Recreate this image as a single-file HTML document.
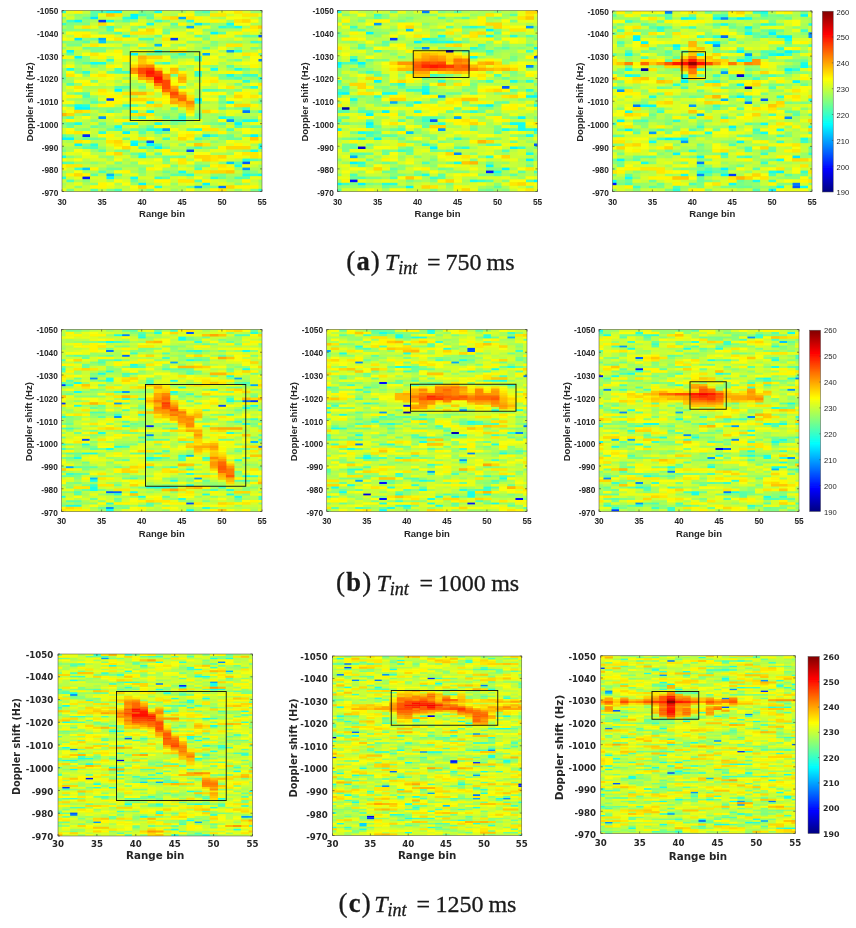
<!DOCTYPE html>
<html lang="en"><head><meta charset="utf-8"><title>Range-Doppler maps</title>
<style>html,body{margin:0;padding:0;background:#fff}body{width:856px;height:928px;overflow:hidden;position:relative}svg{position:absolute;left:0;top:0;display:block}</style></head><body>
<svg width="856" height="928" viewBox="0 0 856 928">
<defs>
<linearGradient id="jet" x1="0" y1="0" x2="0" y2="1"><stop offset="0.0000" stop-color="#800000"/><stop offset="0.0312" stop-color="#9f0000"/><stop offset="0.0625" stop-color="#bf0000"/><stop offset="0.0938" stop-color="#df0000"/><stop offset="0.1250" stop-color="#ff0000"/><stop offset="0.1562" stop-color="#ff2000"/><stop offset="0.1875" stop-color="#ff4000"/><stop offset="0.2188" stop-color="#ff6000"/><stop offset="0.2500" stop-color="#ff8000"/><stop offset="0.2812" stop-color="#ff9f00"/><stop offset="0.3125" stop-color="#ffbf00"/><stop offset="0.3438" stop-color="#ffdf00"/><stop offset="0.3750" stop-color="#ffff00"/><stop offset="0.4062" stop-color="#dfff20"/><stop offset="0.4375" stop-color="#bfff40"/><stop offset="0.4688" stop-color="#9fff60"/><stop offset="0.5000" stop-color="#80ff80"/><stop offset="0.5312" stop-color="#60ff9f"/><stop offset="0.5625" stop-color="#40ffbf"/><stop offset="0.5938" stop-color="#20ffdf"/><stop offset="0.6250" stop-color="#00ffff"/><stop offset="0.6562" stop-color="#00dfff"/><stop offset="0.6875" stop-color="#00bfff"/><stop offset="0.7188" stop-color="#009fff"/><stop offset="0.7500" stop-color="#0080ff"/><stop offset="0.7812" stop-color="#0060ff"/><stop offset="0.8125" stop-color="#0040ff"/><stop offset="0.8438" stop-color="#0020ff"/><stop offset="0.8750" stop-color="#0000ff"/><stop offset="0.9062" stop-color="#0000df"/><stop offset="0.9375" stop-color="#0000bf"/><stop offset="0.9688" stop-color="#00009f"/><stop offset="1.0000" stop-color="#000080"/></linearGradient>
<filter id="bl" x="-5%" y="-5%" width="110%" height="110%"><feGaussianBlur stdDeviation="0.65"/></filter>
<filter id="tb" x="-5%" y="-5%" width="110%" height="110%"><feGaussianBlur stdDeviation="0.4"/></filter>
</defs>
<rect width="856" height="928" fill="#fff"/>
<!-- panel 0 -->
<clipPath id="cp0"><rect x="62.00" y="10.50" width="200.00" height="181.00"/></clipPath>
<g clip-path="url(#cp0)">
<rect x="61.00" y="9.50" width="202.00" height="183.00" fill="#c4f03b"/>
<g filter="url(#bl)">
<g transform="translate(58.000 12.008) scale(8.0000 3.0167)" stroke-width="1.12" fill="none">
<path stroke="#0018ff" d="M3 55h1.06"/>
<path stroke="#0028ff" d="M3 41h1.06"/>
<path stroke="#0038ff" d="M5 3h1.06M14 9h1.06M6 29h1.06"/>
<path stroke="#0048ff" d="M16 46h1.06"/>
<path stroke="#0058ff" d="M25 8h1.06M11 43h1.06M23 50h1.06"/>
<path stroke="#0078ff" d="M23 33h1.06M20 58h1.06"/>
<path stroke="#0087ff" d="M25 16h1.06"/>
<path stroke="#0097ff" d="M21 13h1.06M5 35h1.06M21 36h1.06M13 39h1.06M23 52h1.06"/>
<path stroke="#00a7ff" d="M15 2h1.06M16 5h1.06M5 9h1.06M18 14h1.06M17 58h1.06"/>
<path stroke="#00b7ff" d="M12 11h1.06M6 54h1.06"/>
<path stroke="#00c7ff" d="M5 10h1.06M21 50h1.06M3 52h1.06"/>
<path stroke="#00e7ff" d="M4 2h1.06M17 4h1.06M2 9h1.06M18 41h1.06"/>
<path stroke="#00f7ff" d="M7 0h1.06M9 1h1.06M9 2h1.06M2 3h1.06M19 7h1.06M1 13h1.06M9 14h1.06M2 15h1.06M7 26h1.06M17 29h1.06M21 30h1.06M2 32h2.06M11 33h1.06M22 37h1.06M8 40h1.06M24 41h1.06M0 42h2.06M2 44h1.06M9 44h1.06M11 44h1.06M12 45h1.06M6 55h1.06M10 57h1.06M18 57h1.06"/>
<path stroke="#08fff7" d="M6 0h1.06M12 0h1.06M11 4h1.06M21 4h1.06M4 17h1.06M19 19h1.06M2 31h1.06M7 38h1.06M9 43h1.06M25 45h1.06M10 48h1.06M15 53h1.06M25 54h1.06M9 55h1.06"/>
<path stroke="#18ffe7" d="M6 3h1.06M22 5h1.06M8 8h1.06M12 13h1.06M5 17h1.06M1 19h1.06M22 19h1.06M21 21h1.06M25 22h1.06M9 33h1.06M25 33h1.06M15 35h1.06M20 35h1.06M23 36h2.06M2 37h1.06M12 37h1.06M12 39h1.06M24 46h1.06M0 48h1.06M22 51h1.06M23 54h1.06"/>
<path stroke="#28ffd7" d="M8 2h1.06M16 3h1.06M20 5h1.06M22 13h1.06M15 14h1.06M3 20h1.06M23 23h1.06M24 25h1.06M11 30h1.06M3 31h1.06M8 31h1.06M11 39h1.06M17 39h1.06M5 40h1.06M4 44h1.06M25 44h1.06M23 49h1.06M16 54h1.06M0 55h1.06M19 55h1.06M12 58h1.06M25 59h1.06"/>
<path stroke="#38ffc7" d="M0 0h1.06M1 3h1.06M12 3h1.06M0 4h1.06M6 5h1.06M24 10h1.06M6 16h1.06M13 17h1.06M8 20h1.06M17 20h1.06M17 21h1.06M23 21h2.06M17 30h1.06M23 32h1.06M10 35h1.06M8 37h2.06M19 41h1.06M13 42h1.06M10 45h1.06M10 47h1.06M2 52h1.06M24 54h1.06M12 55h1.06"/>
<path stroke="#48ffb7" d="M5 0h1.06M18 0h1.06M10 1h1.06M21 5h1.06M6 6h1.06M7 7h1.06M10 9h2.06M25 10h1.06M17 15h1.06M17 16h1.06M7 19h1.06M7 20h1.06M22 22h1.06M1 24h1.06M18 26h1.06M3 28h1.06M4 30h1.06M9 31h1.06M21 35h1.06M15 36h1.06M22 38h1.06M7 39h1.06M21 39h1.06M12 40h1.06M17 42h1.06M12 44h1.06M4 45h1.06M17 45h1.06M0 50h1.06M17 52h1.06M5 53h1.06M22 55h1.06M1 56h1.06M7 59h1.06"/>
<path stroke="#58ffa7" d="M4 0h1.06M4 1h1.06M11 2h1.06M8 3h1.06M14 4h1.06M18 4h1.06M20 7h1.06M17 8h1.06M23 8h1.06M3 10h1.06M18 12h1.06M1 14h1.06M11 14h1.06M3 17h1.06M21 18h1.06M7 25h2.06M19 26h1.06M2 27h2.06M25 27h1.06M20 28h1.06M14 32h1.06M20 32h1.06M6 33h1.06M15 34h1.06M1 35h1.06M13 35h1.06M14 36h1.06M1 37h1.06M20 37h1.06M16 39h1.06M10 40h1.06M0 41h1.06M3 45h1.06M5 46h1.06M12 47h1.06M24 49h1.06M1 50h1.06M22 50h1.06M4 54h1.06M14 54h2.06M13 55h1.06M23 55h1.06M17 56h1.06M4 59h1.06"/>
<path stroke="#68ff97" d="M17 0h1.06M11 1h1.06M3 2h1.06M10 5h1.06M13 7h1.06M12 8h1.06M24 8h1.06M4 9h1.06M8 11h1.06M3 12h1.06M12 14h1.06M25 14h1.06M14 15h1.06M22 16h1.06M12 17h1.06M23 19h1.06M6 20h1.06M14 21h1.06M0 22h1.06M21 22h1.06M10 25h1.06M20 30h1.06M25 30h1.06M1 31h1.06M3 34h1.06M17 34h1.06M17 35h1.06M22 36h1.06M5 37h1.06M1 38h1.06M4 38h1.06M11 38h1.06M24 38h2.06M6 39h1.06M9 39h2.06M21 41h1.06M23 41h1.06M3 42h2.06M8 42h1.06M21 42h2.06M10 43h1.06M11 45h1.06M13 45h1.06M9 47h1.06M13 48h1.06M15 48h1.06M17 51h2.06M6 52h2.06M13 53h1.06M23 53h1.06M7 54h1.06M20 55h1.06M9 56h1.06M16 58h1.06"/>
<path stroke="#78ff87" d="M10 0h1.06M13 3h1.06M1 4h1.06M3 4h1.06M0 6h1.06M3 6h1.06M13 6h1.06M18 9h1.06M0 10h1.06M19 10h1.06M1 11h2.06M4 12h2.06M10 12h1.06M24 12h1.06M4 13h2.06M14 14h1.06M0 16h1.06M2 16h1.06M2 20h1.06M20 21h1.06M22 21h1.06M20 22h1.06M4 23h1.06M25 23h1.06M22 24h1.06M15 25h1.06M23 25h1.06M20 26h1.06M22 26h1.06M4 29h1.06M25 29h1.06M5 30h1.06M4 32h1.06M6 32h3.06M22 32h1.06M0 37h1.06M14 37h1.06M19 37h1.06M13 40h1.06M1 41h1.06M20 41h1.06M5 42h1.06M3 44h1.06M16 45h1.06M0 46h1.06M7 46h2.06M14 48h1.06M13 49h1.06M25 49h1.06M7 50h1.06M14 51h1.06M10 52h1.06M20 54h1.06M18 58h2.06M1 59h1.06M6 59h1.06M11 59h1.06M24 59h1.06"/>
<path stroke="#87ff78" d="M11 0h1.06M2 1h1.06M17 1h1.06M0 2h1.06M25 2h1.06M3 3h1.06M7 3h1.06M9 3h1.06M2 4h1.06M1 5h1.06M5 5h1.06M14 5h1.06M1 6h2.06M9 6h1.06M18 6h2.06M5 7h2.06M18 8h1.06M22 8h1.06M3 9h1.06M1 10h2.06M6 10h1.06M16 10h2.06M22 10h1.06M15 11h1.06M19 11h1.06M11 12h1.06M22 12h1.06M25 12h1.06M13 14h1.06M3 15h1.06M15 15h2.06M3 16h1.06M2 17h1.06M4 18h1.06M19 18h1.06M2 19h1.06M15 19h1.06M25 19h1.06M0 21h1.06M3 21h1.06M24 22h1.06M0 23h1.06M1 27h1.06M3 29h1.06M20 29h1.06M0 31h1.06M5 32h1.06M7 33h1.06M24 33h1.06M13 34h1.06M0 35h1.06M8 35h2.06M22 35h1.06M4 36h1.06M18 37h1.06M5 38h1.06M23 38h1.06M3 39h1.06M25 41h1.06M18 42h1.06M20 42h1.06M19 43h1.06M15 44h1.06M18 45h2.06M14 46h1.06M23 46h1.06M1 48h1.06M6 48h1.06M11 48h1.06M4 50h1.06M9 50h1.06M13 50h1.06M20 50h1.06M10 53h1.06M24 53h1.06M19 54h1.06M3 56h1.06M4 57h1.06M22 57h1.06M2 58h1.06"/>
<path stroke="#97ff68" d="M24 0h2.06M3 1h1.06M18 1h1.06M2 2h1.06M21 3h1.06M19 4h2.06M7 5h1.06M9 5h1.06M15 5h1.06M19 5h1.06M4 6h1.06M9 8h1.06M7 10h1.06M11 10h1.06M21 10h1.06M9 11h1.06M0 12h1.06M6 12h1.06M13 13h1.06M16 14h1.06M23 15h1.06M1 16h1.06M21 16h1.06M0 17h1.06M8 17h1.06M16 18h1.06M18 18h1.06M0 19h1.06M21 19h1.06M0 20h1.06M25 20h1.06M8 22h1.06M23 22h1.06M1 23h1.06M2 24h1.06M9 24h2.06M8 26h1.06M21 26h1.06M21 27h1.06M4 28h1.06M2 29h1.06M3 30h1.06M18 30h1.06M24 30h1.06M10 31h1.06M20 31h1.06M21 32h1.06M5 33h1.06M14 33h1.06M17 33h1.06M2 34h1.06M12 34h1.06M19 34h1.06M14 35h1.06M16 35h1.06M24 35h1.06M19 36h1.06M13 37h1.06M15 37h1.06M0 38h1.06M6 38h1.06M10 38h1.06M20 38h1.06M2 39h1.06M8 39h1.06M10 41h1.06M2 42h1.06M16 43h2.06M0 45h1.06M2 45h1.06M5 45h1.06M4 46h1.06M11 46h1.06M15 46h1.06M25 46h1.06M21 47h1.06M5 48h1.06M9 48h1.06M12 48h1.06M2 50h1.06M17 50h1.06M6 51h1.06M8 51h3.06M25 51h1.06M5 52h1.06M22 52h1.06M0 53h1.06M6 53h1.06M14 53h1.06M10 54h1.06M13 54h1.06M21 55h1.06M21 56h1.06M25 56h1.06M9 57h1.06M14 57h1.06M14 59h1.06M22 59h1.06"/>
<path stroke="#a7ff58" d="M15 0h1.06M8 1h1.06M14 1h1.06M10 2h1.06M20 2h1.06M4 3h1.06M11 3h1.06M15 3h1.06M25 3h1.06M24 4h2.06M0 5h1.06M13 5h1.06M23 5h1.06M5 6h1.06M20 6h3.06M0 7h1.06M8 7h1.06M16 7h1.06M20 10h1.06M23 10h1.06M14 11h1.06M18 11h1.06M25 11h1.06M7 12h2.06M17 12h1.06M8 13h1.06M16 13h2.06M20 13h1.06M23 13h1.06M0 14h1.06M8 14h1.06M10 14h1.06M20 15h1.06M14 16h1.06M6 17h1.06M14 17h1.06M20 17h1.06M2 18h1.06M5 18h1.06M5 19h1.06M24 19h1.06M18 20h1.06M23 20h1.06M19 21h1.06M1 22h1.06M7 23h1.06M17 23h1.06M24 23h1.06M8 24h1.06M16 24h1.06M3 25h3.06M9 25h1.06M10 26h1.06M17 26h1.06M17 27h1.06M9 28h1.06M1 29h1.06M12 32h1.06M12 33h2.06M4 34h1.06M14 34h1.06M18 34h1.06M20 34h1.06M18 35h2.06M23 35h1.06M13 36h1.06M18 36h1.06M25 36h1.06M3 37h1.06M19 38h1.06M5 39h1.06M21 40h2.06M2 41h1.06M12 41h1.06M14 41h1.06M1 43h1.06M20 43h1.06M13 44h1.06M24 44h1.06M1 45h1.06M1 46h1.06M22 46h1.06M8 47h1.06M16 47h1.06M19 47h2.06M2 48h1.06M6 49h1.06M8 49h1.06M16 49h1.06M3 50h1.06M5 50h1.06M18 50h1.06M7 51h1.06M11 51h1.06M16 51h1.06M13 52h2.06M24 52h2.06M3 53h2.06M9 53h1.06M12 53h1.06M21 54h2.06M7 55h1.06M2 56h1.06M6 56h1.06M10 56h1.06M22 56h1.06M0 57h1.06M3 57h1.06M7 57h1.06M11 57h1.06M23 57h1.06M25 57h1.06M15 58h1.06M10 59h1.06"/>
<path stroke="#b7ff48" d="M8 0h1.06M14 0h1.06M19 0h1.06M1 1h1.06M13 1h1.06M19 2h1.06M0 3h1.06M7 4h2.06M16 4h1.06M14 6h2.06M18 7h1.06M1 8h1.06M11 8h1.06M12 9h1.06M21 9h1.06M23 9h2.06M4 10h1.06M10 10h1.06M12 10h1.06M17 11h1.06M20 11h1.06M13 12h2.06M19 12h1.06M21 12h1.06M2 13h2.06M24 13h1.06M2 14h1.06M21 14h1.06M6 15h1.06M4 16h1.06M8 18h1.06M15 18h1.06M20 18h1.06M22 18h1.06M3 19h1.06M8 19h1.06M16 19h1.06M4 20h1.06M9 23h1.06M0 24h1.06M21 24h1.06M0 25h1.06M6 25h1.06M19 25h1.06M0 26h1.06M3 26h1.06M11 26h1.06M25 26h1.06M12 27h1.06M8 28h1.06M12 28h1.06M17 28h1.06M2 30h1.06M12 30h1.06M19 30h1.06M22 30h1.06M7 31h1.06M17 32h2.06M10 33h1.06M15 33h1.06M23 34h2.06M4 35h1.06M7 35h1.06M12 35h1.06M3 36h1.06M5 36h1.06M16 36h1.06M6 37h1.06M11 37h1.06M17 37h1.06M21 37h1.06M23 37h1.06M2 38h2.06M14 38h1.06M11 40h1.06M18 40h1.06M4 41h1.06M17 41h1.06M22 41h1.06M0 43h1.06M4 43h2.06M12 43h3.06M18 43h1.06M5 44h1.06M10 44h1.06M19 44h2.06M14 45h2.06M6 46h1.06M18 46h1.06M21 46h1.06M4 47h2.06M3 49h1.06M22 49h1.06M8 50h1.06M4 51h1.06M8 52h2.06M1 53h1.06M16 53h1.06M25 53h1.06M0 54h1.06M5 54h1.06M12 54h1.06M17 54h1.06M8 55h1.06M16 55h1.06M18 55h1.06M0 58h1.06M8 58h1.06M13 58h2.06M25 58h1.06M5 59h1.06M15 59h1.06M17 59h2.06"/>
<path stroke="#c7ff38" d="M3 0h1.06M9 0h1.06M13 0h1.06M21 1h1.06M5 2h1.06M7 2h1.06M12 2h1.06M24 2h1.06M14 3h1.06M4 4h1.06M12 4h1.06M11 5h1.06M17 5h1.06M25 6h1.06M4 7h1.06M23 7h1.06M25 7h1.06M7 8h1.06M10 8h1.06M15 9h1.06M20 9h1.06M8 10h2.06M18 10h1.06M0 11h1.06M11 11h1.06M23 11h1.06M1 12h1.06M12 12h1.06M16 12h1.06M23 12h1.06M17 14h1.06M19 14h1.06M21 15h1.06M5 16h1.06M15 16h1.06M23 16h1.06M1 17h1.06M21 17h1.06M0 18h1.06M3 18h1.06M17 18h1.06M23 18h1.06M4 19h1.06M6 19h1.06M20 19h1.06M19 20h1.06M18 21h1.06M25 21h1.06M2 22h2.06M17 22h1.06M16 23h1.06M5 24h1.06M7 24h1.06M19 24h1.06M23 24h1.06M16 25h1.06M18 25h1.06M22 25h1.06M1 26h1.06M4 26h1.06M5 28h1.06M11 28h1.06M19 28h1.06M21 28h1.06M24 29h1.06M4 31h1.06M13 31h1.06M17 31h3.06M25 31h1.06M11 32h1.06M13 32h1.06M19 32h1.06M0 33h1.06M4 33h1.06M8 33h1.06M20 33h1.06M8 34h1.06M22 34h1.06M2 35h1.06M0 36h1.06M6 36h1.06M11 36h1.06M7 37h1.06M10 37h1.06M16 37h1.06M8 38h1.06M15 38h1.06M4 39h1.06M15 39h1.06M20 39h1.06M4 40h1.06M14 40h1.06M19 40h1.06M25 40h1.06M7 41h1.06M11 41h1.06M12 42h1.06M19 42h1.06M15 43h1.06M0 44h2.06M6 45h1.06M24 45h1.06M17 46h1.06M0 47h1.06M14 50h1.06M3 51h1.06M5 51h1.06M15 51h1.06M24 51h1.06M1 52h1.06M19 52h1.06M11 53h1.06M22 53h1.06M8 54h1.06M11 54h1.06M18 54h1.06M1 55h1.06M0 56h1.06M4 56h1.06M11 56h1.06M14 56h1.06M20 56h1.06M24 56h1.06M1 57h1.06M12 57h1.06M17 57h1.06M19 57h1.06M21 57h1.06M3 58h1.06M7 58h1.06M3 59h1.06M8 59h1.06M21 59h1.06M23 59h1.06"/>
<path stroke="#d7ff28" d="M16 0h1.06M23 0h1.06M1 2h1.06M6 2h1.06M10 3h1.06M13 4h1.06M2 5h1.06M8 5h1.06M12 5h1.06M0 8h1.06M16 8h1.06M19 8h1.06M19 9h1.06M3 11h1.06M7 11h1.06M16 11h1.06M24 11h1.06M2 12h1.06M9 12h1.06M6 13h1.06M11 13h1.06M22 15h1.06M9 16h1.06M12 16h1.06M16 16h1.06M20 16h1.06M7 17h1.06M25 17h1.06M25 18h1.06M16 20h1.06M24 20h1.06M8 21h1.06M16 21h1.06M4 22h1.06M7 22h1.06M9 22h1.06M6 23h1.06M20 23h3.06M11 25h1.06M17 25h1.06M6 26h1.06M9 26h1.06M7 27h1.06M16 27h1.06M24 27h1.06M18 28h1.06M23 29h1.06M8 30h1.06M23 30h1.06M1 32h1.06M15 32h1.06M24 32h2.06M5 34h1.06M7 34h1.06M25 34h1.06M6 35h1.06M2 36h1.06M10 36h1.06M4 37h1.06M16 38h1.06M21 38h1.06M0 39h1.06M22 39h1.06M24 39h2.06M0 40h1.06M6 40h2.06M9 40h1.06M13 41h1.06M14 42h1.06M8 43h1.06M22 43h2.06M14 44h1.06M21 44h1.06M3 46h1.06M9 46h1.06M12 46h1.06M2 47h1.06M11 47h1.06M15 47h1.06M7 48h2.06M16 48h1.06M1 49h1.06M4 49h2.06M9 49h3.06M21 49h1.06M6 50h1.06M12 50h1.06M19 50h1.06M25 50h1.06M16 52h1.06M18 52h1.06M4 55h2.06M10 55h2.06M14 55h1.06M5 56h1.06M8 56h1.06M19 56h1.06M15 57h1.06M24 57h1.06M1 58h1.06M2 59h1.06M13 59h1.06"/>
<path stroke="#e7ff18" d="M1 0h1.06M20 0h1.06M0 1h1.06M5 1h1.06M12 1h1.06M22 1h1.06M25 1h1.06M18 2h1.06M23 2h1.06M17 3h2.06M20 3h1.06M10 4h1.06M4 5h1.06M18 5h1.06M8 6h1.06M17 6h1.06M14 7h2.06M21 7h1.06M24 7h1.06M13 8h1.06M15 8h1.06M21 8h1.06M1 9h1.06M9 9h1.06M16 9h2.06M22 9h1.06M25 9h1.06M13 10h3.06M6 11h1.06M0 13h1.06M9 13h1.06M18 13h2.06M20 14h1.06M22 14h1.06M1 15h1.06M4 15h1.06M9 15h1.06M18 15h1.06M7 16h1.06M13 16h1.06M18 16h2.06M15 17h1.06M17 17h1.06M19 17h1.06M22 17h1.06M13 19h1.06M18 19h1.06M5 20h1.06M20 20h1.06M7 21h1.06M5 22h1.06M14 22h1.06M16 22h1.06M18 22h1.06M5 23h1.06M8 23h1.06M10 23h1.06M6 24h1.06M11 24h1.06M17 24h1.06M20 24h1.06M1 25h1.06M25 25h1.06M23 26h2.06M4 27h1.06M0 28h1.06M2 28h1.06M10 28h1.06M0 29h1.06M5 29h1.06M14 31h1.06M21 33h2.06M21 34h1.06M11 35h1.06M17 36h1.06M24 37h2.06M9 38h1.06M12 38h1.06M24 40h1.06M8 41h2.06M6 42h2.06M9 42h1.06M23 42h1.06M25 43h1.06M6 44h1.06M16 44h1.06M23 44h1.06M9 45h1.06M10 46h1.06M19 46h2.06M1 47h1.06M13 47h1.06M3 48h2.06M21 48h1.06M23 48h1.06M11 50h1.06M24 50h1.06M12 51h1.06M21 51h1.06M23 51h1.06M15 52h1.06M9 54h1.06M2 55h1.06M15 55h1.06M24 55h2.06M2 57h1.06M13 57h1.06M16 57h1.06M20 57h1.06M6 58h1.06M0 59h1.06M9 59h1.06M12 59h1.06"/>
<path stroke="#f7ff08" d="M21 0h1.06M15 1h1.06M21 2h2.06M24 3h1.06M6 4h1.06M9 4h1.06M22 4h2.06M7 6h1.06M10 6h1.06M12 6h1.06M16 6h1.06M1 7h1.06M12 7h1.06M17 7h1.06M4 8h2.06M14 8h1.06M0 9h1.06M6 9h1.06M5 11h1.06M13 11h1.06M15 12h1.06M20 12h1.06M10 13h1.06M25 13h1.06M3 14h1.06M5 14h3.06M7 15h1.06M13 15h1.06M19 15h1.06M24 15h2.06M24 16h1.06M9 17h1.06M16 17h1.06M23 17h2.06M1 18h1.06M7 18h1.06M12 18h3.06M1 20h1.06M13 20h1.06M22 20h1.06M2 21h1.06M9 21h1.06M6 22h1.06M2 23h2.06M14 23h1.06M4 24h1.06M15 24h1.06M18 24h1.06M24 24h1.06M20 25h1.06M2 26h1.06M12 26h1.06M15 26h2.06M0 27h1.06M6 27h1.06M18 27h1.06M20 27h1.06M25 28h1.06M7 29h2.06M13 29h1.06M18 29h2.06M21 29h2.06M0 30h2.06M9 30h2.06M21 31h1.06M0 32h1.06M9 32h2.06M1 33h1.06M6 34h1.06M16 34h1.06M3 35h1.06M25 35h1.06M9 36h1.06M20 36h1.06M13 38h1.06M17 38h1.06M1 39h1.06M14 39h1.06M23 39h1.06M3 40h1.06M15 40h1.06M17 40h1.06M23 40h1.06M5 41h1.06M11 42h1.06M25 42h1.06M21 43h1.06M8 44h1.06M7 45h1.06M2 46h1.06M3 47h1.06M17 47h2.06M22 47h1.06M25 47h1.06M0 49h1.06M2 49h1.06M7 49h1.06M12 49h1.06M14 49h1.06M17 49h1.06M10 50h1.06M16 50h1.06M0 52h1.06M12 52h1.06M2 53h1.06M7 53h1.06M17 55h1.06M7 56h1.06M6 57h1.06M8 57h1.06M9 58h1.06M16 59h1.06"/>
<path stroke="#fff700" d="M2 0h1.06M16 1h1.06M17 2h1.06M19 3h1.06M15 4h1.06M23 6h2.06M2 7h2.06M22 7h1.06M2 8h1.06M6 8h1.06M20 8h1.06M8 9h1.06M10 11h1.06M7 13h1.06M24 14h1.06M0 15h1.06M5 15h1.06M8 15h1.06M8 16h1.06M11 16h1.06M18 17h1.06M6 18h1.06M24 18h1.06M17 19h1.06M15 20h1.06M21 20h1.06M4 21h1.06M6 21h1.06M19 22h1.06M18 23h1.06M3 24h1.06M14 24h1.06M5 27h1.06M19 27h1.06M22 27h2.06M1 28h1.06M6 28h2.06M13 28h1.06M23 28h1.06M12 29h1.06M6 30h2.06M13 30h1.06M5 31h2.06M24 31h1.06M19 33h1.06M1 36h1.06M7 36h2.06M18 38h1.06M1 40h1.06M16 40h1.06M20 40h1.06M6 41h1.06M15 41h1.06M16 42h1.06M3 43h1.06M24 43h1.06M22 44h1.06M20 45h1.06M13 46h1.06M6 47h1.06M14 47h1.06M22 48h1.06M25 48h1.06M20 49h1.06M0 51h1.06M13 51h1.06M19 51h1.06M4 52h1.06M11 52h1.06M20 52h2.06M8 53h1.06M1 54h1.06M3 54h1.06M12 56h2.06M18 56h1.06M23 56h1.06M5 57h1.06M4 58h2.06M11 58h1.06M22 58h3.06M19 59h1.06"/>
<path stroke="#ffe700" d="M22 0h1.06M7 1h1.06M19 1h2.06M23 1h2.06M13 2h1.06M16 2h1.06M22 3h1.06M3 5h1.06M24 5h1.06M9 7h3.06M3 8h1.06M7 9h1.06M13 9h1.06M4 11h1.06M21 11h2.06M14 13h2.06M4 14h1.06M23 14h1.06M11 17h1.06M1 21h1.06M5 21h1.06M19 23h1.06M25 24h1.06M2 25h1.06M21 25h1.06M5 26h1.06M8 27h1.06M11 27h1.06M16 28h1.06M24 28h1.06M11 29h1.06M11 31h1.06M3 33h1.06M16 33h1.06M9 34h1.06M11 34h1.06M12 36h1.06M18 39h2.06M2 40h1.06M16 41h1.06M10 42h1.06M2 43h1.06M6 43h1.06M7 44h1.06M18 44h1.06M23 47h2.06M19 48h1.06M24 48h1.06M15 49h1.06M19 49h1.06M15 50h1.06M1 51h2.06M20 51h1.06M17 53h2.06M15 56h2.06M20 59h1.06"/>
<path stroke="#ffd700" d="M14 2h1.06M23 3h1.06M5 4h1.06M11 6h1.06M11 15h2.06M9 18h1.06M22 28h1.06M9 29h2.06M16 29h1.06M12 31h1.06M22 31h2.06M2 33h1.06M18 33h1.06M1 34h1.06M10 34h1.06M15 42h1.06M7 43h1.06M8 45h1.06M21 45h3.06M7 47h1.06M17 48h2.06M20 48h1.06M18 49h1.06M19 53h2.06M2 54h1.06M10 58h1.06M21 58h1.06"/>
<path stroke="#ffc700" d="M6 1h1.06M25 5h1.06M10 16h1.06M10 17h1.06M12 19h1.06M14 20h1.06M15 21h1.06M11 23h1.06M12 25h1.06M13 27h1.06M15 31h1.06M16 32h1.06M24 42h1.06M17 44h1.06M21 53h1.06"/>
<path stroke="#ffb700" d="M10 15h1.06M14 19h1.06M15 23h1.06M9 27h2.06M15 27h1.06M14 29h1.06M15 30h1.06M0 34h1.06"/>
<path stroke="#ffa700" d="M10 22h1.06M15 22h1.06M14 25h1.06M14 30h1.06M16 31h1.06"/>
<path stroke="#ff9700" d="M10 18h1.06M9 20h1.06M13 21h1.06M13 22h1.06"/>
<path stroke="#ff8700" d="M11 18h1.06M9 19h1.06M11 22h1.06M14 26h1.06M16 30h1.06"/>
<path stroke="#ff7800" d="M10 21h1.06M12 24h1.06M15 28h1.06"/>
<path stroke="#ff6800" d="M13 26h1.06M14 28h1.06M15 29h1.06"/>
<path stroke="#ff4800" d="M10 19h1.06M10 20h1.06M12 20h1.06M13 23h1.06M13 24h1.06M13 25h1.06M14 27h1.06"/>
<path stroke="#ff3800" d="M11 19h1.06M12 21h1.06"/>
<path stroke="#ff2800" d="M11 21h1.06M12 23h1.06"/>
<path stroke="#ff1800" d="M11 20h1.06"/>
<path stroke="#ff0800" d="M12 22h1.06"/>
</g></g></g>
<!-- panel 1 -->
<clipPath id="cp1"><rect x="337.50" y="10.50" width="200.00" height="181.00"/></clipPath>
<g clip-path="url(#cp1)">
<rect x="336.50" y="9.50" width="202.00" height="183.00" fill="#c4f03b"/>
<g filter="url(#bl)">
<g transform="translate(333.500 12.008) scale(8.0000 3.0167)" stroke-width="1.12" fill="none">
<path stroke="#0000a7" d="M14 13h1.06M1 32h1.06"/>
<path stroke="#0000d7" d="M3 45h1.06"/>
<path stroke="#0008ff" d="M2 56h1.06"/>
<path stroke="#0018ff" d="M19 53h1.06"/>
<path stroke="#0038ff" d="M7 9h1.06"/>
<path stroke="#0058ff" d="M25 15h1.06M21 25h1.06M12 36h1.06M25 44h1.06"/>
<path stroke="#0078ff" d="M11 0h1.06"/>
<path stroke="#0087ff" d="M11 12h1.06M24 18h1.06M15 47h1.06"/>
<path stroke="#0097ff" d="M5 4h1.06M24 5h1.06M13 28h1.06M13 39h1.06"/>
<path stroke="#00a7ff" d="M7 30h1.06M15 35h1.06M2 48h1.06"/>
<path stroke="#00c7ff" d="M9 6h1.06M9 40h1.06"/>
<path stroke="#00e7ff" d="M2 16h1.06"/>
<path stroke="#00f7ff" d="M19 6h1.06M4 7h1.06M10 10h1.06M25 12h1.06M0 17h1.06M3 17h1.06M5 23h1.06M1 27h1.06M11 27h1.06M24 28h2.06M10 30h1.06M19 31h1.06M6 33h1.06M4 34h1.06M23 35h1.06M4 37h1.06M0 39h1.06M25 39h1.06M5 42h1.06M12 45h1.06M22 45h1.06M24 49h1.06M2 50h1.06M19 51h1.06M21 52h1.06M25 56h1.06M0 57h1.06M3 57h1.06M9 58h1.06"/>
<path stroke="#08fff7" d="M13 8h1.06M19 8h1.06M11 9h1.06M14 10h1.06M17 15h1.06M0 18h1.06M0 27h1.06M6 27h2.06M2 29h1.06M25 31h1.06M22 37h2.06M23 39h1.06M3 40h1.06M24 41h1.06"/>
<path stroke="#18ffe7" d="M0 0h1.06M12 10h1.06M22 23h1.06M11 26h1.06M4 38h1.06M23 38h1.06M21 39h1.06M24 47h1.06M15 50h1.06M20 53h1.06M11 54h1.06M17 56h1.06"/>
<path stroke="#28ffd7" d="M17 5h1.06M22 8h1.06M13 10h1.06M17 12h1.06M13 23h1.06M24 23h1.06M8 24h1.06M11 25h1.06M24 26h1.06M5 28h1.06M18 31h1.06M10 33h1.06M17 33h1.06M13 37h1.06M24 39h1.06M3 42h1.06M11 44h1.06M16 45h1.06M19 48h1.06M3 50h1.06M6 57h2.06"/>
<path stroke="#38ffc7" d="M5 1h1.06M2 5h1.06M12 9h1.06M15 10h1.06M5 13h1.06M19 13h1.06M24 13h1.06M4 20h1.06M12 21h1.06M0 23h1.06M19 23h1.06M9 26h2.06M0 36h1.06M11 36h1.06M4 40h1.06M15 42h1.06M23 45h1.06M8 46h1.06M12 55h1.06M18 56h1.06M1 57h1.06"/>
<path stroke="#48ffb7" d="M16 5h1.06M18 5h1.06M18 11h1.06M3 12h1.06M16 13h1.06M2 15h1.06M1 17h2.06M20 21h1.06M1 25h1.06M0 26h1.06M9 31h1.06M0 33h1.06M3 33h2.06M11 35h2.06M8 39h1.06M25 40h1.06M4 41h1.06M15 45h1.06M21 46h1.06M11 50h1.06M3 51h1.06M25 53h1.06M2 54h1.06M3 55h1.06M7 55h1.06M24 56h1.06"/>
<path stroke="#58ffa7" d="M15 0h1.06M22 1h1.06M5 2h1.06M13 2h1.06M16 2h1.06M14 5h1.06M3 6h1.06M20 7h1.06M24 8h1.06M6 10h1.06M3 11h1.06M21 12h1.06M4 16h1.06M3 18h1.06M5 21h1.06M13 21h1.06M7 24h1.06M8 25h1.06M1 26h1.06M22 26h1.06M25 27h1.06M21 30h1.06M1 33h1.06M9 35h1.06M4 36h1.06M8 36h1.06M11 38h1.06M5 40h1.06M20 40h1.06M6 41h2.06M19 44h2.06M9 46h1.06M14 46h1.06M2 47h2.06M7 52h1.06M23 53h1.06M13 54h1.06M20 54h1.06M22 54h1.06M13 55h1.06M19 56h1.06M20 58h1.06M0 59h1.06"/>
<path stroke="#68ff97" d="M7 0h1.06M0 7h1.06M13 9h1.06M11 10h1.06M6 11h1.06M24 11h1.06M10 12h1.06M18 12h1.06M19 14h1.06M8 15h1.06M2 19h1.06M5 20h1.06M9 20h1.06M11 22h1.06M21 22h1.06M12 27h1.06M14 27h2.06M17 27h1.06M0 28h1.06M12 29h1.06M8 30h2.06M20 30h1.06M6 31h1.06M17 31h1.06M15 32h1.06M14 33h1.06M16 33h1.06M18 33h1.06M1 35h1.06M13 35h1.06M1 37h1.06M11 37h1.06M5 38h1.06M7 39h1.06M17 39h1.06M22 39h1.06M2 42h1.06M8 42h1.06M22 43h1.06M2 44h1.06M2 45h1.06M9 45h1.06M6 46h1.06M12 46h1.06M4 47h1.06M6 47h1.06M9 47h1.06M4 49h1.06M6 50h1.06M19 50h1.06M24 51h1.06M13 52h1.06M6 53h1.06M10 54h1.06M2 55h1.06M6 58h1.06M19 59h1.06"/>
<path stroke="#78ff87" d="M13 0h1.06M9 2h1.06M20 2h1.06M3 3h1.06M8 3h1.06M22 3h1.06M4 5h1.06M25 5h1.06M2 6h1.06M13 6h1.06M20 6h1.06M0 8h1.06M25 9h1.06M16 10h1.06M13 12h1.06M20 12h1.06M17 13h2.06M22 15h1.06M6 16h1.06M22 16h1.06M25 16h1.06M3 20h1.06M22 20h1.06M14 21h1.06M18 23h1.06M0 24h1.06M11 24h1.06M17 24h1.06M25 24h1.06M6 25h1.06M16 26h1.06M3 28h1.06M5 29h1.06M23 29h1.06M2 30h1.06M16 30h1.06M3 32h1.06M18 32h2.06M8 34h1.06M20 34h1.06M0 35h1.06M22 35h1.06M25 35h1.06M10 36h1.06M12 37h1.06M8 38h1.06M17 38h1.06M20 38h1.06M20 39h1.06M2 40h1.06M5 41h1.06M23 41h1.06M1 42h1.06M19 42h1.06M9 43h2.06M13 43h1.06M1 44h1.06M4 44h1.06M12 44h1.06M1 45h1.06M25 45h1.06M1 46h1.06M7 46h1.06M13 46h1.06M12 49h1.06M17 49h1.06M7 50h1.06M14 50h1.06M14 52h1.06M7 53h1.06M10 53h1.06M8 54h1.06M18 54h1.06M4 55h2.06M9 56h1.06M12 56h1.06M2 57h1.06M4 57h1.06M14 57h1.06M12 59h1.06M18 59h1.06"/>
<path stroke="#87ff78" d="M20 0h1.06M1 1h1.06M6 1h1.06M12 1h1.06M6 2h1.06M15 2h1.06M14 3h1.06M11 4h1.06M7 6h1.06M12 6h1.06M5 7h2.06M16 7h1.06M1 8h1.06M5 8h1.06M25 8h1.06M14 9h1.06M20 9h1.06M2 10h1.06M19 10h1.06M5 11h1.06M21 11h1.06M4 12h1.06M14 12h1.06M23 12h1.06M7 14h1.06M5 16h1.06M25 18h1.06M0 19h1.06M4 19h1.06M24 19h1.06M0 20h1.06M0 21h1.06M6 21h1.06M22 21h1.06M23 23h1.06M5 25h1.06M9 25h2.06M17 25h1.06M6 26h2.06M20 27h2.06M2 28h1.06M13 29h1.06M0 30h1.06M4 30h2.06M12 30h1.06M20 31h1.06M0 32h1.06M19 34h1.06M10 35h1.06M0 37h1.06M10 37h1.06M21 37h1.06M5 39h1.06M10 39h1.06M10 40h1.06M11 41h2.06M22 41h1.06M12 42h1.06M16 42h1.06M20 42h1.06M8 45h1.06M17 47h1.06M3 48h1.06M10 48h1.06M18 48h1.06M25 48h1.06M0 49h1.06M25 49h1.06M8 51h1.06M12 51h1.06M8 52h1.06M19 52h2.06M15 53h2.06M0 54h1.06M7 54h1.06M19 54h1.06M21 56h1.06M5 57h1.06M20 57h1.06M0 58h1.06M3 58h1.06M7 58h2.06M24 58h1.06M21 59h1.06"/>
<path stroke="#97ff68" d="M14 0h1.06M11 1h1.06M17 1h1.06M21 1h1.06M3 2h2.06M8 2h1.06M19 2h1.06M0 3h1.06M7 3h1.06M9 3h1.06M1 4h1.06M4 6h2.06M16 6h1.06M25 6h1.06M18 8h1.06M20 8h1.06M23 8h1.06M8 9h1.06M16 9h1.06M1 10h1.06M7 10h1.06M9 11h1.06M19 11h1.06M2 12h1.06M15 12h1.06M22 12h1.06M6 13h1.06M20 13h1.06M4 14h1.06M22 14h1.06M18 15h1.06M21 16h1.06M4 17h1.06M21 17h1.06M3 19h1.06M25 19h1.06M19 20h1.06M8 21h1.06M23 21h1.06M1 22h1.06M20 22h1.06M12 23h1.06M14 23h1.06M17 23h1.06M12 25h1.06M16 25h1.06M8 26h1.06M17 26h1.06M23 26h1.06M13 27h1.06M22 27h1.06M4 28h1.06M4 29h1.06M24 29h2.06M11 30h1.06M25 30h1.06M2 31h1.06M5 31h1.06M16 31h1.06M24 31h1.06M2 33h1.06M5 33h1.06M8 33h1.06M20 33h1.06M17 35h2.06M21 35h1.06M2 37h2.06M6 39h1.06M8 41h1.06M0 42h1.06M4 42h1.06M14 42h1.06M8 43h1.06M14 43h1.06M24 43h1.06M18 44h1.06M4 45h1.06M24 46h1.06M21 47h1.06M5 48h1.06M8 48h1.06M12 48h1.06M1 50h1.06M5 50h1.06M12 50h1.06M21 50h1.06M24 50h1.06M2 51h1.06M4 51h1.06M3 53h1.06M14 53h1.06M9 54h1.06M21 54h1.06M25 54h1.06M6 55h1.06M23 55h1.06M10 56h1.06M1 58h2.06M14 58h1.06M19 58h1.06M20 59h1.06"/>
<path stroke="#a7ff58" d="M4 0h1.06M9 0h1.06M16 0h1.06M18 0h2.06M22 0h1.06M2 1h1.06M8 1h3.06M18 1h1.06M10 2h1.06M14 2h1.06M21 2h1.06M2 3h1.06M19 3h1.06M2 4h1.06M12 4h1.06M24 4h1.06M0 5h1.06M7 5h1.06M11 5h1.06M6 6h1.06M17 6h1.06M12 7h1.06M23 7h1.06M4 8h1.06M8 8h1.06M12 8h1.06M15 8h1.06M21 8h1.06M0 9h1.06M4 9h1.06M10 9h1.06M24 9h1.06M0 10h1.06M9 10h1.06M21 10h1.06M24 10h1.06M10 11h1.06M12 11h1.06M22 11h2.06M25 11h1.06M19 12h1.06M24 12h1.06M0 13h1.06M4 13h1.06M7 13h1.06M15 13h1.06M21 13h2.06M9 14h1.06M20 14h1.06M23 14h1.06M0 15h1.06M9 15h1.06M20 15h1.06M23 15h1.06M0 16h1.06M3 16h1.06M24 16h1.06M1 18h1.06M4 18h1.06M1 19h1.06M21 20h1.06M1 21h1.06M15 21h1.06M2 22h1.06M6 22h1.06M12 22h2.06M22 22h1.06M24 22h1.06M2 23h1.06M6 23h1.06M11 23h1.06M15 23h1.06M25 23h1.06M1 24h1.06M5 24h1.06M14 24h1.06M20 24h1.06M22 24h1.06M7 25h1.06M23 25h1.06M2 26h1.06M4 26h1.06M12 26h2.06M25 26h1.06M10 27h1.06M24 27h1.06M14 28h1.06M3 29h1.06M22 29h1.06M6 30h1.06M7 31h1.06M20 32h1.06M15 33h1.06M25 33h1.06M13 34h1.06M21 34h1.06M24 34h1.06M5 35h2.06M14 35h1.06M24 35h1.06M5 36h1.06M18 36h1.06M25 36h1.06M5 37h1.06M19 37h1.06M14 38h2.06M19 38h1.06M11 40h1.06M9 41h1.06M7 42h1.06M23 42h1.06M11 43h1.06M25 43h1.06M10 44h1.06M15 44h1.06M17 45h1.06M24 45h1.06M20 46h1.06M20 47h1.06M25 47h1.06M8 49h1.06M23 49h1.06M13 50h1.06M18 50h1.06M20 50h1.06M7 51h1.06M9 51h1.06M11 51h1.06M20 51h1.06M12 52h1.06M22 52h1.06M21 53h1.06M23 54h1.06M11 55h1.06M0 56h1.06M11 56h1.06M16 56h1.06M9 57h1.06M13 57h1.06M4 58h1.06M18 58h1.06M21 58h1.06M6 59h1.06M14 59h1.06"/>
<path stroke="#b7ff48" d="M1 0h1.06M3 0h1.06M17 0h1.06M21 0h1.06M4 1h1.06M0 2h1.06M2 2h1.06M7 2h1.06M11 2h1.06M17 2h1.06M10 3h4.06M20 3h1.06M6 4h1.06M15 4h1.06M3 5h1.06M5 5h1.06M15 5h1.06M19 5h1.06M0 6h2.06M21 6h1.06M22 7h1.06M14 8h1.06M5 9h2.06M3 10h1.06M5 10h1.06M8 10h1.06M17 10h1.06M2 11h1.06M4 11h1.06M13 11h1.06M20 11h1.06M9 12h1.06M6 14h1.06M21 14h1.06M24 14h1.06M3 15h1.06M6 15h2.06M19 15h1.06M21 15h1.06M8 16h2.06M17 16h1.06M23 16h1.06M2 18h1.06M5 18h1.06M5 19h1.06M8 20h1.06M23 20h1.06M8 22h1.06M19 22h1.06M23 22h1.06M4 24h1.06M6 24h1.06M9 24h2.06M19 24h1.06M21 24h1.06M23 24h1.06M0 25h1.06M25 25h1.06M5 26h1.06M14 26h2.06M16 27h1.06M19 27h1.06M6 28h1.06M21 29h1.06M3 30h1.06M23 30h1.06M3 31h1.06M8 31h1.06M23 32h1.06M14 34h1.06M25 34h1.06M19 36h1.06M22 36h2.06M9 37h1.06M14 37h1.06M3 38h1.06M7 38h1.06M18 38h1.06M1 39h1.06M18 39h2.06M7 40h1.06M13 40h1.06M18 40h2.06M2 41h2.06M10 41h1.06M15 41h1.06M25 41h1.06M6 42h1.06M18 42h1.06M24 42h1.06M0 43h1.06M15 43h2.06M5 44h1.06M16 44h1.06M0 45h1.06M5 46h1.06M15 46h1.06M22 46h1.06M8 47h1.06M11 47h1.06M16 47h1.06M11 48h1.06M24 48h1.06M5 49h1.06M11 49h1.06M0 50h1.06M4 50h1.06M10 50h1.06M23 50h1.06M18 51h1.06M23 51h1.06M0 52h1.06M11 53h1.06M18 53h1.06M24 53h1.06M3 54h1.06M6 54h1.06M24 54h1.06M14 55h1.06M16 55h2.06M22 55h1.06M8 56h1.06M12 57h1.06M16 57h1.06M5 58h1.06M11 59h1.06M13 59h1.06"/>
<path stroke="#c7ff38" d="M6 0h1.06M12 2h1.06M22 2h1.06M25 2h1.06M3 4h1.06M7 4h1.06M13 4h1.06M16 4h1.06M22 4h2.06M25 4h1.06M10 5h1.06M12 5h1.06M8 6h1.06M11 6h1.06M18 6h1.06M1 7h1.06M7 7h1.06M10 7h1.06M15 7h1.06M25 7h1.06M6 8h1.06M9 9h1.06M25 10h1.06M11 11h1.06M17 11h1.06M16 12h1.06M8 13h1.06M2 14h2.06M8 14h1.06M16 14h1.06M5 15h1.06M1 16h1.06M7 16h1.06M5 17h1.06M2 20h1.06M4 21h1.06M17 22h1.06M25 22h1.06M1 23h1.06M20 23h2.06M18 24h1.06M24 24h1.06M2 25h1.06M13 25h1.06M15 25h1.06M24 25h1.06M9 27h1.06M18 27h1.06M1 28h1.06M9 28h2.06M15 28h1.06M19 28h2.06M11 29h1.06M18 29h3.06M22 30h1.06M13 31h1.06M2 32h1.06M4 32h1.06M22 33h1.06M3 34h1.06M23 34h1.06M8 35h1.06M1 36h1.06M3 36h1.06M7 36h1.06M9 36h1.06M2 38h1.06M6 38h1.06M22 38h1.06M11 39h1.06M15 39h2.06M14 40h1.06M21 40h1.06M24 40h1.06M13 41h1.06M17 41h1.06M21 41h1.06M9 42h1.06M11 42h1.06M17 42h1.06M21 42h1.06M5 43h1.06M21 43h1.06M23 43h1.06M3 44h1.06M6 44h1.06M17 44h1.06M23 44h2.06M10 45h2.06M14 45h1.06M21 45h1.06M16 46h3.06M25 46h1.06M1 47h1.06M12 47h1.06M22 47h1.06M0 48h1.06M4 48h1.06M9 48h1.06M22 48h2.06M1 49h1.06M10 49h1.06M19 49h2.06M22 50h1.06M10 51h1.06M17 51h1.06M22 51h1.06M25 51h1.06M15 52h1.06M18 52h1.06M0 53h1.06M2 53h1.06M8 53h2.06M13 53h1.06M17 53h1.06M4 54h2.06M12 54h1.06M4 56h1.06M20 56h1.06M8 57h1.06M10 57h1.06M15 57h1.06M19 57h1.06M23 58h1.06M2 59h1.06M9 59h2.06M22 59h1.06"/>
<path stroke="#d7ff28" d="M5 0h1.06M10 0h1.06M7 1h1.06M13 1h1.06M16 1h1.06M1 2h1.06M4 3h1.06M15 3h2.06M25 3h1.06M21 4h1.06M6 5h1.06M14 6h1.06M11 7h1.06M13 7h1.06M19 7h1.06M24 7h1.06M2 8h2.06M18 10h1.06M0 11h2.06M7 12h1.06M12 12h1.06M1 13h2.06M23 13h1.06M25 13h1.06M0 14h1.06M5 14h1.06M18 14h1.06M1 15h1.06M22 17h1.06M25 17h1.06M6 19h1.06M1 20h1.06M6 20h1.06M2 21h1.06M21 21h1.06M25 21h1.06M3 22h1.06M14 22h1.06M16 22h1.06M4 23h1.06M10 23h1.06M2 27h1.06M8 27h1.06M9 29h1.06M1 31h1.06M4 31h1.06M14 31h1.06M5 32h1.06M7 33h1.06M9 33h1.06M11 33h1.06M19 33h1.06M21 33h1.06M23 33h2.06M0 34h1.06M5 34h1.06M9 34h1.06M17 34h2.06M2 35h1.06M16 35h1.06M2 36h1.06M13 36h1.06M24 36h1.06M20 37h1.06M0 38h2.06M16 38h1.06M24 38h1.06M4 39h1.06M9 39h1.06M14 39h1.06M1 40h1.06M12 40h1.06M1 41h1.06M16 41h1.06M20 41h1.06M1 43h1.06M3 43h1.06M7 43h1.06M12 43h1.06M20 43h1.06M0 44h1.06M7 44h1.06M13 45h1.06M18 45h1.06M4 46h1.06M10 46h1.06M19 46h1.06M23 46h1.06M0 47h1.06M5 47h1.06M10 47h1.06M18 47h1.06M23 47h1.06M6 48h1.06M3 49h1.06M13 49h1.06M8 50h1.06M25 50h1.06M0 51h1.06M6 51h1.06M21 51h1.06M1 52h1.06M4 52h1.06M9 52h1.06M16 52h1.06M5 53h1.06M22 53h1.06M1 54h1.06M14 54h1.06M18 55h3.06M5 56h1.06M7 56h1.06M11 57h1.06M17 57h1.06M10 58h1.06M13 58h1.06M17 58h1.06M1 59h1.06M5 59h1.06M25 59h1.06"/>
<path stroke="#e7ff18" d="M2 0h1.06M8 0h1.06M12 0h1.06M23 0h1.06M0 1h1.06M14 1h2.06M23 1h1.06M25 1h1.06M17 3h1.06M23 3h2.06M10 4h1.06M14 4h1.06M17 4h1.06M1 5h1.06M13 5h1.06M24 6h1.06M3 7h1.06M9 8h1.06M15 9h1.06M17 9h2.06M23 9h1.06M23 10h1.06M16 11h1.06M1 12h1.06M6 12h1.06M3 13h1.06M18 16h1.06M20 16h1.06M24 17h1.06M6 18h1.06M19 18h1.06M23 18h1.06M23 19h1.06M7 20h1.06M12 20h1.06M18 20h1.06M7 21h1.06M16 21h1.06M19 21h1.06M0 22h1.06M7 22h1.06M3 23h1.06M16 23h1.06M14 25h1.06M18 25h1.06M22 25h1.06M3 26h1.06M10 29h1.06M1 30h1.06M13 30h1.06M17 30h1.06M19 30h1.06M24 30h1.06M6 32h1.06M8 32h3.06M16 32h1.06M25 32h1.06M13 33h1.06M1 34h2.06M16 34h1.06M22 34h1.06M7 35h1.06M19 35h1.06M6 36h1.06M10 38h1.06M21 38h1.06M25 38h1.06M2 39h1.06M6 40h1.06M17 40h1.06M23 40h1.06M0 41h1.06M14 41h1.06M13 42h1.06M25 42h1.06M4 43h1.06M6 43h1.06M9 44h1.06M13 44h2.06M21 44h1.06M7 45h1.06M19 45h1.06M0 46h1.06M2 46h2.06M11 46h1.06M13 47h1.06M19 47h1.06M1 48h1.06M7 48h1.06M14 48h2.06M17 48h1.06M9 49h1.06M16 49h1.06M18 49h1.06M21 49h2.06M1 51h1.06M13 51h1.06M15 51h2.06M6 52h1.06M25 52h1.06M0 55h2.06M15 55h1.06M21 55h1.06M25 55h1.06M3 56h1.06M6 56h1.06M18 57h1.06M21 57h1.06M16 58h1.06M22 58h1.06M25 58h1.06M3 59h1.06M15 59h1.06M17 59h1.06"/>
<path stroke="#f7ff08" d="M3 1h1.06M20 1h1.06M21 3h1.06M0 4h1.06M4 4h1.06M22 5h2.06M10 6h1.06M8 7h2.06M21 7h1.06M7 8h1.06M3 9h1.06M21 9h2.06M4 10h1.06M20 10h1.06M22 10h1.06M7 11h1.06M5 12h1.06M8 12h1.06M11 13h1.06M1 14h1.06M25 14h1.06M4 15h1.06M6 17h1.06M17 17h1.06M23 17h1.06M17 20h1.06M20 20h1.06M24 20h2.06M3 21h1.06M9 22h2.06M15 22h1.06M12 24h1.06M19 25h2.06M5 27h1.06M23 27h1.06M11 28h1.06M16 28h3.06M0 29h2.06M6 29h1.06M10 31h1.06M12 31h1.06M15 31h1.06M21 31h1.06M23 31h1.06M7 32h1.06M11 32h1.06M24 32h1.06M12 33h1.06M11 34h2.06M15 34h1.06M4 35h1.06M20 36h1.06M6 37h1.06M8 37h1.06M24 37h1.06M9 38h1.06M12 39h1.06M15 40h1.06M22 40h1.06M18 41h2.06M10 42h1.06M22 42h1.06M5 45h2.06M20 45h1.06M7 47h1.06M13 48h1.06M20 48h1.06M7 49h1.06M14 49h2.06M9 50h1.06M5 51h1.06M14 51h1.06M2 52h2.06M10 52h1.06M17 52h1.06M23 52h1.06M1 53h1.06M4 53h1.06M12 53h1.06M15 54h1.06M17 54h1.06M8 55h1.06M24 55h1.06M15 56h1.06M22 56h2.06M25 57h1.06M4 59h1.06M7 59h2.06M23 59h1.06"/>
<path stroke="#fff700" d="M18 2h1.06M1 3h1.06M5 3h2.06M18 3h1.06M8 4h2.06M18 4h1.06M8 5h1.06M21 5h1.06M15 6h1.06M2 7h1.06M11 8h1.06M16 8h1.06M1 9h2.06M19 9h1.06M8 11h1.06M9 13h2.06M12 13h1.06M15 14h1.06M17 14h1.06M24 15h1.06M19 16h1.06M7 18h1.06M22 18h1.06M9 21h1.06M17 21h1.06M24 21h1.06M18 22h1.06M7 23h1.06M9 23h1.06M16 24h1.06M4 25h1.06M18 26h1.06M21 26h1.06M7 28h2.06M12 28h1.06M23 28h1.06M14 29h1.06M15 30h1.06M18 30h1.06M11 31h1.06M22 31h1.06M12 32h3.06M17 32h1.06M21 32h2.06M6 34h2.06M10 34h1.06M3 35h1.06M20 35h1.06M14 36h2.06M17 36h1.06M21 36h1.06M15 37h2.06M18 37h1.06M3 39h1.06M0 40h1.06M8 40h1.06M16 40h1.06M2 43h1.06M17 43h1.06M22 44h1.06M2 49h1.06M6 49h1.06M11 52h1.06M16 54h1.06M10 55h1.06M1 56h1.06M13 56h1.06M24 57h1.06M15 58h1.06"/>
<path stroke="#ffe700" d="M19 1h1.06M24 1h1.06M23 2h1.06M22 6h2.06M14 7h1.06M17 7h1.06M10 8h1.06M17 8h1.06M14 11h1.06M0 12h1.06M13 13h1.06M16 15h1.06M8 18h1.06M20 18h2.06M7 19h1.06M18 21h1.06M5 22h1.06M15 24h1.06M19 26h1.06M3 27h2.06M21 28h1.06M15 29h1.06M14 30h1.06M0 31h1.06M16 36h1.06M7 37h1.06M25 37h1.06M8 44h1.06M16 48h1.06M24 52h1.06M22 57h1.06M12 58h1.06M24 59h1.06"/>
<path stroke="#ffd700" d="M24 0h2.06M19 4h2.06M9 5h1.06M20 5h1.06M18 7h1.06M15 11h1.06M10 14h1.06M13 14h2.06M10 15h1.06M14 15h1.06M7 17h1.06M14 17h1.06M20 17h1.06M18 18h1.06M22 19h1.06M13 20h1.06M4 22h1.06M8 23h1.06M2 24h2.06M3 25h1.06M20 26h1.06M22 28h1.06M7 29h2.06M17 37h1.06M12 38h2.06M19 43h1.06M14 47h1.06M21 48h1.06M5 52h1.06M14 56h1.06M23 57h1.06M11 58h1.06M16 59h1.06"/>
<path stroke="#ffc700" d="M24 2h1.06M12 14h1.06M15 15h1.06M14 16h1.06M9 18h1.06M20 19h1.06M14 20h1.06M16 20h1.06M10 21h2.06M13 24h1.06M16 29h2.06M16 50h1.06M9 55h1.06"/>
<path stroke="#ffb700" d="M11 14h1.06M18 17h1.06M17 18h1.06M8 19h2.06M19 19h1.06M21 19h1.06M15 20h1.06M18 43h1.06M17 50h1.06"/>
<path stroke="#ffa700" d="M11 15h1.06M13 15h1.06M10 16h1.06M19 17h1.06M18 19h1.06M10 20h2.06"/>
<path stroke="#ff9700" d="M12 15h1.06M11 16h1.06M13 16h1.06M8 17h2.06M16 17h1.06"/>
<path stroke="#ff8700" d="M12 16h1.06M16 16h1.06M15 17h1.06M17 19h1.06"/>
<path stroke="#ff7800" d="M15 16h1.06M14 19h1.06"/>
<path stroke="#ff6800" d="M10 17h1.06M15 18h1.06M10 19h2.06M13 19h1.06M15 19h2.06"/>
<path stroke="#ff5800" d="M12 17h1.06M10 18h1.06M16 18h1.06M12 19h1.06"/>
<path stroke="#ff4800" d="M11 17h1.06M13 17h1.06"/>
<path stroke="#ff3800" d="M14 18h1.06"/>
<path stroke="#ff2800" d="M11 18h1.06M13 18h1.06"/>
<path stroke="#ff1800" d="M12 18h1.06"/>
</g></g></g>
<!-- panel 2 -->
<clipPath id="cp2"><rect x="612.50" y="11.00" width="199.50" height="180.50"/></clipPath>
<g clip-path="url(#cp2)">
<rect x="611.50" y="10.00" width="201.50" height="182.50" fill="#c4f03b"/>
<g filter="url(#bl)">
<g transform="translate(608.510 12.504) scale(7.9800 3.0083)" stroke-width="1.12" fill="none">
<path stroke="#0000a7" d="M4 19h1.06"/>
<path stroke="#0000b7" d="M17 25h1.06"/>
<path stroke="#0000d7" d="M16 21h1.06"/>
<path stroke="#0018ff" d="M0 57h1.06"/>
<path stroke="#0038ff" d="M15 54h1.06"/>
<path stroke="#0058ff" d="M19 29h1.06M23 58h1.06"/>
<path stroke="#0068ff" d="M14 8h1.06"/>
<path stroke="#0078ff" d="M7 0h1.06M17 30h1.06M3 31h1.06M11 50h1.06M23 57h1.06"/>
<path stroke="#0087ff" d="M14 2h1.06M25 7h1.06M22 35h1.06M11 54h1.06"/>
<path stroke="#0097ff" d="M25 8h1.06M13 11h1.06M17 14h1.06M14 20h1.06M1 26h1.06M10 31h1.06M5 40h1.06M9 43h1.06"/>
<path stroke="#00b7ff" d="M14 29h1.06M11 34h1.06"/>
<path stroke="#00e7ff" d="M23 48h1.06"/>
<path stroke="#00f7ff" d="M24 1h1.06M9 2h1.06M13 2h1.06M16 2h1.06M17 5h1.06M20 7h1.06M3 8h1.06M21 8h2.06M3 9h1.06M4 10h1.06M12 10h2.06M8 11h1.06M16 13h1.06M22 13h1.06M21 14h1.06M16 16h1.06M22 19h1.06M9 23h1.06M23 23h1.06M16 24h1.06M16 28h1.06M4 31h2.06M1 36h1.06M15 38h1.06M2 39h1.06M7 42h1.06M9 42h1.06M16 43h1.06M8 47h1.06M11 48h1.06M1 49h1.06M14 52h1.06M21 53h1.06M14 54h1.06M20 59h1.06"/>
<path stroke="#08fff7" d="M10 2h1.06M17 2h1.06M14 4h1.06M25 4h1.06M17 7h1.06M22 9h1.06M2 14h1.06M11 14h1.06M24 18h1.06M2 19h1.06M2 21h1.06M25 29h1.06M19 37h1.06M25 38h1.06M21 39h1.06M19 40h1.06M8 42h1.06M5 43h1.06M21 49h1.06M2 55h1.06M0 56h1.06M15 57h1.06M21 58h1.06M24 58h1.06"/>
<path stroke="#18ffe7" d="M19 0h1.06M20 14h1.06M24 17h1.06M9 21h1.06M5 28h1.06M2 33h1.06M12 40h1.06M24 42h1.06M4 50h1.06M20 53h1.06M9 54h1.06M18 56h1.06"/>
<path stroke="#28ffd7" d="M19 4h1.06M6 5h1.06M13 8h1.06M8 12h1.06M21 12h1.06M17 15h1.06M17 16h1.06M23 19h1.06M3 21h1.06M13 23h1.06M8 24h1.06M21 28h1.06M8 36h1.06M10 46h1.06M14 47h1.06M25 47h1.06M11 53h2.06M8 59h1.06"/>
<path stroke="#38ffc7" d="M18 0h1.06M2 3h1.06M20 4h1.06M10 5h1.06M6 6h1.06M20 6h1.06M24 6h1.06M11 8h1.06M23 13h1.06M22 14h1.06M11 19h1.06M13 21h1.06M9 22h1.06M18 22h1.06M12 23h1.06M0 25h1.06M17 28h1.06M13 31h1.06M6 33h1.06M14 35h1.06M0 37h1.06M11 38h1.06M18 39h1.06M21 41h1.06M6 42h1.06M21 43h1.06M24 43h1.06M19 47h1.06M17 48h1.06M19 50h1.06M24 53h1.06M20 56h1.06M3 58h1.06"/>
<path stroke="#48ffb7" d="M13 1h2.06M19 1h1.06M7 2h1.06M15 2h1.06M1 6h1.06M17 6h1.06M19 8h1.06M15 9h1.06M1 10h1.06M25 11h1.06M19 13h2.06M4 15h1.06M19 15h1.06M17 21h1.06M20 21h1.06M9 25h1.06M20 25h1.06M20 34h1.06M10 35h1.06M4 36h1.06M6 39h1.06M10 39h1.06M25 40h1.06M10 41h1.06M15 44h1.06M17 45h1.06M17 46h1.06M11 51h1.06M12 52h1.06M20 54h1.06M2 57h1.06M10 57h1.06M8 58h1.06M18 59h1.06"/>
<path stroke="#58ffa7" d="M0 1h1.06M7 1h1.06M4 4h1.06M13 4h1.06M5 5h1.06M7 5h1.06M18 7h1.06M22 10h1.06M5 12h1.06M16 12h1.06M2 13h1.06M7 13h1.06M0 14h1.06M8 15h1.06M7 16h1.06M22 20h1.06M1 25h1.06M15 28h1.06M17 29h1.06M13 32h1.06M16 32h1.06M22 33h1.06M23 34h1.06M25 34h1.06M3 36h1.06M17 37h1.06M15 39h1.06M3 40h1.06M18 40h1.06M0 41h1.06M17 41h1.06M25 45h1.06M20 46h1.06M5 48h1.06M14 48h1.06M16 48h1.06M3 49h1.06M18 52h1.06M13 53h2.06M2 54h1.06M12 54h1.06M22 54h1.06M5 58h1.06"/>
<path stroke="#68ff97" d="M12 0h1.06M4 1h1.06M10 1h1.06M21 1h1.06M22 2h1.06M6 3h1.06M0 5h1.06M15 5h1.06M19 6h1.06M21 6h1.06M0 7h1.06M6 8h1.06M18 8h1.06M9 13h1.06M13 13h1.06M15 13h1.06M7 14h1.06M19 14h1.06M14 15h1.06M18 15h1.06M24 16h1.06M14 19h1.06M17 19h1.06M0 20h1.06M11 21h1.06M15 21h1.06M19 21h1.06M15 22h1.06M21 24h1.06M24 24h1.06M6 25h1.06M14 25h1.06M11 26h1.06M10 28h1.06M6 32h1.06M23 33h1.06M5 34h1.06M1 39h1.06M13 39h1.06M1 41h1.06M16 41h1.06M11 44h1.06M20 45h1.06M7 46h1.06M3 48h2.06M0 49h1.06M20 49h1.06M1 51h1.06M16 51h1.06M13 52h1.06M24 54h1.06M11 55h1.06M2 56h1.06M5 56h1.06M11 56h1.06M16 56h1.06M6 57h1.06M16 58h2.06"/>
<path stroke="#78ff87" d="M24 0h1.06M6 1h1.06M20 1h1.06M19 2h1.06M3 3h1.06M20 3h1.06M1 4h1.06M5 4h1.06M15 4h1.06M21 4h1.06M9 5h1.06M3 6h1.06M12 8h1.06M20 8h1.06M1 11h1.06M7 11h1.06M22 11h1.06M13 12h1.06M4 13h1.06M17 13h1.06M21 13h1.06M22 16h2.06M2 18h1.06M23 18h1.06M25 18h1.06M8 19h1.06M1 20h1.06M21 21h1.06M6 22h1.06M1 23h1.06M11 24h1.06M20 24h1.06M2 25h1.06M7 25h1.06M6 27h1.06M16 27h1.06M19 27h1.06M11 28h1.06M22 30h1.06M24 30h1.06M12 36h1.06M7 37h1.06M11 37h1.06M18 37h1.06M3 39h1.06M8 39h1.06M7 40h1.06M11 41h1.06M22 41h1.06M25 43h1.06M0 44h1.06M11 46h1.06M19 46h1.06M25 46h1.06M1 47h1.06M10 48h1.06M12 49h1.06M1 50h1.06M9 50h1.06M9 52h1.06M11 52h1.06M0 54h1.06M25 55h1.06M12 56h1.06M1 57h1.06M11 57h1.06M16 57h1.06M6 58h1.06M11 58h1.06M14 58h2.06M20 58h1.06M7 59h1.06"/>
<path stroke="#87ff78" d="M14 0h1.06M5 1h1.06M22 1h1.06M18 2h1.06M20 2h2.06M18 4h1.06M13 5h1.06M16 5h1.06M18 5h1.06M23 5h1.06M4 6h2.06M8 6h1.06M16 6h1.06M4 7h1.06M12 7h1.06M19 7h1.06M24 7h1.06M7 8h1.06M14 10h1.06M16 10h1.06M6 11h1.06M14 13h1.06M24 13h1.06M3 14h1.06M6 14h1.06M16 15h1.06M22 18h1.06M1 19h1.06M3 19h1.06M12 19h1.06M18 19h1.06M23 20h2.06M13 22h1.06M16 22h2.06M15 24h1.06M15 25h1.06M8 28h1.06M4 30h1.06M23 30h1.06M25 30h1.06M14 31h2.06M1 32h1.06M5 32h1.06M12 32h1.06M24 32h1.06M9 34h1.06M16 34h1.06M5 35h1.06M7 36h1.06M11 36h1.06M3 37h2.06M4 38h1.06M8 38h1.06M5 39h1.06M7 39h1.06M11 39h1.06M22 40h1.06M18 41h2.06M19 42h1.06M25 42h1.06M14 43h2.06M1 44h1.06M8 44h1.06M11 45h1.06M5 46h1.06M12 46h1.06M6 47h1.06M13 47h1.06M2 49h1.06M11 49h1.06M19 49h1.06M0 50h1.06M5 50h1.06M12 51h1.06M8 52h1.06M10 52h1.06M15 52h1.06M3 53h1.06M23 54h1.06M3 55h1.06M22 55h2.06M1 56h1.06M17 56h1.06M17 57h1.06M21 57h2.06M25 57h1.06M18 58h1.06M3 59h1.06M12 59h1.06"/>
<path stroke="#97ff68" d="M17 1h1.06M0 2h4.06M25 2h1.06M12 4h1.06M7 6h1.06M7 7h1.06M21 7h1.06M18 9h1.06M9 11h1.06M23 11h2.06M6 12h1.06M5 13h2.06M18 13h1.06M1 14h1.06M8 14h1.06M2 15h1.06M24 15h1.06M2 16h1.06M20 16h1.06M23 17h1.06M6 18h1.06M17 18h2.06M21 18h1.06M7 19h1.06M6 20h2.06M25 20h1.06M1 21h1.06M18 21h1.06M22 21h1.06M19 22h1.06M0 23h1.06M10 23h2.06M14 23h1.06M24 23h1.06M19 24h1.06M22 24h1.06M16 25h1.06M4 26h1.06M20 26h2.06M9 27h1.06M11 27h2.06M9 28h1.06M18 28h1.06M4 29h1.06M21 29h1.06M3 30h1.06M12 31h1.06M18 31h1.06M11 32h1.06M5 33h1.06M12 33h1.06M7 34h1.06M14 34h1.06M4 35h1.06M7 35h1.06M15 35h1.06M5 36h2.06M10 38h1.06M13 38h2.06M18 38h1.06M22 38h1.06M9 41h1.06M12 41h1.06M5 42h1.06M18 42h1.06M20 42h1.06M16 45h1.06M0 46h1.06M8 46h2.06M11 47h2.06M24 47h1.06M7 48h1.06M9 48h1.06M18 48h1.06M24 48h2.06M14 50h1.06M15 51h1.06M19 51h2.06M0 52h1.06M17 53h1.06M7 54h1.06M21 55h1.06M13 56h1.06M3 57h2.06M18 57h1.06M4 58h1.06M9 58h2.06M19 58h1.06M0 59h1.06"/>
<path stroke="#a7ff58" d="M0 0h1.06M2 0h1.06M13 0h1.06M1 1h1.06M23 1h1.06M8 2h1.06M24 2h1.06M4 3h1.06M25 3h1.06M0 4h1.06M7 4h1.06M16 4h1.06M24 4h1.06M24 5h1.06M11 6h2.06M18 6h1.06M16 7h1.06M23 7h1.06M5 8h1.06M23 8h2.06M1 9h1.06M14 9h1.06M17 9h1.06M21 9h1.06M2 10h1.06M11 10h1.06M20 11h2.06M2 12h1.06M8 13h1.06M23 14h1.06M7 15h1.06M15 15h1.06M20 15h1.06M23 15h1.06M21 16h1.06M5 18h1.06M13 19h1.06M21 19h1.06M4 20h1.06M8 20h1.06M17 20h1.06M12 21h1.06M14 21h1.06M25 23h1.06M1 24h1.06M3 24h1.06M9 24h1.06M25 24h1.06M3 25h1.06M22 25h1.06M4 27h1.06M10 27h1.06M13 27h1.06M15 27h1.06M22 27h1.06M2 28h1.06M7 28h1.06M5 29h1.06M15 29h1.06M16 30h1.06M19 30h1.06M4 32h1.06M7 32h1.06M14 32h1.06M21 32h2.06M10 34h1.06M19 34h1.06M24 34h1.06M0 35h1.06M23 35h1.06M9 36h1.06M20 36h1.06M22 36h2.06M6 37h1.06M9 37h1.06M0 38h1.06M9 38h1.06M12 38h1.06M16 38h1.06M23 39h1.06M20 41h1.06M10 42h1.06M12 42h1.06M15 42h1.06M23 42h1.06M13 43h1.06M17 43h1.06M23 43h1.06M12 44h1.06M18 44h2.06M9 45h1.06M12 45h1.06M1 46h1.06M6 46h1.06M15 46h1.06M18 46h1.06M7 47h1.06M2 48h1.06M6 48h1.06M5 49h1.06M18 49h1.06M8 50h1.06M16 50h2.06M22 50h1.06M7 51h1.06M25 51h1.06M22 52h1.06M4 53h1.06M3 54h1.06M8 54h1.06M13 54h1.06M16 54h1.06M1 55h1.06M5 57h1.06M13 58h1.06M9 59h1.06M25 59h1.06"/>
<path stroke="#b7ff48" d="M20 0h1.06M23 0h1.06M18 1h1.06M11 2h1.06M23 2h1.06M15 3h1.06M17 3h2.06M24 3h1.06M2 4h1.06M6 4h1.06M1 5h1.06M8 5h1.06M11 5h1.06M22 5h1.06M15 6h1.06M22 6h1.06M1 7h1.06M13 7h1.06M22 7h1.06M4 8h1.06M17 8h1.06M2 9h1.06M10 9h1.06M13 9h1.06M16 9h1.06M20 9h1.06M17 10h1.06M14 11h2.06M1 12h1.06M20 12h1.06M24 12h1.06M12 13h1.06M25 13h1.06M1 15h1.06M3 15h1.06M5 15h1.06M25 15h1.06M3 16h1.06M15 16h1.06M25 16h1.06M22 17h1.06M6 19h1.06M19 19h1.06M12 20h1.06M4 21h1.06M8 21h1.06M25 21h1.06M12 22h1.06M22 22h1.06M20 23h1.06M4 24h1.06M7 24h1.06M23 24h1.06M8 25h1.06M18 25h1.06M15 26h1.06M17 26h1.06M5 27h1.06M14 27h1.06M20 27h1.06M0 28h1.06M6 28h1.06M19 28h2.06M1 29h1.06M8 29h1.06M12 29h2.06M20 29h1.06M9 30h2.06M15 30h1.06M18 30h1.06M1 31h1.06M11 31h1.06M16 31h1.06M0 32h1.06M25 32h1.06M3 33h1.06M15 33h1.06M6 34h1.06M8 34h1.06M22 34h1.06M6 35h1.06M25 35h1.06M0 36h1.06M2 36h1.06M8 37h1.06M10 37h1.06M14 37h1.06M24 37h2.06M19 38h1.06M24 38h1.06M4 39h1.06M23 40h2.06M23 41h1.06M13 42h2.06M7 43h2.06M10 43h2.06M20 43h1.06M22 43h1.06M5 44h1.06M16 44h2.06M10 45h1.06M22 45h1.06M18 47h1.06M1 48h1.06M4 49h1.06M15 50h1.06M21 50h1.06M23 50h3.06M0 51h1.06M14 51h1.06M18 51h1.06M2 53h1.06M5 53h1.06M10 53h1.06M16 53h1.06M19 53h1.06M5 54h1.06M21 54h1.06M0 55h1.06M12 55h1.06M20 55h1.06M10 56h1.06M7 57h1.06M2 59h1.06M16 59h1.06M19 59h1.06"/>
<path stroke="#c7ff38" d="M8 0h1.06M11 0h1.06M25 0h1.06M9 1h1.06M5 3h1.06M13 3h2.06M16 3h1.06M21 3h1.06M3 4h1.06M11 4h1.06M17 4h1.06M4 5h1.06M12 5h1.06M25 5h1.06M0 6h1.06M10 6h1.06M25 6h1.06M9 7h1.06M15 8h1.06M0 9h1.06M6 9h2.06M9 9h1.06M0 10h1.06M18 10h2.06M11 11h1.06M17 11h2.06M7 12h1.06M1 13h1.06M3 13h1.06M18 14h1.06M0 18h1.06M12 18h1.06M15 18h2.06M0 19h1.06M3 20h1.06M5 20h1.06M13 20h1.06M5 21h1.06M23 21h1.06M7 22h1.06M14 22h1.06M8 23h1.06M2 24h1.06M10 24h1.06M5 25h1.06M10 25h1.06M13 25h1.06M19 25h1.06M3 26h1.06M9 26h1.06M12 26h1.06M25 26h1.06M21 27h1.06M23 27h1.06M25 27h1.06M6 29h1.06M0 30h1.06M2 30h1.06M22 31h2.06M4 33h1.06M16 33h1.06M24 33h1.06M13 34h1.06M1 35h1.06M11 35h1.06M13 35h1.06M19 35h1.06M24 35h1.06M13 36h1.06M18 36h1.06M21 36h1.06M5 37h1.06M12 37h1.06M16 37h1.06M20 37h1.06M23 37h1.06M1 38h1.06M3 38h1.06M7 38h1.06M0 39h1.06M16 39h1.06M22 39h1.06M0 40h1.06M17 40h1.06M2 41h2.06M6 41h1.06M15 41h1.06M22 42h1.06M2 43h1.06M6 43h1.06M12 43h1.06M6 44h1.06M9 44h2.06M14 44h1.06M24 44h2.06M8 45h1.06M21 45h1.06M24 45h1.06M16 46h1.06M21 46h1.06M24 46h1.06M3 47h1.06M20 47h4.06M8 48h1.06M15 48h1.06M20 48h1.06M7 49h1.06M14 49h2.06M18 50h1.06M3 51h1.06M6 51h1.06M17 51h1.06M21 51h2.06M7 52h1.06M24 52h1.06M15 53h1.06M22 53h1.06M1 54h1.06M4 54h1.06M10 54h1.06M25 54h1.06M14 55h1.06M4 56h1.06M6 56h1.06M9 56h1.06M19 56h1.06M19 57h1.06M7 58h1.06M4 59h1.06M6 59h1.06M13 59h1.06M17 59h1.06"/>
<path stroke="#d7ff28" d="M3 1h1.06M8 1h1.06M6 2h1.06M12 2h1.06M8 4h1.06M22 4h1.06M14 5h1.06M19 5h1.06M2 6h1.06M9 6h1.06M13 6h1.06M10 7h1.06M0 8h1.06M2 8h1.06M8 8h1.06M19 9h1.06M23 9h2.06M9 10h1.06M15 10h1.06M25 10h1.06M2 11h1.06M5 11h1.06M16 11h1.06M19 11h1.06M0 12h1.06M4 12h1.06M12 12h1.06M18 12h1.06M0 13h1.06M5 14h1.06M9 14h1.06M6 15h1.06M1 16h1.06M19 16h1.06M21 17h1.06M1 18h1.06M13 18h1.06M15 19h2.06M20 19h1.06M24 19h1.06M2 20h1.06M9 20h1.06M18 20h1.06M7 21h1.06M23 22h1.06M15 23h1.06M22 23h1.06M5 24h2.06M4 25h1.06M21 25h1.06M23 25h1.06M0 26h1.06M10 26h1.06M16 26h1.06M8 27h1.06M4 28h1.06M24 28h1.06M3 29h1.06M9 29h2.06M18 29h1.06M22 29h1.06M24 29h1.06M1 30h1.06M5 30h1.06M8 30h1.06M11 30h1.06M20 30h1.06M0 31h1.06M8 31h1.06M24 31h1.06M8 32h1.06M10 32h1.06M0 33h1.06M9 33h1.06M13 33h1.06M17 33h3.06M12 34h1.06M15 34h1.06M21 34h1.06M9 35h1.06M18 35h1.06M10 36h1.06M15 36h2.06M19 36h1.06M13 37h1.06M5 38h1.06M17 38h1.06M1 40h1.06M4 40h1.06M21 40h1.06M4 41h1.06M11 42h1.06M21 42h1.06M4 43h1.06M5 45h1.06M15 45h1.06M4 46h1.06M0 47h1.06M2 47h1.06M4 47h1.06M10 47h1.06M15 47h1.06M17 47h1.06M19 48h1.06M6 49h1.06M8 49h1.06M13 49h1.06M2 50h1.06M6 50h1.06M20 50h1.06M4 51h2.06M10 51h1.06M13 51h1.06M23 51h1.06M17 52h1.06M25 52h1.06M18 53h1.06M6 54h1.06M4 55h1.06M13 55h1.06M3 56h1.06M14 56h1.06M21 56h1.06M14 57h1.06M24 57h1.06M1 58h1.06M12 58h1.06M22 58h1.06M1 59h1.06M5 59h1.06M14 59h2.06"/>
<path stroke="#e7ff18" d="M5 0h1.06M17 0h1.06M11 1h2.06M15 1h1.06M25 1h1.06M9 3h1.06M12 3h1.06M19 3h1.06M22 3h1.06M10 4h1.06M20 5h2.06M14 6h1.06M23 6h1.06M10 8h1.06M16 8h1.06M4 9h2.06M8 9h1.06M11 9h1.06M25 9h1.06M7 10h2.06M0 11h1.06M12 11h1.06M3 12h1.06M14 12h1.06M17 12h1.06M19 12h1.06M12 14h1.06M15 14h2.06M24 14h1.06M0 15h1.06M13 15h1.06M21 15h2.06M20 17h1.06M25 17h1.06M4 18h1.06M20 18h1.06M21 20h1.06M6 21h1.06M2 22h1.06M5 22h1.06M8 22h1.06M21 22h1.06M25 22h1.06M16 23h1.06M11 25h2.06M6 26h3.06M14 26h1.06M19 26h1.06M22 26h1.06M0 27h1.06M24 27h1.06M1 28h1.06M3 28h1.06M0 29h1.06M2 29h1.06M7 29h1.06M16 29h1.06M2 31h1.06M6 31h2.06M9 31h1.06M17 31h1.06M19 31h1.06M25 31h1.06M9 32h1.06M23 32h1.06M7 33h2.06M14 33h1.06M3 35h1.06M17 36h1.06M24 36h1.06M15 37h1.06M21 38h1.06M9 39h1.06M20 39h1.06M24 39h1.06M6 40h1.06M11 40h1.06M15 40h2.06M5 41h1.06M8 41h1.06M13 41h2.06M24 41h1.06M0 42h1.06M2 42h1.06M17 42h1.06M3 43h1.06M20 44h1.06M3 45h1.06M14 45h1.06M9 47h1.06M0 48h1.06M12 48h1.06M10 49h1.06M16 49h1.06M3 50h1.06M7 50h1.06M10 50h1.06M12 50h2.06M8 51h1.06M19 52h1.06M17 54h1.06M7 56h2.06M23 56h1.06M9 57h1.06M0 58h1.06M25 58h1.06M22 59h2.06"/>
<path stroke="#f7ff08" d="M4 0h1.06M6 0h1.06M9 0h1.06M21 0h1.06M16 1h1.06M4 2h1.06M0 3h2.06M8 3h1.06M23 3h1.06M23 4h1.06M6 7h1.06M11 7h1.06M15 7h1.06M12 9h1.06M3 10h1.06M5 10h2.06M23 10h1.06M3 11h1.06M9 12h1.06M15 12h1.06M22 12h1.06M25 12h1.06M4 14h1.06M14 14h1.06M3 18h1.06M14 18h1.06M20 20h1.06M0 21h1.06M24 21h1.06M20 22h1.06M4 23h2.06M17 23h1.06M19 23h1.06M0 24h1.06M14 24h1.06M24 25h2.06M18 26h1.06M24 26h1.06M18 27h1.06M14 28h1.06M11 29h1.06M14 30h1.06M2 32h1.06M15 32h1.06M17 32h1.06M1 33h1.06M11 33h1.06M21 33h1.06M25 33h1.06M0 34h2.06M17 34h1.06M2 35h1.06M16 35h1.06M20 35h1.06M2 37h1.06M12 39h1.06M14 39h1.06M17 39h1.06M19 39h1.06M2 40h1.06M8 40h1.06M13 40h2.06M20 40h1.06M7 41h1.06M25 41h1.06M3 42h2.06M16 42h1.06M18 43h1.06M4 44h1.06M7 44h1.06M13 44h1.06M0 45h1.06M2 45h1.06M4 45h1.06M13 45h1.06M18 45h1.06M23 45h1.06M2 46h1.06M5 47h1.06M22 48h1.06M22 49h1.06M2 51h1.06M9 51h1.06M1 52h1.06M16 52h1.06M20 52h1.06M23 52h1.06M8 53h1.06M23 53h1.06M19 54h1.06M10 55h1.06M18 55h1.06M24 55h1.06M22 56h1.06M12 57h1.06M21 59h1.06M24 59h1.06"/>
<path stroke="#fff700" d="M1 0h1.06M3 0h1.06M15 0h1.06M22 0h1.06M2 1h1.06M7 3h1.06M10 3h2.06M9 4h1.06M2 5h1.06M3 7h1.06M14 7h1.06M9 8h1.06M20 10h2.06M24 10h1.06M23 12h1.06M11 13h1.06M25 14h1.06M6 16h1.06M3 17h1.06M19 17h1.06M19 18h1.06M25 19h1.06M11 20h1.06M15 20h2.06M1 22h1.06M24 22h1.06M2 23h1.06M21 23h1.06M17 24h1.06M5 26h1.06M13 26h1.06M1 27h3.06M17 27h1.06M22 28h1.06M23 29h1.06M19 32h1.06M20 33h1.06M4 34h1.06M8 35h1.06M17 35h1.06M21 35h1.06M1 37h1.06M22 37h1.06M6 38h1.06M20 38h1.06M23 38h1.06M10 40h1.06M1 42h1.06M19 43h1.06M21 44h2.06M6 45h1.06M3 46h1.06M13 46h1.06M22 46h1.06M16 47h1.06M13 48h1.06M21 48h1.06M9 49h1.06M17 49h1.06M25 49h1.06M2 52h2.06M1 53h1.06M7 53h1.06M9 53h1.06M5 55h3.06M15 56h1.06M24 56h1.06M8 57h1.06M20 57h1.06M2 58h1.06M10 59h2.06"/>
<path stroke="#ffe700" d="M10 0h1.06M5 2h1.06M3 5h1.06M2 7h1.06M5 7h1.06M8 7h1.06M1 8h1.06M10 12h1.06M11 15h1.06M0 16h1.06M4 16h2.06M0 17h1.06M14 17h1.06M5 19h1.06M11 22h1.06M3 23h1.06M18 23h1.06M12 24h1.06M2 26h1.06M23 26h1.06M7 27h1.06M12 28h1.06M23 28h1.06M25 28h1.06M6 30h1.06M13 30h1.06M21 31h1.06M3 32h1.06M18 32h1.06M20 32h1.06M3 34h1.06M12 35h1.06M14 36h1.06M21 37h1.06M2 38h1.06M9 40h1.06M0 43h2.06M2 44h1.06M23 44h1.06M14 46h1.06M23 46h1.06M24 51h1.06M4 52h3.06M21 52h1.06M0 53h1.06M6 53h1.06M25 53h1.06M15 55h1.06M19 55h1.06M25 56h1.06M13 57h1.06"/>
<path stroke="#ffd700" d="M16 0h1.06M4 11h1.06M10 13h1.06M13 14h1.06M9 15h1.06M12 16h1.06M14 16h1.06M16 17h1.06M7 18h2.06M19 20h1.06M3 22h1.06M10 22h1.06M7 23h1.06M13 24h1.06M18 24h1.06M7 30h1.06M12 30h1.06M21 30h1.06M2 34h1.06M18 34h1.06M25 36h1.06M25 39h1.06M3 44h1.06M1 45h1.06M7 45h1.06M19 45h1.06M23 49h2.06M18 54h1.06M17 55h1.06"/>
<path stroke="#ffc700" d="M11 12h1.06M10 14h1.06M12 15h1.06M8 16h1.06M13 16h1.06M1 17h1.06M5 17h1.06M10 21h1.06M0 22h1.06M4 22h1.06M6 23h1.06M20 31h1.06M10 33h1.06M8 55h2.06"/>
<path stroke="#ffb700" d="M10 10h1.06M10 11h1.06M11 18h1.06M9 19h1.06M13 28h1.06M16 55h1.06"/>
<path stroke="#ff9700" d="M18 16h1.06M6 17h1.06M13 17h1.06M18 17h1.06M9 18h1.06"/>
<path stroke="#ff8700" d="M11 16h1.06M2 17h1.06M17 17h1.06"/>
<path stroke="#ff7800" d="M10 15h1.06M9 16h1.06M15 17h1.06M10 19h1.06M10 20h1.06"/>
<path stroke="#ff6800" d="M4 17h1.06"/>
<path stroke="#ff5800" d="M7 17h1.06"/>
<path stroke="#ff4800" d="M12 17h1.06"/>
<path stroke="#ff2800" d="M10 18h1.06"/>
<path stroke="#ff1800" d="M10 16h1.06M8 17h1.06"/>
<path stroke="#ff0800" d="M9 17h1.06M11 17h1.06"/>
<path stroke="#970000" d="M10 17h1.06"/>
</g></g></g>
<!-- panel 3 -->
<clipPath id="cp3"><rect x="61.50" y="329.50" width="200.50" height="182.00"/></clipPath>
<g clip-path="url(#cp3)">
<rect x="60.50" y="328.50" width="202.50" height="184.00" fill="#c4f03b"/>
<g filter="url(#bl)">
<g transform="translate(57.490 330.637) scale(8.0200 2.2750)" stroke-width="1.12" fill="none">
<path stroke="#0028ff" d="M11 42h1.06"/>
<path stroke="#0038ff" d="M0 24h1.06M24 31h1.06M0 32h1.06"/>
<path stroke="#0048ff" d="M20 33h1.06M3 48h1.06M16 76h1.06"/>
<path stroke="#0058ff" d="M16 1h1.06M6 71h1.06"/>
<path stroke="#0068ff" d="M8 11h1.06M25 51h1.06M7 71h1.06"/>
<path stroke="#0078ff" d="M6 9h1.06M23 31h1.06"/>
<path stroke="#0087ff" d="M8 2h1.06M4 21h1.06M11 46h1.06"/>
<path stroke="#0097ff" d="M8 27h1.06M7 32h1.06M7 38h1.06M17 65h1.06M6 78h1.06"/>
<path stroke="#00a7ff" d="M14 14h1.06M22 21h1.06M24 24h1.06M1 60h1.06"/>
<path stroke="#00b7ff" d="M24 49h1.06M16 55h1.06M4 65h1.06"/>
<path stroke="#08fff7" d="M2 27h1.06M4 66h1.06M6 79h1.06M16 79h1.06"/>
<path stroke="#18ffe7" d="M12 1h1.06M7 2h1.06M10 3h1.06M15 3h1.06M15 4h1.06M6 5h1.06M23 9h1.06M16 13h1.06M9 15h1.06M23 17h1.06M6 18h1.06M5 19h1.06M21 20h1.06M6 21h1.06M6 22h1.06M14 22h1.06M2 23h1.06M15 25h1.06M19 26h1.06M14 27h1.06M21 31h1.06M2 33h1.06M24 33h1.06M0 38h1.06M8 42h1.06M5 45h1.06M25 48h1.06M3 50h1.06M7 51h1.06M6 52h1.06M3 54h2.06M2 56h1.06M11 56h1.06M22 57h1.06M16 61h1.06M23 64h1.06M14 66h1.06M16 68h1.06M4 69h1.06M11 69h3.06M4 70h1.06M9 71h1.06M18 72h1.06M21 72h1.06M0 73h1.06M10 73h1.06M22 73h1.06M1 77h2.06"/>
<path stroke="#28ffd7" d="M24 1h1.06M17 5h1.06M17 9h1.06M0 17h1.06M1 24h1.06M23 34h1.06M10 37h1.06M23 41h1.06M21 45h1.06M0 50h1.06M15 55h1.06M11 60h1.06M16 63h1.06M21 70h1.06M7 72h1.06M15 74h1.06M6 76h1.06M18 78h1.06"/>
<path stroke="#38ffc7" d="M14 0h1.06M10 2h1.06M7 5h1.06M16 9h1.06M9 10h1.06M13 12h1.06M7 13h1.06M9 16h1.06M7 27h1.06M16 28h1.06M8 30h1.06M10 30h1.06M21 30h1.06M25 35h1.06M7 37h1.06M21 37h1.06M24 39h1.06M22 40h1.06M1 43h1.06M14 43h1.06M8 51h1.06M0 52h1.06M12 54h1.06M12 56h1.06M18 56h1.06M15 57h1.06M14 60h1.06M1 63h1.06M24 64h1.06M4 68h1.06M14 69h1.06M20 69h1.06"/>
<path stroke="#48ffb7" d="M22 2h2.06M13 10h1.06M0 13h1.06M17 13h1.06M5 14h1.06M13 17h1.06M8 19h1.06M16 19h1.06M11 22h1.06M0 23h1.06M11 23h1.06M23 23h1.06M8 35h1.06M4 36h2.06M8 40h1.06M18 42h1.06M0 43h1.06M25 46h1.06M10 47h1.06M11 48h1.06M13 53h1.06M15 56h1.06M11 57h1.06M2 60h1.06M9 65h1.06M23 66h1.06M19 70h1.06M2 71h1.06M25 73h1.06M25 74h1.06"/>
<path stroke="#58ffa7" d="M9 0h1.06M10 1h1.06M2 11h1.06M6 11h1.06M20 11h1.06M5 13h1.06M10 16h1.06M15 17h1.06M0 18h1.06M16 18h1.06M9 19h1.06M8 20h1.06M1 22h1.06M5 22h1.06M22 23h1.06M5 24h1.06M14 28h1.06M17 29h1.06M16 31h1.06M22 31h1.06M8 32h1.06M18 35h1.06M5 38h1.06M0 47h1.06M12 48h2.06M4 52h1.06M1 54h1.06M10 54h1.06M23 56h1.06M8 57h1.06M4 60h1.06M2 63h1.06M0 64h1.06M22 66h1.06M2 72h1.06M13 73h1.06M1 75h2.06M11 76h1.06M11 77h1.06"/>
<path stroke="#68ff97" d="M1 0h1.06M8 0h1.06M12 0h1.06M24 0h1.06M18 3h1.06M16 4h1.06M5 5h1.06M8 5h1.06M21 5h1.06M18 6h1.06M22 6h1.06M17 10h1.06M3 12h1.06M6 13h1.06M18 13h1.06M3 15h1.06M0 16h1.06M3 16h1.06M14 17h1.06M16 17h1.06M21 17h1.06M17 18h1.06M2 21h1.06M22 25h1.06M1 28h1.06M24 29h1.06M17 32h1.06M5 33h1.06M4 34h1.06M10 34h1.06M22 35h1.06M23 39h1.06M25 40h1.06M1 41h1.06M9 41h1.06M13 43h1.06M4 44h1.06M2 45h1.06M20 48h2.06M10 49h1.06M15 49h1.06M22 53h1.06M2 54h1.06M9 54h1.06M1 56h1.06M13 56h1.06M18 57h1.06M3 58h1.06M3 60h1.06M7 60h1.06M22 62h1.06M3 63h1.06M1 64h1.06M8 65h1.06M18 66h1.06M7 68h1.06M10 69h1.06M3 70h1.06M4 74h1.06M7 74h1.06M22 74h1.06M0 77h1.06M10 77h1.06M5 78h1.06"/>
<path stroke="#78ff87" d="M2 0h1.06M16 3h1.06M20 4h1.06M25 6h1.06M8 7h1.06M13 7h2.06M6 8h1.06M10 8h2.06M10 9h1.06M15 9h1.06M18 9h1.06M20 9h1.06M1 11h1.06M3 11h1.06M5 11h1.06M24 11h1.06M17 12h1.06M4 14h1.06M5 15h1.06M10 15h1.06M14 18h1.06M21 18h1.06M4 19h1.06M24 19h1.06M19 20h1.06M11 21h1.06M21 21h1.06M23 24h1.06M21 25h1.06M4 26h1.06M10 27h1.06M4 29h1.06M15 29h1.06M19 29h1.06M21 29h1.06M10 33h1.06M1 38h1.06M19 39h1.06M21 40h1.06M0 41h1.06M13 41h1.06M24 41h1.06M25 42h1.06M2 43h1.06M8 45h2.06M4 46h1.06M13 46h1.06M24 47h1.06M16 49h1.06M1 50h1.06M9 50h1.06M12 50h1.06M3 51h2.06M5 52h1.06M23 52h1.06M11 54h1.06M2 55h1.06M0 56h1.06M12 57h1.06M13 60h1.06M25 60h1.06M3 61h1.06M0 62h1.06M2 64h1.06M14 65h1.06M16 66h1.06M2 67h1.06M3 68h1.06M13 68h1.06M1 69h1.06M5 70h1.06M6 72h1.06M23 72h1.06M7 75h1.06M18 75h1.06M7 77h1.06M8 78h1.06"/>
<path stroke="#87ff78" d="M9 1h1.06M21 1h1.06M25 1h1.06M17 4h1.06M3 5h2.06M19 6h1.06M7 7h1.06M15 7h1.06M12 8h1.06M14 8h1.06M9 9h1.06M24 9h1.06M15 11h1.06M18 12h1.06M8 13h1.06M12 13h1.06M15 13h1.06M2 14h1.06M13 15h1.06M15 15h1.06M6 16h1.06M8 16h1.06M13 16h1.06M22 16h1.06M6 17h2.06M5 18h1.06M10 18h1.06M15 18h1.06M17 19h1.06M4 20h1.06M4 22h1.06M1 23h1.06M14 24h1.06M5 26h1.06M18 26h1.06M3 27h1.06M6 27h1.06M9 27h1.06M21 27h1.06M0 28h1.06M15 28h1.06M24 28h1.06M2 29h2.06M5 29h1.06M2 31h1.06M23 33h1.06M5 34h1.06M24 34h1.06M7 36h1.06M4 37h1.06M6 37h1.06M19 37h2.06M1 39h1.06M18 39h1.06M1 40h1.06M10 40h1.06M17 40h2.06M10 41h1.06M9 42h2.06M24 42h1.06M25 43h1.06M1 44h1.06M13 45h1.06M22 45h1.06M11 47h1.06M4 49h1.06M8 50h1.06M22 50h1.06M1 52h1.06M22 52h1.06M0 54h1.06M16 54h1.06M1 57h1.06M7 57h1.06M6 58h1.06M23 59h1.06M0 60h1.06M8 63h1.06M18 63h1.06M22 63h1.06M9 64h2.06M2 65h1.06M13 65h1.06M16 65h1.06M24 66h1.06M1 67h1.06M18 67h1.06M14 68h1.06M19 68h1.06M23 69h2.06M18 70h1.06M23 70h1.06M0 71h2.06M14 71h1.06M25 71h1.06M9 73h1.06M19 73h1.06M5 75h1.06M16 75h1.06M22 75h1.06M2 76h1.06M4 76h1.06M12 76h1.06M25 76h1.06M8 77h1.06M7 78h1.06"/>
<path stroke="#97ff68" d="M3 0h1.06M6 0h1.06M11 1h1.06M6 2h1.06M11 3h1.06M17 3h1.06M22 3h1.06M21 4h2.06M2 5h1.06M10 5h1.06M25 7h1.06M0 8h1.06M11 9h1.06M14 9h1.06M22 9h1.06M4 10h1.06M16 10h1.06M4 11h1.06M14 11h1.06M19 11h1.06M15 12h1.06M4 15h1.06M18 15h1.06M21 15h1.06M23 16h1.06M2 18h1.06M7 18h1.06M25 18h1.06M2 19h1.06M10 19h1.06M15 19h1.06M25 19h1.06M5 20h1.06M12 21h1.06M23 22h1.06M3 23h1.06M16 23h1.06M7 24h1.06M0 25h1.06M24 26h1.06M0 27h2.06M4 27h1.06M11 27h1.06M15 27h1.06M20 29h1.06M9 30h1.06M6 31h1.06M21 32h1.06M3 33h2.06M0 34h1.06M9 34h1.06M1 35h1.06M10 35h2.06M6 36h1.06M22 36h1.06M0 37h1.06M5 37h1.06M2 38h1.06M4 38h1.06M2 39h1.06M22 39h1.06M24 40h1.06M6 41h1.06M12 41h1.06M14 41h1.06M22 41h1.06M4 42h1.06M12 42h1.06M9 43h1.06M7 44h2.06M0 45h1.06M10 45h1.06M5 46h1.06M4 47h1.06M25 49h1.06M2 50h1.06M7 50h1.06M16 53h1.06M5 54h1.06M13 54h1.06M21 54h1.06M5 55h1.06M11 55h1.06M6 56h1.06M2 57h1.06M13 57h2.06M25 57h1.06M22 58h1.06M3 59h1.06M17 59h1.06M24 59h1.06M8 60h1.06M16 60h1.06M22 60h1.06M5 61h1.06M15 61h1.06M25 61h1.06M15 63h1.06M17 63h1.06M4 64h3.06M11 64h1.06M22 64h1.06M10 65h1.06M4 67h1.06M7 67h1.06M19 67h1.06M0 68h2.06M11 68h2.06M18 68h1.06M20 68h1.06M9 69h1.06M2 70h1.06M12 70h1.06M11 71h1.06M5 72h1.06M17 73h1.06M14 74h1.06M15 75h1.06M0 76h1.06M3 76h1.06M6 77h1.06M13 77h1.06M22 77h1.06M19 78h1.06M5 79h1.06M13 79h1.06"/>
<path stroke="#a7ff58" d="M13 0h1.06M18 0h1.06M0 2h1.06M9 2h1.06M12 2h1.06M12 3h1.06M21 3h1.06M1 4h1.06M8 4h1.06M11 4h1.06M25 4h1.06M1 5h1.06M9 5h1.06M20 5h1.06M22 5h1.06M15 6h3.06M0 7h1.06M21 7h2.06M16 8h1.06M19 9h1.06M5 10h1.06M7 10h1.06M11 10h1.06M15 10h1.06M18 10h1.06M7 11h1.06M21 11h1.06M11 12h1.06M16 12h1.06M13 13h1.06M0 14h1.06M18 14h1.06M25 14h1.06M19 15h1.06M22 15h1.06M21 16h1.06M12 17h1.06M19 17h1.06M6 19h2.06M18 19h1.06M12 20h1.06M23 20h1.06M23 21h1.06M22 22h1.06M6 23h1.06M10 23h1.06M1 25h1.06M23 25h1.06M10 26h2.06M25 26h1.06M5 27h1.06M20 27h1.06M4 28h1.06M9 28h2.06M23 28h1.06M16 29h1.06M18 29h1.06M7 30h1.06M15 30h1.06M3 31h1.06M10 32h1.06M16 33h1.06M25 33h1.06M7 34h1.06M22 34h1.06M0 35h1.06M5 35h1.06M21 35h1.06M23 35h2.06M1 36h1.06M8 37h1.06M10 38h1.06M18 38h1.06M0 39h1.06M25 39h1.06M0 40h1.06M7 40h1.06M9 40h1.06M11 40h1.06M21 41h1.06M1 42h1.06M21 42h1.06M11 43h1.06M3 44h1.06M6 44h1.06M23 44h1.06M11 45h1.06M3 46h1.06M12 46h1.06M14 46h1.06M8 47h1.06M18 47h1.06M22 47h1.06M10 48h1.06M6 49h4.06M4 50h1.06M14 50h1.06M23 50h1.06M2 52h2.06M7 52h2.06M11 52h1.06M6 53h2.06M15 54h1.06M22 54h1.06M7 56h1.06M2 58h1.06M6 59h2.06M5 60h2.06M12 60h1.06M24 60h1.06M4 61h1.06M12 61h1.06M17 61h1.06M1 62h1.06M7 63h1.06M8 64h1.06M25 64h1.06M15 65h1.06M2 66h1.06M13 66h1.06M15 66h1.06M3 67h1.06M6 67h1.06M11 67h1.06M17 67h1.06M20 67h1.06M23 67h1.06M15 68h1.06M24 68h2.06M19 69h1.06M6 70h1.06M20 70h1.06M22 70h1.06M3 72h1.06M22 72h1.06M8 73h1.06M10 74h1.06M13 74h1.06M23 74h1.06M3 75h1.06M1 76h1.06M9 77h1.06M4 78h1.06M16 78h1.06M17 79h1.06M24 79h1.06"/>
<path stroke="#b7ff48" d="M0 0h1.06M4 0h1.06M7 0h1.06M0 1h1.06M2 1h1.06M8 1h1.06M23 1h1.06M14 2h1.06M5 3h2.06M13 3h1.06M0 4h1.06M2 4h2.06M10 4h1.06M14 4h1.06M19 4h1.06M0 5h1.06M18 5h1.06M6 6h1.06M8 6h1.06M14 6h1.06M1 7h1.06M9 7h1.06M19 7h2.06M23 7h2.06M2 8h1.06M5 8h1.06M15 8h1.06M7 9h1.06M21 9h1.06M6 10h1.06M10 10h1.06M12 10h1.06M14 10h1.06M20 10h1.06M0 11h1.06M13 11h1.06M9 12h2.06M23 12h1.06M19 13h2.06M24 13h1.06M1 14h1.06M11 14h1.06M15 14h1.06M25 15h1.06M1 16h1.06M7 16h1.06M12 16h1.06M20 17h1.06M22 17h1.06M24 17h2.06M4 18h1.06M11 18h1.06M13 18h1.06M11 19h1.06M7 20h1.06M9 20h1.06M25 21h1.06M2 22h1.06M10 22h1.06M16 22h1.06M17 23h1.06M21 23h1.06M6 24h1.06M9 24h1.06M5 25h1.06M14 25h1.06M16 25h1.06M20 25h1.06M3 26h1.06M9 26h1.06M16 27h1.06M2 28h2.06M7 28h2.06M10 29h1.06M17 30h1.06M20 30h1.06M1 31h1.06M9 31h1.06M9 32h1.06M25 32h1.06M25 34h1.06M20 35h1.06M2 36h2.06M11 37h1.06M22 37h1.06M24 37h1.06M3 38h1.06M6 38h1.06M11 38h1.06M4 39h1.06M11 39h1.06M3 40h2.06M19 40h2.06M23 40h1.06M8 41h1.06M11 41h1.06M2 42h2.06M7 42h1.06M13 42h2.06M19 42h2.06M5 44h1.06M7 45h1.06M14 45h1.06M23 45h1.06M16 47h1.06M25 47h1.06M7 48h2.06M22 48h1.06M24 48h1.06M14 49h1.06M24 50h1.06M0 51h1.06M2 51h1.06M14 51h1.06M12 52h2.06M24 52h1.06M2 53h1.06M21 53h1.06M25 53h1.06M25 54h1.06M1 55h1.06M14 55h1.06M8 56h1.06M10 56h1.06M21 57h1.06M1 58h1.06M23 58h2.06M2 59h1.06M4 59h1.06M22 59h1.06M25 59h1.06M23 60h1.06M11 61h1.06M2 62h2.06M6 62h1.06M11 62h1.06M19 63h1.06M7 64h1.06M14 64h2.06M18 65h1.06M19 66h1.06M22 67h1.06M2 68h1.06M17 68h1.06M7 69h1.06M25 69h1.06M11 70h1.06M24 70h1.06M3 71h1.06M8 71h1.06M10 71h1.06M12 71h1.06M17 71h1.06M21 71h1.06M0 72h1.06M3 73h1.06M7 73h1.06M14 73h1.06M20 73h1.06M23 73h2.06M2 74h1.06M18 74h1.06M21 74h1.06M24 74h1.06M0 75h1.06M19 75h1.06M21 75h1.06M10 76h1.06M5 77h1.06M12 78h1.06M17 78h1.06M20 78h5.06M4 79h1.06M7 79h1.06M11 79h2.06"/>
<path stroke="#c7ff38" d="M5 0h1.06M19 0h1.06M25 0h1.06M7 1h1.06M17 1h2.06M22 1h1.06M11 2h1.06M7 3h1.06M9 3h1.06M19 3h2.06M7 4h1.06M24 4h1.06M14 5h1.06M23 5h1.06M0 6h1.06M3 6h1.06M7 6h1.06M9 6h1.06M16 7h1.06M1 8h1.06M3 8h1.06M18 8h2.06M1 9h1.06M8 9h1.06M0 10h1.06M19 10h1.06M23 10h1.06M9 11h1.06M25 11h1.06M0 12h3.06M7 12h1.06M12 12h1.06M14 12h1.06M24 12h1.06M9 13h1.06M14 13h1.06M25 13h1.06M3 14h1.06M6 14h1.06M10 14h1.06M16 14h2.06M20 14h1.06M6 15h1.06M14 15h1.06M16 15h1.06M20 15h1.06M4 16h1.06M11 16h1.06M3 18h1.06M8 18h1.06M12 18h1.06M18 18h2.06M1 19h1.06M3 19h1.06M6 20h1.06M18 20h1.06M20 20h1.06M22 20h1.06M1 21h1.06M3 21h1.06M5 21h1.06M15 21h1.06M20 21h1.06M14 23h2.06M8 24h1.06M15 24h1.06M20 24h1.06M8 25h1.06M17 25h1.06M2 26h1.06M6 26h3.06M17 26h1.06M17 27h1.06M25 27h1.06M17 28h1.06M25 28h1.06M6 29h1.06M22 29h2.06M14 30h1.06M16 30h1.06M18 30h1.06M10 31h1.06M1 32h1.06M20 32h1.06M15 33h1.06M19 33h1.06M1 34h1.06M3 34h1.06M6 34h1.06M21 34h1.06M4 35h1.06M7 35h1.06M9 35h1.06M19 35h1.06M8 36h1.06M21 36h1.06M23 36h1.06M18 37h1.06M25 37h1.06M5 39h1.06M10 39h1.06M2 40h1.06M2 41h1.06M20 41h1.06M5 42h1.06M22 42h1.06M10 43h1.06M12 43h1.06M18 43h1.06M23 43h1.06M12 45h1.06M19 45h1.06M24 45h2.06M2 46h1.06M6 46h1.06M10 46h1.06M15 46h1.06M24 46h1.06M1 47h1.06M5 47h1.06M9 47h1.06M12 47h3.06M23 47h1.06M4 48h1.06M9 48h1.06M5 49h1.06M13 50h1.06M15 50h1.06M11 51h2.06M21 52h1.06M8 53h1.06M15 53h1.06M8 54h1.06M14 54h1.06M23 54h1.06M3 55h1.06M17 55h2.06M14 56h1.06M24 56h1.06M5 58h1.06M12 58h3.06M13 59h1.06M18 60h1.06M6 61h1.06M23 61h1.06M10 62h1.06M9 63h1.06M11 63h1.06M23 63h1.06M3 64h1.06M0 65h1.06M24 65h1.06M11 66h1.06M8 67h1.06M12 67h1.06M16 67h1.06M22 68h1.06M0 69h1.06M5 69h1.06M8 69h1.06M15 69h1.06M22 69h1.06M10 70h1.06M17 70h1.06M4 71h1.06M15 71h1.06M18 71h1.06M1 72h1.06M11 72h1.06M13 72h2.06M1 73h1.06M4 73h1.06M6 73h1.06M18 73h1.06M21 73h1.06M0 74h1.06M6 74h1.06M8 74h1.06M16 74h2.06M4 75h1.06M17 75h1.06M20 75h1.06M19 76h1.06M3 77h1.06M12 77h1.06M14 77h3.06M23 77h2.06M15 78h1.06M25 78h1.06M18 79h1.06"/>
<path stroke="#d7ff28" d="M10 0h1.06M17 0h1.06M5 1h2.06M15 1h1.06M19 1h2.06M3 2h1.06M13 2h1.06M21 2h1.06M2 3h1.06M4 3h1.06M14 3h1.06M23 3h1.06M25 3h1.06M9 4h1.06M15 5h2.06M20 6h1.06M6 7h1.06M12 7h1.06M7 8h1.06M9 8h1.06M17 8h1.06M25 8h1.06M0 9h1.06M2 9h1.06M13 9h1.06M24 10h1.06M4 12h1.06M8 12h1.06M4 13h1.06M19 14h1.06M21 14h2.06M8 15h1.06M24 15h1.06M2 16h1.06M5 16h1.06M1 17h1.06M5 17h1.06M10 17h1.06M0 19h1.06M14 19h1.06M23 19h1.06M3 20h1.06M13 20h1.06M17 20h1.06M24 20h1.06M24 21h1.06M3 22h1.06M12 22h1.06M24 22h1.06M7 23h1.06M9 23h1.06M12 23h2.06M24 23h1.06M4 24h1.06M19 24h1.06M2 25h1.06M18 25h2.06M24 25h1.06M0 26h1.06M20 26h1.06M23 26h1.06M24 27h1.06M11 28h1.06M22 28h1.06M1 30h2.06M5 30h1.06M20 31h1.06M16 32h1.06M18 32h1.06M22 32h1.06M6 33h1.06M9 33h1.06M2 34h1.06M2 35h1.06M0 36h1.06M20 36h1.06M24 36h1.06M9 37h1.06M9 38h1.06M19 38h1.06M24 38h1.06M7 39h1.06M12 39h1.06M13 40h1.06M7 41h1.06M23 42h1.06M3 43h1.06M24 43h1.06M0 44h1.06M2 44h1.06M18 44h1.06M21 44h2.06M24 44h1.06M1 45h1.06M6 45h1.06M18 45h1.06M20 45h1.06M1 46h1.06M9 46h1.06M21 47h1.06M0 48h1.06M14 48h1.06M0 49h1.06M11 49h1.06M22 49h1.06M10 50h2.06M25 50h1.06M9 51h1.06M9 52h1.06M16 52h1.06M0 53h1.06M3 53h3.06M12 53h1.06M14 53h1.06M23 53h1.06M6 54h1.06M18 54h1.06M24 54h1.06M8 55h1.06M22 55h1.06M5 56h1.06M9 56h1.06M22 56h1.06M0 57h1.06M3 57h1.06M6 57h1.06M10 57h1.06M16 57h2.06M23 57h2.06M4 58h1.06M11 58h1.06M15 58h1.06M25 58h1.06M0 59h1.06M5 59h1.06M8 59h2.06M14 59h1.06M18 59h1.06M15 60h1.06M10 61h1.06M18 61h1.06M22 61h1.06M4 62h2.06M12 62h1.06M18 62h1.06M0 63h1.06M6 63h1.06M14 63h1.06M16 64h1.06M7 65h1.06M19 65h1.06M23 65h1.06M1 66h1.06M3 66h1.06M5 66h3.06M12 66h1.06M20 66h1.06M5 67h1.06M13 67h2.06M8 68h1.06M21 68h1.06M23 68h1.06M6 69h1.06M21 69h1.06M9 70h1.06M16 70h1.06M5 71h1.06M13 71h1.06M20 71h1.06M24 71h1.06M10 72h1.06M12 72h1.06M17 72h1.06M5 73h1.06M3 74h1.06M11 74h1.06M19 74h1.06M8 75h1.06M18 76h1.06M24 76h1.06M21 77h1.06M25 77h1.06M3 78h1.06M11 78h1.06M15 79h1.06M22 79h1.06"/>
<path stroke="#e7ff18" d="M11 0h1.06M3 1h1.06M1 2h1.06M15 2h3.06M0 3h1.06M3 3h1.06M24 3h1.06M4 4h1.06M12 4h1.06M18 4h1.06M23 4h1.06M1 6h1.06M11 6h3.06M24 6h1.06M13 8h1.06M20 8h2.06M23 8h1.06M3 9h1.06M12 9h1.06M25 9h1.06M3 10h1.06M21 10h2.06M25 10h1.06M12 11h1.06M18 11h1.06M3 13h1.06M11 13h1.06M21 13h1.06M2 15h1.06M9 17h1.06M17 17h2.06M20 18h1.06M22 18h1.06M14 20h1.06M7 21h1.06M10 21h1.06M13 21h2.06M0 22h1.06M7 22h1.06M13 22h1.06M15 22h1.06M19 22h1.06M4 23h2.06M25 23h1.06M10 24h1.06M22 24h1.06M15 26h2.06M1 29h1.06M14 29h1.06M6 30h1.06M22 30h1.06M0 31h1.06M5 31h1.06M15 31h1.06M17 31h1.06M25 31h1.06M2 32h1.06M24 32h1.06M1 33h1.06M8 33h1.06M17 33h1.06M22 33h1.06M11 34h1.06M17 34h1.06M19 34h1.06M9 36h1.06M18 36h1.06M25 36h1.06M21 38h2.06M3 39h1.06M8 39h1.06M17 39h1.06M20 39h1.06M5 40h2.06M4 43h1.06M8 43h1.06M12 44h1.06M15 45h2.06M0 46h1.06M18 46h1.06M22 46h1.06M19 47h1.06M1 48h2.06M18 48h2.06M23 49h1.06M5 50h2.06M20 50h2.06M1 51h1.06M10 51h1.06M21 51h1.06M10 52h1.06M14 52h1.06M0 55h1.06M4 55h1.06M6 55h1.06M12 55h1.06M21 55h1.06M3 56h1.06M25 56h1.06M4 57h2.06M9 57h1.06M7 58h4.06M16 58h2.06M1 59h1.06M12 59h1.06M17 60h1.06M2 61h1.06M17 62h1.06M10 63h1.06M13 63h1.06M12 64h2.06M1 65h1.06M11 65h1.06M10 66h1.06M10 68h1.06M0 70h2.06M25 70h1.06M4 72h1.06M19 72h2.06M24 72h1.06M1 74h1.06M5 74h1.06M6 75h1.06M14 75h1.06M9 76h1.06M18 77h1.06M8 79h1.06M10 79h1.06M14 79h1.06M25 79h1.06"/>
<path stroke="#f7ff08" d="M20 0h1.06M23 0h1.06M4 1h1.06M13 1h1.06M24 2h1.06M1 3h1.06M8 3h1.06M5 4h1.06M13 4h1.06M13 5h1.06M19 5h1.06M5 6h1.06M10 6h1.06M2 7h1.06M24 8h1.06M5 9h1.06M1 10h2.06M8 10h1.06M22 11h1.06M22 12h1.06M25 12h1.06M1 13h1.06M22 13h1.06M8 14h1.06M13 14h1.06M23 14h1.06M12 15h1.06M17 15h1.06M23 15h1.06M14 16h1.06M19 16h2.06M24 16h1.06M8 17h1.06M11 17h1.06M9 18h1.06M12 19h2.06M2 20h1.06M10 20h2.06M16 20h1.06M25 20h1.06M16 21h1.06M19 21h1.06M17 22h1.06M21 24h1.06M4 25h1.06M11 25h1.06M1 26h1.06M18 27h1.06M5 28h1.06M11 29h1.06M25 29h1.06M0 30h1.06M3 30h2.06M19 30h1.06M4 31h1.06M18 31h1.06M21 33h1.06M8 34h1.06M15 34h2.06M20 34h1.06M6 35h1.06M19 36h1.06M23 37h1.06M23 38h1.06M25 38h1.06M9 39h1.06M13 39h1.06M12 40h1.06M3 41h1.06M5 41h1.06M17 41h1.06M19 41h1.06M0 42h1.06M6 42h1.06M15 43h1.06M10 44h2.06M3 45h1.06M16 46h1.06M20 46h1.06M2 47h2.06M6 47h2.06M15 47h1.06M6 48h1.06M23 48h1.06M1 49h1.06M3 49h1.06M18 49h1.06M20 49h1.06M5 51h2.06M15 51h1.06M20 51h1.06M22 51h1.06M15 52h1.06M9 53h1.06M20 53h1.06M7 55h1.06M9 55h2.06M23 55h1.06M4 56h1.06M16 56h1.06M21 56h1.06M0 58h1.06M16 62h1.06M19 62h1.06M23 62h3.06M4 63h1.06M12 63h1.06M24 63h2.06M12 65h1.06M8 66h1.06M17 66h1.06M0 67h1.06M9 67h1.06M15 67h1.06M8 72h1.06M25 72h1.06M2 73h1.06M11 73h2.06M15 73h2.06M9 74h1.06M20 74h1.06M9 75h1.06M23 75h1.06M25 75h1.06M5 76h1.06M13 76h1.06M4 77h1.06M17 77h1.06M19 77h1.06M9 78h1.06M14 78h1.06M9 79h1.06M21 79h1.06"/>
<path stroke="#fff700" d="M15 0h1.06M1 1h1.06M2 2h1.06M4 2h2.06M6 4h1.06M24 5h2.06M2 6h1.06M4 6h1.06M21 6h1.06M23 6h1.06M3 7h2.06M17 7h2.06M4 8h1.06M8 8h1.06M22 8h1.06M4 9h1.06M10 11h1.06M16 11h1.06M23 11h1.06M5 12h2.06M19 12h1.06M10 13h1.06M23 13h1.06M7 14h1.06M9 14h1.06M12 14h1.06M0 15h2.06M7 15h1.06M1 18h1.06M24 18h1.06M22 19h1.06M1 20h1.06M0 21h1.06M17 21h2.06M9 22h1.06M20 22h2.06M25 22h1.06M8 23h1.06M2 24h1.06M13 24h1.06M7 25h1.06M25 25h1.06M14 26h1.06M19 27h1.06M22 27h1.06M19 28h3.06M7 31h2.06M19 31h1.06M6 32h1.06M15 32h1.06M23 32h1.06M11 33h1.06M18 33h1.06M18 34h1.06M16 35h1.06M16 36h1.06M1 37h1.06M3 37h1.06M8 38h1.06M6 39h1.06M21 39h1.06M14 40h1.06M18 41h1.06M25 41h1.06M17 42h1.06M13 44h1.06M7 46h2.06M19 46h1.06M21 46h1.06M13 49h1.06M21 49h1.06M13 51h1.06M20 52h1.06M1 53h1.06M18 53h1.06M7 54h1.06M17 56h1.06M18 58h1.06M21 58h1.06M10 59h1.06M1 61h1.06M7 61h1.06M9 61h1.06M14 61h1.06M7 62h1.06M17 64h1.06M19 64h1.06M3 65h1.06M6 65h1.06M22 65h1.06M25 65h1.06M0 66h1.06M9 66h1.06M10 67h1.06M24 67h1.06M18 69h1.06M19 71h1.06M15 72h2.06M12 74h1.06M10 75h1.06M24 75h1.06M7 76h2.06M14 76h2.06M22 76h1.06M20 77h1.06M0 78h1.06M10 78h1.06M13 78h1.06M1 79h3.06M19 79h1.06M23 79h1.06"/>
<path stroke="#ffe700" d="M16 0h1.06M21 0h1.06M5 7h1.06M10 7h2.06M11 15h1.06M2 17h1.06M4 17h1.06M21 19h1.06M0 20h1.06M15 20h1.06M8 21h1.06M18 22h1.06M18 23h1.06M20 23h1.06M16 24h1.06M18 24h1.06M3 25h1.06M6 25h1.06M9 25h1.06M13 25h1.06M21 26h1.06M6 28h1.06M7 29h1.06M9 29h1.06M3 32h1.06M5 32h1.06M11 32h1.06M19 32h1.06M0 33h1.06M7 33h1.06M3 35h1.06M17 35h1.06M2 37h1.06M12 37h1.06M20 38h1.06M4 41h1.06M5 43h1.06M7 43h1.06M17 43h1.06M9 44h1.06M19 44h1.06M25 44h1.06M4 45h1.06M20 47h1.06M5 48h1.06M16 48h1.06M2 49h1.06M12 49h1.06M19 49h1.06M17 50h1.06M23 51h1.06M11 53h1.06M24 53h1.06M17 54h1.06M20 54h1.06M13 55h1.06M10 60h1.06M13 61h1.06M24 61h1.06M13 62h1.06M15 62h1.06M5 63h1.06M18 64h1.06M5 65h1.06M25 66h1.06M5 68h2.06M2 69h2.06M7 70h2.06M16 71h1.06M12 75h2.06M17 76h1.06M21 76h1.06M23 76h1.06M2 78h1.06M0 79h1.06"/>
<path stroke="#ffd700" d="M22 0h1.06M14 1h1.06M25 2h1.06M11 11h1.06M17 11h1.06M2 13h1.06M24 14h1.06M18 16h1.06M25 16h1.06M3 17h1.06M23 18h1.06M9 21h1.06M8 22h1.06M17 24h1.06M25 24h1.06M10 25h1.06M12 26h2.06M22 26h1.06M12 27h1.06M23 27h1.06M18 28h1.06M11 30h1.06M24 30h1.06M14 31h1.06M10 36h1.06M17 36h1.06M16 37h1.06M12 38h1.06M15 42h1.06M6 43h1.06M16 43h1.06M14 44h2.06M20 44h1.06M15 48h1.06M17 48h1.06M17 49h1.06M16 50h1.06M24 51h1.06M18 52h1.06M25 52h1.06M10 53h1.06M19 53h1.06M20 55h1.06M11 59h1.06M9 60h1.06M8 61h1.06M19 61h1.06M8 62h2.06M14 62h1.06M21 67h1.06M9 68h1.06M15 70h1.06M22 71h2.06M11 75h1.06M20 76h1.06M1 78h1.06"/>
<path stroke="#ffc700" d="M18 2h1.06M20 2h1.06M11 5h1.06M21 12h1.06M17 16h1.06M19 23h1.06M3 24h1.06M11 24h2.06M13 27h1.06M0 29h1.06M15 35h1.06M11 36h1.06M13 38h1.06M23 46h1.06M18 50h1.06M16 51h1.06M17 53h1.06M19 54h1.06M19 55h1.06M24 55h2.06M16 59h1.06M21 59h1.06M0 61h1.06M20 65h1.06M16 69h1.06M13 70h1.06M9 72h1.06M20 79h1.06"/>
<path stroke="#ffb700" d="M12 5h1.06M15 16h2.06M19 19h2.06M8 29h1.06M23 30h1.06M25 30h1.06M11 31h1.06M4 32h1.06M14 32h1.06M12 33h1.06M13 37h1.06M17 37h1.06M14 38h1.06M17 38h1.06M14 39h1.06M15 41h1.06M19 43h1.06M17 45h1.06M17 47h1.06M19 50h1.06M17 52h1.06M20 56h1.06M19 57h1.06M15 59h1.06M20 64h1.06M21 66h1.06M25 67h1.06M17 69h1.06"/>
<path stroke="#ffa700" d="M19 2h1.06M20 12h1.06M12 25h1.06M12 28h1.06M12 29h1.06M12 32h1.06M12 36h1.06M20 43h3.06M16 44h2.06M17 51h2.06M19 52h1.06M19 60h1.06M20 63h1.06M21 65h1.06M14 70h1.06"/>
<path stroke="#ff9700" d="M12 30h1.06M14 33h1.06M12 35h2.06M13 36h1.06M15 37h1.06M16 38h1.06M15 39h1.06M15 40h2.06M17 46h1.06M19 51h1.06M20 57h1.06M19 58h1.06M19 59h1.06M21 60h1.06"/>
<path stroke="#ff8700" d="M13 28h1.06M12 34h1.06M14 36h1.06M15 38h1.06M16 39h1.06M16 41h1.06M16 42h1.06M19 56h1.06"/>
<path stroke="#ff7800" d="M13 29h1.06M12 31h2.06M14 34h1.06M15 36h1.06M14 37h1.06M21 61h1.06M21 62h1.06M21 63h1.06"/>
<path stroke="#ff6800" d="M13 30h1.06M20 58h1.06M20 59h1.06M20 62h1.06"/>
<path stroke="#ff5800" d="M13 34h1.06M14 35h1.06M20 60h1.06M20 61h1.06M21 64h1.06"/>
<path stroke="#ff4800" d="M13 33h1.06"/>
<path stroke="#ff3800" d="M13 32h1.06"/>
</g></g></g>
<!-- panel 4 -->
<clipPath id="cp4"><rect x="326.75" y="329.50" width="200.25" height="182.00"/></clipPath>
<g clip-path="url(#cp4)">
<rect x="325.75" y="328.50" width="202.25" height="184.00" fill="#c4f03b"/>
<g filter="url(#bl)">
<g transform="translate(322.745 330.637) scale(8.0100 2.2750)" stroke-width="1.12" fill="none">
<path stroke="#0000a7" d="M10 36h1.06"/>
<path stroke="#0000b7" d="M16 45h1.06"/>
<path stroke="#0000e7" d="M5 72h1.06"/>
<path stroke="#0008ff" d="M7 23h1.06M10 33h1.06M7 67h1.06M24 74h1.06"/>
<path stroke="#0018ff" d="M7 74h1.06M18 76h1.06"/>
<path stroke="#0048ff" d="M18 8h1.06"/>
<path stroke="#0058ff" d="M18 9h1.06"/>
<path stroke="#0078ff" d="M25 20h1.06M25 42h1.06M4 50h1.06"/>
<path stroke="#0087ff" d="M4 14h1.06M24 45h1.06M18 54h1.06"/>
<path stroke="#0097ff" d="M17 35h1.06M7 36h1.06M17 57h1.06M13 62h1.06"/>
<path stroke="#00a7ff" d="M0 9h1.06M16 14h1.06M4 66h1.06"/>
<path stroke="#00b7ff" d="M23 3h1.06"/>
<path stroke="#08fff7" d="M1 43h1.06M5 56h1.06M3 68h1.06M1 69h1.06M2 71h1.06M7 79h1.06"/>
<path stroke="#18ffe7" d="M13 0h1.06M7 1h1.06M9 2h1.06M9 3h1.06M11 3h2.06M20 3h1.06M4 7h1.06M2 10h1.06M10 10h1.06M17 13h1.06M9 16h2.06M21 17h1.06M22 22h1.06M0 25h1.06M0 34h1.06M24 35h1.06M0 36h1.06M2 37h1.06M6 40h1.06M18 40h1.06M4 46h1.06M12 47h1.06M12 49h1.06M21 50h1.06M3 52h1.06M22 54h1.06M22 65h1.06M12 66h1.06M8 69h1.06M12 70h1.06M18 71h1.06M18 72h1.06M20 72h1.06M0 73h1.06M14 73h1.06M16 73h1.06M18 73h1.06M13 74h1.06M7 76h1.06M13 76h1.06M21 76h1.06M10 77h1.06M14 77h1.06M8 78h1.06"/>
<path stroke="#28ffd7" d="M13 1h1.06M20 2h1.06M15 8h1.06M23 16h1.06M21 22h1.06M23 24h1.06M5 32h1.06M21 35h1.06M12 37h1.06M12 39h1.06M8 41h1.06M2 43h1.06M23 45h1.06M17 46h1.06M8 50h1.06M5 55h1.06M3 61h2.06M11 68h1.06M20 69h1.06M17 70h1.06M9 72h1.06"/>
<path stroke="#38ffc7" d="M23 1h1.06M5 2h1.06M14 5h1.06M24 9h1.06M10 18h1.06M18 18h1.06M3 24h1.06M11 24h1.06M5 25h1.06M4 26h1.06M1 33h1.06M18 41h1.06M14 42h1.06M0 46h1.06M21 46h1.06M25 47h1.06M4 48h1.06M1 50h1.06M17 52h1.06M9 56h1.06M21 57h1.06M17 58h1.06M13 59h1.06M9 63h1.06M20 64h1.06M13 66h1.06M20 70h1.06M9 75h1.06M9 77h1.06"/>
<path stroke="#48ffb7" d="M8 1h1.06M7 7h1.06M5 8h1.06M14 13h1.06M22 20h1.06M20 22h1.06M5 27h1.06M7 38h1.06M19 40h1.06M4 41h1.06M19 41h1.06M21 41h1.06M11 46h1.06M13 47h1.06M0 48h1.06M7 50h1.06M24 53h1.06M11 55h1.06M7 56h1.06M5 60h1.06M0 61h1.06M16 63h1.06M9 64h1.06M22 64h1.06M11 65h1.06M21 66h1.06M15 72h1.06M19 75h1.06M4 78h1.06M10 78h1.06"/>
<path stroke="#58ffa7" d="M6 0h1.06M19 0h1.06M2 2h1.06M13 6h1.06M13 7h1.06M6 11h1.06M11 16h1.06M20 18h1.06M24 18h1.06M2 21h1.06M11 22h1.06M4 30h1.06M6 32h1.06M4 36h1.06M8 37h1.06M10 38h1.06M11 39h1.06M7 41h1.06M12 41h1.06M8 43h1.06M15 44h1.06M15 46h1.06M0 47h1.06M11 47h1.06M13 52h1.06M6 56h1.06M0 62h1.06M3 62h1.06M13 63h1.06M10 65h1.06M21 69h1.06M10 70h1.06M19 70h1.06M9 71h1.06M16 76h1.06M23 77h1.06M1 78h1.06M25 78h1.06"/>
<path stroke="#68ff97" d="M2 0h1.06M7 0h2.06M6 1h1.06M7 2h1.06M10 3h1.06M21 3h1.06M25 4h1.06M10 6h1.06M4 8h1.06M23 10h1.06M17 11h1.06M5 13h1.06M18 13h1.06M24 13h1.06M22 14h1.06M22 16h1.06M24 16h1.06M11 17h3.06M6 18h1.06M11 18h1.06M5 19h1.06M2 20h1.06M6 21h1.06M9 22h1.06M9 23h1.06M13 23h2.06M1 25h1.06M9 38h1.06M0 39h1.06M4 39h1.06M6 39h3.06M13 39h1.06M10 40h1.06M17 40h1.06M9 41h1.06M17 41h1.06M20 41h1.06M25 41h1.06M1 42h1.06M4 43h2.06M14 43h1.06M7 46h1.06M16 46h1.06M9 47h1.06M16 47h1.06M23 47h1.06M1 48h1.06M20 49h1.06M9 51h1.06M4 52h1.06M22 53h1.06M25 53h1.06M23 54h2.06M0 55h1.06M4 56h1.06M10 56h1.06M3 58h1.06M11 61h1.06M5 64h1.06M23 64h1.06M7 66h2.06M11 66h1.06M2 67h1.06M8 67h1.06M17 67h1.06M21 67h1.06M23 68h1.06M12 69h1.06M2 70h1.06M4 70h1.06M18 70h1.06M2 76h1.06M20 76h1.06M16 77h1.06M5 78h1.06M7 78h1.06"/>
<path stroke="#78ff87" d="M10 2h1.06M16 2h1.06M19 3h1.06M5 5h1.06M20 5h1.06M2 6h1.06M17 7h1.06M0 10h1.06M19 10h1.06M0 11h1.06M18 11h1.06M10 12h1.06M14 12h1.06M24 12h1.06M15 13h1.06M10 14h1.06M25 14h1.06M19 15h1.06M8 16h1.06M8 18h1.06M5 20h1.06M13 21h1.06M8 23h1.06M6 25h1.06M1 26h1.06M6 30h1.06M0 32h3.06M3 34h1.06M9 35h1.06M15 37h1.06M24 38h1.06M5 40h1.06M5 41h1.06M3 42h1.06M12 43h1.06M15 43h1.06M24 43h1.06M8 45h1.06M25 45h1.06M22 46h1.06M3 47h1.06M14 47h1.06M3 48h1.06M24 48h1.06M10 51h1.06M15 51h1.06M20 51h1.06M2 52h1.06M12 56h1.06M5 57h2.06M9 58h1.06M7 59h1.06M14 59h1.06M20 60h1.06M17 62h1.06M3 63h1.06M7 64h1.06M2 65h4.06M22 66h1.06M16 72h1.06M23 72h1.06M6 73h1.06M17 73h1.06M6 75h1.06M11 77h1.06"/>
<path stroke="#87ff78" d="M9 1h3.06M24 1h1.06M3 2h1.06M6 2h1.06M14 2h1.06M23 2h1.06M4 4h1.06M10 4h1.06M3 6h1.06M12 7h1.06M24 7h1.06M16 8h1.06M8 9h1.06M2 11h2.06M15 12h1.06M25 12h1.06M18 14h1.06M17 15h1.06M23 15h1.06M2 16h1.06M12 16h1.06M15 18h1.06M17 18h1.06M19 18h1.06M11 21h1.06M2 23h1.06M4 23h1.06M12 23h1.06M18 23h1.06M2 24h1.06M6 24h1.06M10 24h1.06M12 24h1.06M22 24h1.06M23 25h1.06M0 26h1.06M7 26h1.06M1 27h1.06M4 29h1.06M7 33h1.06M25 33h1.06M2 34h1.06M17 34h1.06M18 35h1.06M5 36h1.06M22 36h1.06M25 36h1.06M3 37h1.06M16 37h1.06M8 38h1.06M11 38h1.06M15 38h1.06M25 38h1.06M9 39h1.06M17 39h1.06M21 39h1.06M13 40h1.06M16 40h1.06M24 41h1.06M11 43h1.06M20 43h1.06M23 43h1.06M3 45h2.06M25 46h1.06M6 47h1.06M17 47h1.06M2 48h1.06M15 48h1.06M16 49h1.06M11 50h1.06M16 50h1.06M23 51h1.06M16 53h1.06M23 53h1.06M2 54h1.06M21 54h1.06M13 56h1.06M17 56h1.06M2 57h1.06M2 58h1.06M13 60h1.06M21 60h1.06M2 61h1.06M25 61h1.06M24 62h1.06M0 63h1.06M6 64h1.06M19 64h1.06M21 64h1.06M12 65h1.06M15 67h1.06M20 67h1.06M11 70h1.06M0 71h2.06M10 71h1.06M2 72h1.06M10 72h1.06M19 72h1.06M1 73h1.06M3 73h1.06M7 73h1.06M25 74h1.06M8 75h1.06M11 75h2.06M20 75h1.06M0 76h1.06M23 76h1.06M13 78h1.06M0 79h1.06"/>
<path stroke="#97ff68" d="M5 0h1.06M12 0h1.06M14 0h1.06M20 0h1.06M12 1h1.06M15 1h1.06M3 3h2.06M3 4h1.06M6 4h1.06M15 4h1.06M15 6h1.06M24 6h1.06M11 7h1.06M6 8h1.06M5 9h2.06M13 10h1.06M25 10h1.06M9 11h1.06M16 11h1.06M6 12h2.06M13 12h1.06M16 12h4.06M6 13h1.06M16 13h1.06M25 13h1.06M7 14h1.06M17 14h1.06M11 15h1.06M25 16h1.06M19 17h1.06M1 18h1.06M16 19h1.06M1 20h1.06M3 20h1.06M9 20h1.06M12 20h1.06M24 21h1.06M10 22h1.06M19 22h1.06M23 22h1.06M3 23h1.06M6 23h1.06M7 24h1.06M13 24h1.06M20 24h1.06M25 25h1.06M2 26h2.06M5 26h1.06M9 26h1.06M24 27h1.06M4 32h1.06M5 34h1.06M6 36h1.06M23 36h1.06M1 37h1.06M4 37h1.06M14 37h1.06M17 37h1.06M4 38h1.06M20 40h1.06M3 41h1.06M7 42h2.06M10 42h1.06M13 42h1.06M3 43h1.06M9 43h1.06M13 43h1.06M22 43h1.06M8 44h1.06M21 44h1.06M24 44h1.06M6 46h1.06M10 46h1.06M15 47h1.06M24 47h1.06M8 48h1.06M11 48h2.06M6 49h1.06M13 49h1.06M19 49h1.06M0 50h1.06M6 51h1.06M8 51h1.06M19 51h1.06M10 52h1.06M14 52h1.06M16 52h1.06M20 52h1.06M23 52h2.06M19 54h2.06M6 55h1.06M8 55h1.06M16 55h1.06M21 55h1.06M16 56h1.06M1 57h1.06M14 57h1.06M22 57h1.06M8 58h1.06M8 59h1.06M22 60h1.06M19 61h1.06M16 62h1.06M4 63h1.06M6 63h1.06M18 63h1.06M24 63h1.06M15 64h1.06M15 65h1.06M17 65h1.06M9 66h1.06M19 66h2.06M5 67h1.06M19 67h1.06M7 68h1.06M20 68h1.06M17 69h1.06M1 70h1.06M3 70h1.06M7 71h1.06M14 72h1.06M21 72h1.06M24 72h1.06M21 73h3.06M4 74h1.06M10 75h1.06M3 76h1.06M22 76h1.06M24 77h1.06M11 79h1.06M16 79h1.06M18 79h2.06"/>
<path stroke="#a7ff58" d="M19 1h1.06M22 1h1.06M8 2h1.06M17 2h1.06M22 2h1.06M0 3h3.06M13 3h1.06M0 4h1.06M16 4h1.06M22 4h2.06M0 5h2.06M16 5h1.06M23 6h1.06M1 7h1.06M3 7h1.06M16 7h1.06M24 8h1.06M13 9h1.06M1 10h1.06M12 10h1.06M20 10h1.06M24 10h1.06M7 11h2.06M15 11h1.06M24 11h1.06M5 12h1.06M5 14h1.06M21 14h1.06M1 16h1.06M8 17h1.06M4 19h1.06M6 19h1.06M11 19h1.06M4 20h1.06M17 20h1.06M3 21h1.06M1 23h1.06M5 24h1.06M19 24h1.06M21 24h1.06M7 25h1.06M7 27h1.06M9 27h1.06M4 28h1.06M3 31h1.06M7 32h1.06M24 32h1.06M15 33h1.06M24 33h1.06M1 34h1.06M14 34h1.06M25 35h1.06M3 36h1.06M16 36h1.06M21 36h1.06M13 37h1.06M6 38h1.06M12 38h1.06M14 38h1.06M3 39h1.06M5 39h1.06M24 39h1.06M4 40h1.06M7 40h1.06M24 40h1.06M1 41h1.06M13 41h1.06M2 42h1.06M0 43h1.06M25 43h1.06M2 44h1.06M25 44h1.06M1 46h2.06M20 46h1.06M23 46h1.06M4 47h1.06M20 47h1.06M7 49h1.06M11 49h1.06M17 50h1.06M5 52h1.06M21 52h1.06M0 53h1.06M9 53h1.06M13 53h1.06M21 53h1.06M1 54h1.06M5 54h1.06M25 55h1.06M2 56h1.06M11 56h1.06M24 56h1.06M20 57h1.06M0 58h1.06M10 58h1.06M16 58h1.06M10 59h2.06M24 59h1.06M4 60h1.06M12 60h1.06M1 62h2.06M12 62h1.06M20 62h2.06M5 63h1.06M10 63h1.06M0 64h2.06M10 64h1.06M23 66h1.06M9 67h1.06M4 68h1.06M2 69h2.06M18 69h1.06M13 70h1.06M21 70h1.06M11 71h1.06M3 72h1.06M17 72h1.06M22 72h1.06M4 73h1.06M19 73h1.06M24 73h2.06M15 75h1.06M17 76h1.06M15 77h1.06M6 78h1.06M24 78h1.06M10 79h1.06M20 79h1.06"/>
<path stroke="#b7ff48" d="M4 0h1.06M18 0h1.06M1 1h2.06M14 1h1.06M8 3h1.06M14 3h1.06M16 3h1.06M9 4h1.06M14 4h1.06M19 4h1.06M15 5h1.06M21 5h3.06M16 6h1.06M2 7h1.06M17 8h1.06M7 9h1.06M17 9h1.06M4 10h1.06M7 10h1.06M22 10h1.06M1 11h1.06M5 11h1.06M21 11h1.06M0 12h1.06M11 12h1.06M22 12h1.06M13 13h1.06M19 13h2.06M8 14h1.06M23 14h2.06M8 15h1.06M15 15h2.06M18 15h1.06M14 17h1.06M20 17h1.06M22 17h1.06M0 18h1.06M3 18h1.06M7 18h1.06M9 18h1.06M13 18h2.06M23 18h1.06M19 19h1.06M23 19h1.06M0 20h1.06M11 20h1.06M18 20h1.06M21 20h1.06M23 20h1.06M1 21h1.06M10 21h1.06M1 22h1.06M8 22h1.06M12 22h1.06M14 22h1.06M16 22h1.06M5 23h1.06M10 23h1.06M24 23h1.06M4 24h1.06M17 24h1.06M24 24h1.06M10 25h1.06M6 26h1.06M8 26h1.06M6 27h1.06M3 28h1.06M5 28h1.06M1 29h1.06M3 30h1.06M5 30h1.06M4 33h1.06M6 33h1.06M8 33h2.06M21 34h1.06M5 35h1.06M8 35h1.06M13 35h1.06M9 36h1.06M11 36h1.06M15 36h1.06M11 37h1.06M18 37h1.06M24 37h1.06M13 38h1.06M10 39h1.06M16 39h1.06M18 39h1.06M20 39h1.06M25 39h1.06M1 40h3.06M8 40h2.06M2 41h1.06M6 41h1.06M11 42h1.06M7 43h1.06M5 44h2.06M20 44h1.06M2 45h1.06M7 45h1.06M9 45h1.06M12 45h1.06M15 45h1.06M3 46h1.06M5 46h1.06M8 46h1.06M12 46h1.06M14 46h1.06M18 46h1.06M7 47h1.06M19 47h1.06M5 48h1.06M7 48h1.06M9 50h1.06M19 50h1.06M7 51h1.06M21 51h1.06M0 52h1.06M11 52h2.06M15 52h1.06M19 52h1.06M1 53h1.06M10 53h1.06M17 53h1.06M7 54h1.06M15 54h2.06M4 55h1.06M9 55h2.06M12 55h2.06M19 55h2.06M8 56h1.06M18 56h1.06M0 57h1.06M7 57h2.06M15 57h1.06M4 58h1.06M12 58h1.06M22 58h1.06M0 59h2.06M5 59h2.06M9 59h1.06M12 59h1.06M17 59h2.06M3 60h1.06M16 60h1.06M19 60h1.06M23 60h2.06M5 61h1.06M9 61h1.06M23 62h1.06M25 62h1.06M1 63h1.06M11 63h1.06M20 63h1.06M8 64h1.06M13 64h1.06M16 64h3.06M24 64h1.06M0 65h2.06M13 65h2.06M20 65h2.06M6 66h1.06M10 66h1.06M14 66h1.06M25 66h1.06M0 67h2.06M6 67h1.06M12 67h1.06M14 67h1.06M22 67h2.06M12 68h1.06M19 68h1.06M25 68h1.06M0 69h1.06M15 69h1.06M25 69h1.06M5 70h1.06M16 70h1.06M16 71h1.06M4 72h1.06M8 72h1.06M11 72h1.06M20 73h1.06M5 74h1.06M9 74h1.06M14 74h1.06M22 74h1.06M3 75h1.06M5 75h1.06M1 76h1.06M15 76h1.06M5 77h2.06M18 77h2.06M3 78h1.06M9 78h1.06M14 78h1.06M6 79h1.06M9 79h1.06M21 79h1.06M25 79h1.06"/>
<path stroke="#c7ff38" d="M21 0h1.06M24 0h2.06M25 1h1.06M0 2h1.06M15 2h1.06M18 2h2.06M21 2h1.06M5 3h1.06M17 3h1.06M2 4h1.06M11 4h1.06M3 5h1.06M4 6h2.06M22 6h1.06M25 6h1.06M23 7h1.06M25 7h1.06M3 8h1.06M23 8h1.06M25 8h1.06M2 9h1.06M20 9h1.06M3 10h1.06M8 10h2.06M11 10h1.06M10 11h1.06M19 11h1.06M22 11h2.06M3 12h1.06M9 12h1.06M21 12h1.06M7 13h1.06M11 13h1.06M19 14h1.06M4 15h1.06M10 15h1.06M24 15h1.06M5 16h2.06M13 16h1.06M4 17h1.06M10 17h1.06M15 17h1.06M21 18h1.06M7 19h2.06M10 19h1.06M17 19h2.06M15 20h2.06M8 21h2.06M25 21h1.06M0 22h1.06M4 22h1.06M6 22h1.06M13 22h1.06M15 22h1.06M24 22h2.06M15 23h1.06M22 23h1.06M25 23h1.06M9 25h1.06M24 25h1.06M10 26h1.06M4 27h1.06M8 27h1.06M5 29h1.06M24 29h1.06M0 31h3.06M6 31h2.06M3 32h1.06M8 32h3.06M5 33h1.06M14 33h1.06M6 35h1.06M1 36h1.06M12 36h1.06M18 36h1.06M20 36h1.06M9 37h2.06M19 37h2.06M3 38h1.06M5 38h1.06M23 38h1.06M19 39h1.06M22 39h1.06M25 40h1.06M10 41h2.06M16 41h1.06M23 41h1.06M0 42h1.06M17 42h2.06M24 42h1.06M6 43h1.06M21 43h1.06M3 44h1.06M7 44h1.06M9 44h1.06M13 44h1.06M16 44h1.06M0 45h1.06M10 45h1.06M9 46h1.06M24 46h1.06M1 47h1.06M10 47h1.06M18 47h1.06M9 48h2.06M21 48h2.06M14 49h2.06M21 49h1.06M2 50h1.06M25 50h1.06M24 51h1.06M1 52h1.06M20 53h1.06M0 54h1.06M13 54h2.06M17 54h1.06M25 54h1.06M24 55h1.06M19 56h3.06M23 56h1.06M13 57h1.06M23 57h1.06M6 58h1.06M11 58h1.06M9 60h2.06M17 60h1.06M1 61h1.06M8 61h1.06M10 61h1.06M16 61h1.06M24 61h1.06M11 62h1.06M18 62h1.06M12 63h1.06M17 63h1.06M21 63h1.06M12 64h1.06M14 64h1.06M25 64h1.06M16 65h1.06M18 65h1.06M25 65h1.06M2 66h1.06M11 67h1.06M16 67h1.06M6 68h1.06M8 68h1.06M24 68h1.06M9 69h1.06M14 69h1.06M19 69h1.06M0 70h1.06M6 70h2.06M14 70h1.06M5 71h2.06M8 71h1.06M14 71h1.06M17 71h1.06M22 71h1.06M12 72h1.06M2 73h1.06M15 73h1.06M0 74h1.06M12 74h1.06M17 74h1.06M21 74h1.06M23 74h1.06M7 75h1.06M4 76h1.06M14 76h1.06M19 76h1.06M0 77h1.06M8 77h1.06M17 77h1.06M2 78h1.06M12 78h1.06M1 79h1.06M8 79h1.06M12 79h1.06M17 79h1.06"/>
<path stroke="#d7ff28" d="M9 0h1.06M18 1h1.06M21 1h1.06M4 2h1.06M11 2h1.06M15 3h1.06M22 3h1.06M24 3h1.06M24 4h1.06M4 5h1.06M17 5h1.06M19 5h1.06M11 6h2.06M18 6h1.06M0 7h1.06M14 7h1.06M0 8h1.06M12 8h1.06M20 8h2.06M1 9h1.06M21 9h3.06M25 9h1.06M21 10h1.06M4 11h1.06M20 11h1.06M2 12h1.06M8 12h1.06M23 12h1.06M9 13h1.06M12 13h1.06M23 13h1.06M0 14h1.06M6 14h1.06M1 15h1.06M3 15h1.06M5 15h1.06M7 15h1.06M20 15h1.06M22 15h1.06M3 16h1.06M7 16h1.06M15 16h3.06M19 16h1.06M0 17h1.06M16 17h1.06M23 17h1.06M2 18h1.06M16 18h1.06M25 18h1.06M2 19h1.06M15 19h1.06M25 19h1.06M10 20h1.06M13 20h1.06M5 21h1.06M7 21h1.06M23 21h1.06M5 22h1.06M7 22h1.06M11 23h1.06M21 23h1.06M23 23h1.06M1 24h1.06M2 25h1.06M4 25h1.06M8 25h1.06M23 26h1.06M23 27h1.06M25 27h1.06M0 28h1.06M7 28h1.06M6 29h1.06M4 31h2.06M20 33h1.06M4 34h1.06M7 34h2.06M15 34h2.06M0 35h1.06M4 35h1.06M7 35h1.06M22 35h1.06M2 36h1.06M8 36h1.06M17 36h1.06M19 36h1.06M24 36h1.06M5 37h1.06M25 37h1.06M16 38h3.06M14 39h2.06M23 39h1.06M23 40h1.06M22 41h1.06M4 42h1.06M9 42h1.06M12 42h1.06M10 43h1.06M4 44h1.06M14 44h1.06M17 44h1.06M23 44h1.06M5 45h1.06M11 45h1.06M14 45h1.06M22 45h1.06M2 47h1.06M5 47h1.06M8 47h1.06M22 47h1.06M6 48h1.06M20 48h1.06M0 49h2.06M18 49h1.06M6 50h1.06M24 50h1.06M5 51h1.06M13 51h1.06M16 51h1.06M25 51h1.06M18 52h1.06M25 52h1.06M3 53h2.06M11 53h1.06M4 54h1.06M1 55h1.06M3 56h1.06M15 56h1.06M3 57h2.06M16 57h1.06M18 57h1.06M25 57h1.06M7 58h1.06M15 58h1.06M18 58h1.06M20 58h1.06M24 58h1.06M15 59h2.06M23 59h1.06M25 59h1.06M6 60h1.06M13 61h2.06M20 61h1.06M23 61h1.06M22 62h1.06M8 63h1.06M15 63h1.06M25 63h1.06M24 65h1.06M3 66h1.06M3 67h2.06M10 67h1.06M13 67h1.06M13 68h1.06M22 68h1.06M11 69h1.06M16 69h1.06M15 70h1.06M24 70h1.06M15 71h1.06M0 72h1.06M6 72h2.06M13 72h1.06M5 73h1.06M3 74h1.06M4 75h1.06M18 75h1.06M21 75h1.06M12 76h1.06M1 77h2.06M12 77h1.06M20 77h1.06M22 77h1.06M11 78h1.06M23 78h1.06M3 79h1.06"/>
<path stroke="#e7ff18" d="M0 0h1.06M15 0h1.06M23 0h1.06M0 1h1.06M20 1h1.06M1 2h1.06M18 3h1.06M13 4h1.06M17 4h2.06M2 5h1.06M6 5h1.06M24 5h1.06M9 6h1.06M5 7h1.06M8 7h1.06M18 7h1.06M20 7h2.06M2 8h1.06M19 8h1.06M9 9h1.06M14 9h1.06M16 9h1.06M5 10h2.06M14 10h1.06M16 10h1.06M13 11h2.06M12 12h1.06M20 12h1.06M2 13h1.06M10 13h1.06M3 14h1.06M20 14h1.06M21 16h1.06M22 18h1.06M3 19h1.06M9 19h1.06M22 19h1.06M8 20h1.06M24 20h1.06M12 21h1.06M14 21h1.06M16 21h1.06M19 21h1.06M2 22h2.06M17 22h1.06M18 24h1.06M25 24h1.06M25 26h1.06M0 27h1.06M8 28h1.06M23 28h1.06M8 30h1.06M8 31h1.06M16 32h2.06M0 33h1.06M3 33h1.06M17 33h2.06M9 34h1.06M18 34h1.06M24 34h1.06M2 35h1.06M14 35h1.06M19 35h2.06M23 35h1.06M13 36h2.06M21 37h1.06M0 38h2.06M21 38h1.06M1 39h1.06M0 40h1.06M14 41h1.06M23 42h1.06M16 43h1.06M1 44h1.06M10 44h1.06M1 45h1.06M13 45h1.06M18 45h2.06M19 46h1.06M17 48h1.06M23 48h1.06M25 48h1.06M2 49h1.06M4 49h2.06M5 50h1.06M10 50h1.06M15 50h1.06M20 50h1.06M23 50h1.06M0 51h1.06M3 51h1.06M11 51h1.06M14 51h1.06M9 52h1.06M22 52h1.06M5 53h2.06M12 53h1.06M8 54h1.06M10 54h1.06M12 54h1.06M3 55h1.06M14 55h1.06M17 55h1.06M22 55h1.06M1 56h1.06M14 56h1.06M22 56h1.06M25 56h1.06M13 58h1.06M19 58h1.06M22 59h1.06M1 60h2.06M25 60h1.06M15 61h1.06M7 62h2.06M14 62h1.06M2 63h1.06M2 64h1.06M11 64h1.06M6 65h1.06M17 66h2.06M24 66h1.06M18 67h1.06M25 67h1.06M9 68h2.06M14 68h2.06M18 68h1.06M21 68h1.06M4 69h2.06M13 69h1.06M9 70h1.06M3 71h1.06M12 71h2.06M25 72h1.06M12 73h2.06M10 74h1.06M18 74h1.06M13 75h2.06M23 75h1.06M24 76h2.06M3 77h1.06M7 77h1.06M13 77h1.06M15 78h1.06M20 78h2.06M15 79h1.06"/>
<path stroke="#f7ff08" d="M1 0h1.06M3 0h1.06M16 0h1.06M22 0h1.06M16 1h1.06M12 2h2.06M25 3h1.06M1 4h1.06M5 4h1.06M20 4h1.06M10 5h1.06M25 5h1.06M6 6h1.06M14 6h1.06M17 6h1.06M9 7h1.06M15 7h1.06M14 8h1.06M22 8h1.06M12 9h1.06M12 11h1.06M1 12h1.06M1 14h2.06M13 14h2.06M2 15h1.06M9 15h1.06M14 15h1.06M14 16h1.06M18 16h1.06M5 17h1.06M9 17h1.06M17 17h1.06M5 18h1.06M12 18h1.06M12 19h1.06M20 19h1.06M6 20h1.06M14 20h1.06M4 21h1.06M15 21h1.06M17 21h1.06M18 22h1.06M0 23h1.06M17 23h1.06M19 23h1.06M8 24h2.06M20 25h1.06M22 25h1.06M24 26h1.06M2 27h2.06M6 28h1.06M0 29h1.06M7 29h2.06M7 30h1.06M9 31h1.06M16 31h2.06M25 31h1.06M25 32h1.06M2 33h1.06M19 33h1.06M6 34h1.06M10 34h1.06M1 35h1.06M3 35h1.06M10 35h1.06M12 35h1.06M7 37h1.06M23 37h1.06M2 38h1.06M15 40h1.06M0 41h1.06M6 42h1.06M15 42h1.06M18 44h1.06M6 45h1.06M17 45h1.06M13 46h1.06M16 48h1.06M19 48h1.06M17 49h1.06M22 49h4.06M12 50h1.06M22 50h1.06M4 51h1.06M12 51h1.06M2 53h1.06M8 53h1.06M15 53h1.06M19 53h1.06M9 54h1.06M2 55h1.06M7 55h1.06M15 55h1.06M18 55h1.06M19 57h1.06M24 57h1.06M1 58h1.06M21 58h1.06M23 58h1.06M2 59h1.06M19 59h1.06M0 60h1.06M11 60h1.06M14 60h1.06M12 61h1.06M4 62h1.06M9 62h1.06M7 63h1.06M14 63h1.06M19 63h1.06M9 65h1.06M23 65h1.06M5 66h1.06M24 67h1.06M2 68h1.06M5 68h1.06M22 69h1.06M8 70h1.06M22 70h2.06M4 71h1.06M23 71h1.06M25 71h1.06M1 72h1.06M1 74h1.06M6 74h1.06M8 74h1.06M0 75h1.06M2 75h1.06M25 75h1.06M5 76h2.06M8 76h3.06M4 77h1.06M21 77h1.06M25 77h1.06M18 78h2.06M2 79h1.06M22 79h1.06"/>
<path stroke="#fff700" d="M10 0h2.06M3 1h1.06M5 1h1.06M17 1h1.06M7 4h2.06M12 4h1.06M21 4h1.06M7 5h1.06M13 5h1.06M18 5h1.06M7 6h2.06M21 6h1.06M7 8h1.06M13 8h1.06M4 9h1.06M19 9h1.06M15 10h1.06M18 10h1.06M11 11h1.06M25 11h1.06M4 12h1.06M4 13h1.06M8 13h1.06M21 13h1.06M9 14h1.06M11 14h1.06M15 14h1.06M0 15h1.06M12 15h1.06M21 15h1.06M25 15h1.06M4 16h1.06M20 16h1.06M1 17h1.06M18 17h1.06M24 17h1.06M1 19h1.06M21 19h1.06M24 19h1.06M19 20h1.06M0 21h1.06M18 21h1.06M20 23h1.06M0 24h1.06M3 25h1.06M11 25h1.06M13 25h1.06M18 25h1.06M20 26h1.06M22 26h1.06M1 28h2.06M24 28h1.06M2 29h2.06M23 29h1.06M25 29h1.06M24 30h2.06M24 31h1.06M11 32h1.06M14 32h1.06M20 34h1.06M25 34h1.06M11 35h1.06M16 35h1.06M0 37h1.06M6 37h1.06M22 38h1.06M2 39h1.06M11 40h1.06M14 40h1.06M15 41h1.06M16 42h1.06M19 42h1.06M17 43h1.06M11 44h2.06M19 44h1.06M22 44h1.06M18 48h1.06M8 49h1.06M10 49h1.06M18 50h1.06M17 51h2.06M22 51h1.06M6 52h1.06M8 52h1.06M14 53h1.06M18 53h1.06M3 54h1.06M23 55h1.06M0 56h1.06M12 57h1.06M5 58h1.06M14 58h1.06M4 59h1.06M7 60h2.06M15 60h1.06M18 60h1.06M6 61h1.06M15 62h1.06M19 62h1.06M23 63h1.06M15 66h2.06M16 68h2.06M7 69h1.06M10 69h1.06M21 71h1.06M24 71h1.06M11 73h1.06M2 74h1.06M1 75h1.06M16 75h1.06M24 75h1.06M16 78h1.06M22 78h1.06M4 79h1.06M24 79h1.06"/>
<path stroke="#ffe700" d="M17 0h1.06M24 2h1.06M6 3h2.06M11 5h1.06M1 6h1.06M19 6h1.06M6 7h1.06M10 7h1.06M19 7h1.06M11 8h1.06M3 9h1.06M0 13h1.06M3 13h1.06M12 14h1.06M6 15h1.06M13 15h1.06M0 16h1.06M7 17h1.06M7 20h1.06M20 20h1.06M20 21h1.06M16 23h1.06M12 25h1.06M19 25h1.06M21 25h1.06M13 26h1.06M18 26h1.06M10 27h1.06M18 27h1.06M20 27h1.06M22 27h1.06M2 30h1.06M23 31h1.06M15 32h1.06M13 33h1.06M13 34h1.06M19 34h1.06M22 37h1.06M19 38h2.06M12 40h1.06M21 40h1.06M5 42h1.06M19 43h1.06M21 45h1.06M21 47h1.06M3 49h1.06M9 49h1.06M3 50h1.06M1 51h1.06M7 52h1.06M6 54h1.06M9 57h1.06M11 57h1.06M25 58h1.06M7 61h1.06M18 61h1.06M21 61h2.06M6 62h1.06M10 62h1.06M22 63h1.06M3 64h2.06M19 65h1.06M0 66h2.06M6 69h1.06M24 69h1.06M25 70h1.06M19 71h1.06M8 73h1.06M10 73h1.06M11 74h1.06M20 74h1.06M17 75h1.06M22 75h1.06M11 76h1.06M0 78h1.06M5 79h1.06M14 79h1.06M23 79h1.06"/>
<path stroke="#ffd700" d="M25 2h1.06M22 7h1.06M1 8h1.06M9 8h2.06M15 9h1.06M17 10h1.06M1 13h1.06M22 13h1.06M2 17h1.06M25 17h1.06M0 19h1.06M14 24h1.06M13 27h1.06M22 28h1.06M25 28h1.06M0 30h1.06M23 30h1.06M14 31h1.06M18 32h1.06M23 32h1.06M23 34h1.06M15 35h1.06M22 40h1.06M21 42h2.06M0 44h1.06M20 45h1.06M13 48h1.06M2 51h1.06M11 54h1.06M10 57h1.06M3 59h1.06M21 59h1.06M5 62h1.06M0 68h2.06M15 74h2.06M19 74h1.06M17 78h1.06M13 79h1.06"/>
<path stroke="#ffc700" d="M4 1h1.06M8 5h1.06M12 5h1.06M0 6h1.06M20 6h1.06M8 8h1.06M10 9h1.06M3 17h1.06M6 17h1.06M4 18h1.06M13 19h2.06M21 21h2.06M15 24h2.06M22 29h1.06M1 30h1.06M10 31h1.06M16 33h1.06M20 42h1.06M18 43h1.06M14 48h1.06M13 50h2.06M7 53h1.06M7 65h2.06M9 73h1.06"/>
<path stroke="#ffb700" d="M9 5h1.06M11 9h1.06M11 26h1.06M11 27h1.06M17 27h1.06M9 28h1.06M18 28h1.06M9 29h2.06M9 30h2.06M22 30h1.06M22 31h1.06M20 32h1.06M23 33h1.06M17 61h1.06M23 69h1.06M20 71h1.06"/>
<path stroke="#ffa700" d="M17 26h1.06M21 26h1.06M12 27h1.06M10 28h2.06M17 28h1.06M19 32h1.06M22 32h1.06M11 33h1.06M21 33h1.06M12 34h1.06M22 34h1.06M20 59h1.06"/>
<path stroke="#ff9700" d="M17 25h1.06M21 27h1.06M20 28h2.06M11 30h1.06M11 31h1.06M13 31h1.06M18 31h3.06M13 32h1.06M12 33h1.06M22 33h1.06M11 34h1.06"/>
<path stroke="#ff8700" d="M14 25h2.06M12 26h1.06M14 26h1.06M16 26h1.06M19 26h1.06M14 27h1.06M16 27h1.06M19 27h1.06M16 28h1.06M19 28h1.06M18 29h1.06M12 31h1.06M15 31h1.06M21 31h1.06M12 32h1.06M21 32h1.06"/>
<path stroke="#ff7800" d="M16 25h1.06M15 27h1.06M12 28h2.06M15 28h1.06M11 29h1.06M18 30h1.06"/>
<path stroke="#ff6800" d="M15 26h1.06M14 28h1.06M12 29h1.06M16 29h1.06M19 29h3.06M15 30h1.06M17 30h1.06M19 30h2.06"/>
<path stroke="#ff5800" d="M15 29h1.06M17 29h1.06M12 30h1.06M16 30h1.06M21 30h1.06"/>
<path stroke="#ff4800" d="M14 29h1.06"/>
<path stroke="#ff3800" d="M13 30h2.06"/>
<path stroke="#ff2800" d="M13 29h1.06"/>
</g></g></g>
<!-- panel 5 -->
<clipPath id="cp5"><rect x="599.00" y="329.50" width="200.00" height="182.00"/></clipPath>
<g clip-path="url(#cp5)">
<rect x="598.00" y="328.50" width="202.00" height="184.00" fill="#c4f03b"/>
<g filter="url(#bl)">
<g transform="translate(595.000 330.637) scale(8.0000 2.2750)" stroke-width="1.12" fill="none">
<path stroke="#0000d7" d="M15 52h1.06"/>
<path stroke="#0008ff" d="M0 20h1.06"/>
<path stroke="#0018ff" d="M5 17h1.06"/>
<path stroke="#0038ff" d="M2 79h1.06"/>
<path stroke="#0058ff" d="M16 52h1.06"/>
<path stroke="#0068ff" d="M5 12h1.06"/>
<path stroke="#0078ff" d="M9 62h1.06M16 71h1.06"/>
<path stroke="#0087ff" d="M25 21h1.06M1 26h1.06M3 36h1.06M19 38h1.06M11 46h1.06M17 48h1.06M1 65h1.06M5 67h1.06"/>
<path stroke="#0097ff" d="M19 3h1.06M3 7h1.06M24 26h1.06M17 42h1.06M14 56h1.06M24 56h1.06M5 76h1.06"/>
<path stroke="#00a7ff" d="M10 36h1.06M4 48h1.06"/>
<path stroke="#00b7ff" d="M22 61h1.06"/>
<path stroke="#00c7ff" d="M23 5h1.06M2 48h1.06"/>
<path stroke="#08fff7" d="M0 0h1.06M24 1h1.06M19 44h1.06M5 50h1.06"/>
<path stroke="#18ffe7" d="M1 2h1.06M4 8h1.06M11 8h1.06M15 8h1.06M14 13h1.06M22 13h1.06M22 16h1.06M4 19h1.06M15 19h1.06M2 20h1.06M21 21h1.06M24 32h1.06M4 35h1.06M10 39h1.06M6 41h2.06M21 41h1.06M23 41h1.06M8 47h1.06M12 47h1.06M23 48h1.06M0 49h1.06M22 49h1.06M2 51h1.06M19 53h1.06M15 55h1.06M19 55h1.06M21 55h1.06M21 56h1.06M23 58h1.06M9 60h1.06M14 60h1.06M22 60h2.06M6 64h1.06M5 69h1.06M12 71h1.06M17 71h1.06M12 72h1.06M21 73h1.06"/>
<path stroke="#28ffd7" d="M5 1h1.06M7 2h1.06M12 5h1.06M22 7h1.06M5 18h1.06M24 21h1.06M10 24h1.06M19 25h1.06M22 34h1.06M0 42h1.06M4 44h1.06M19 46h1.06M25 47h1.06M23 56h1.06M25 61h1.06M17 66h1.06M23 73h1.06M5 77h1.06M19 77h1.06M2 78h1.06"/>
<path stroke="#38ffc7" d="M6 2h1.06M20 2h1.06M20 3h1.06M4 5h1.06M16 5h1.06M7 6h1.06M16 6h1.06M2 7h1.06M20 21h1.06M21 22h1.06M3 26h1.06M0 33h1.06M13 38h1.06M25 38h1.06M18 39h1.06M13 41h1.06M5 42h1.06M11 48h1.06M7 49h1.06M23 53h1.06M2 67h1.06M7 67h1.06M16 67h1.06M1 77h1.06M7 78h1.06M9 78h1.06M9 79h1.06"/>
<path stroke="#48ffb7" d="M0 1h1.06M18 4h1.06M22 4h1.06M12 7h1.06M25 11h1.06M25 12h1.06M16 13h1.06M25 16h1.06M3 19h1.06M10 19h1.06M16 19h1.06M1 21h1.06M19 23h1.06M3 24h1.06M21 24h1.06M5 25h1.06M6 26h1.06M2 35h1.06M16 39h1.06M22 41h1.06M25 41h1.06M22 42h1.06M14 49h1.06M19 49h1.06M6 51h1.06M4 55h1.06M18 55h1.06M19 57h1.06M25 58h1.06M24 61h1.06M3 62h1.06M14 63h1.06M6 69h1.06M9 69h1.06M11 71h1.06M16 74h1.06M21 74h2.06M7 76h1.06M10 76h1.06M25 76h1.06"/>
<path stroke="#58ffa7" d="M12 0h1.06M22 1h1.06M3 3h1.06M6 3h1.06M7 7h1.06M13 8h1.06M0 9h1.06M9 11h1.06M22 12h1.06M19 16h1.06M3 17h1.06M8 17h1.06M25 20h1.06M7 32h1.06M23 32h1.06M23 34h1.06M5 36h1.06M11 40h1.06M9 44h1.06M10 45h1.06M6 46h1.06M22 48h1.06M3 49h1.06M23 49h1.06M11 58h1.06M14 59h1.06M4 60h1.06M7 64h1.06M9 64h1.06M14 67h1.06M4 69h1.06M6 70h1.06M18 71h1.06M2 72h1.06M16 72h1.06M18 72h1.06M18 73h1.06M2 74h1.06M24 74h1.06M6 76h1.06M21 76h1.06M4 77h1.06M11 77h1.06"/>
<path stroke="#68ff97" d="M5 2h1.06M13 3h1.06M7 5h1.06M24 5h1.06M15 7h1.06M10 11h1.06M15 13h1.06M0 14h1.06M3 14h1.06M14 15h1.06M24 16h1.06M13 17h1.06M25 17h1.06M16 21h1.06M7 23h1.06M17 32h1.06M2 33h1.06M24 34h1.06M17 39h1.06M3 40h1.06M16 40h1.06M4 42h1.06M9 42h1.06M16 42h1.06M15 44h1.06M12 46h1.06M7 47h1.06M22 47h1.06M24 47h1.06M15 49h1.06M4 50h1.06M22 50h1.06M1 55h1.06M20 55h1.06M10 59h1.06M1 61h1.06M17 61h1.06M25 62h1.06M4 63h2.06M10 63h1.06M24 63h1.06M1 64h1.06M8 64h1.06M20 65h1.06M15 67h1.06M13 68h1.06M1 69h1.06M2 70h1.06M13 71h1.06M19 71h1.06M1 72h1.06M23 74h1.06M1 76h1.06M10 77h1.06M20 77h1.06M14 78h1.06M19 78h1.06M21 78h1.06"/>
<path stroke="#78ff87" d="M10 0h1.06M16 1h1.06M3 2h2.06M17 2h1.06M21 2h3.06M14 3h3.06M6 4h1.06M15 4h1.06M10 5h1.06M10 6h1.06M17 6h1.06M23 7h1.06M20 8h1.06M10 9h1.06M12 10h1.06M17 10h2.06M2 12h1.06M7 14h1.06M1 15h2.06M13 15h1.06M10 16h1.06M16 16h1.06M2 18h1.06M4 18h1.06M7 20h1.06M9 20h1.06M18 20h1.06M4 22h1.06M20 22h1.06M22 22h2.06M9 23h1.06M9 24h1.06M17 24h1.06M15 25h1.06M0 28h1.06M9 33h1.06M24 33h1.06M10 34h1.06M1 35h1.06M11 35h1.06M2 36h1.06M3 38h1.06M7 38h1.06M15 40h1.06M23 40h1.06M1 41h1.06M4 41h1.06M12 41h1.06M3 43h1.06M13 45h2.06M18 46h1.06M6 47h1.06M14 47h1.06M16 48h1.06M20 48h1.06M8 49h2.06M24 49h1.06M10 50h1.06M16 50h1.06M11 52h1.06M9 53h1.06M13 54h1.06M19 54h1.06M4 56h2.06M16 56h1.06M13 57h1.06M3 58h1.06M21 58h1.06M20 59h1.06M3 60h1.06M7 60h1.06M10 60h1.06M9 61h1.06M16 61h1.06M6 63h2.06M11 63h2.06M2 64h1.06M4 66h1.06M3 67h1.06M10 67h1.06M13 67h1.06M20 68h1.06M10 69h1.06M23 71h1.06M0 72h1.06M15 72h1.06M19 72h1.06M1 74h1.06M3 74h1.06M13 74h1.06M2 75h1.06M2 77h1.06M12 77h1.06M3 78h1.06M22 78h2.06M21 79h2.06M24 79h1.06"/>
<path stroke="#87ff78" d="M11 0h1.06M11 1h1.06M20 1h1.06M0 2h1.06M18 2h2.06M8 3h1.06M17 3h1.06M14 4h1.06M17 4h1.06M25 4h1.06M11 5h1.06M22 6h1.06M24 6h1.06M16 7h1.06M18 7h2.06M14 8h1.06M23 8h1.06M13 9h1.06M21 9h2.06M24 9h1.06M3 10h1.06M11 10h1.06M3 11h1.06M1 12h1.06M9 12h1.06M21 12h1.06M24 13h2.06M7 15h1.06M9 15h1.06M21 16h1.06M17 17h1.06M3 18h1.06M19 18h1.06M9 19h1.06M5 20h1.06M22 20h1.06M1 22h1.06M3 22h1.06M5 22h1.06M19 22h1.06M24 22h1.06M8 23h1.06M0 24h1.06M16 24h1.06M24 24h1.06M16 25h1.06M2 26h1.06M15 26h1.06M23 26h1.06M0 27h1.06M22 30h1.06M2 32h1.06M20 32h1.06M25 32h1.06M0 34h1.06M19 35h1.06M19 36h1.06M23 37h1.06M6 39h1.06M25 39h1.06M0 41h1.06M2 41h2.06M8 42h1.06M4 45h1.06M9 45h1.06M13 47h1.06M21 47h1.06M23 47h1.06M12 48h1.06M24 48h1.06M3 50h1.06M9 50h1.06M3 51h1.06M19 51h1.06M6 53h1.06M18 53h1.06M8 54h1.06M16 54h1.06M18 54h1.06M25 54h1.06M6 56h1.06M12 57h1.06M14 57h2.06M25 57h1.06M4 58h1.06M22 58h1.06M24 58h1.06M3 59h1.06M8 60h1.06M0 62h1.06M8 62h1.06M3 63h1.06M13 63h1.06M21 64h1.06M9 65h1.06M13 65h1.06M3 66h1.06M12 67h1.06M5 68h2.06M0 69h1.06M3 69h1.06M19 69h1.06M1 70h1.06M19 70h1.06M6 71h1.06M25 71h1.06M17 72h1.06M20 72h1.06M22 72h2.06M22 73h1.06M4 74h1.06M3 77h1.06M7 77h2.06M23 77h2.06M8 78h1.06M25 78h1.06"/>
<path stroke="#97ff68" d="M1 0h2.06M7 0h3.06M16 0h1.06M1 1h1.06M8 1h2.06M17 1h2.06M2 5h1.06M15 6h1.06M18 6h1.06M11 7h1.06M17 7h1.06M6 9h1.06M0 10h1.06M19 10h1.06M24 11h1.06M12 12h1.06M5 13h1.06M17 13h1.06M2 14h1.06M23 14h1.06M4 15h1.06M5 16h1.06M7 16h1.06M9 16h1.06M11 16h1.06M6 18h1.06M10 18h1.06M22 18h1.06M7 19h2.06M6 20h1.06M0 21h1.06M8 21h1.06M11 21h1.06M0 23h1.06M6 23h1.06M13 23h1.06M16 23h1.06M23 23h1.06M22 24h1.06M11 25h1.06M21 25h1.06M0 26h1.06M4 26h1.06M5 27h1.06M21 29h1.06M24 29h1.06M24 30h1.06M5 31h1.06M22 31h1.06M1 32h1.06M10 32h1.06M16 32h1.06M16 33h1.06M1 34h1.06M17 34h1.06M7 35h1.06M20 35h1.06M12 37h1.06M18 37h1.06M22 37h1.06M2 38h1.06M10 38h1.06M19 39h1.06M2 40h1.06M14 40h1.06M5 41h1.06M9 41h1.06M14 41h1.06M6 42h1.06M1 43h2.06M18 44h1.06M2 45h1.06M15 45h1.06M21 45h1.06M14 48h1.06M16 49h1.06M8 50h1.06M13 51h2.06M22 51h1.06M4 52h1.06M5 53h1.06M8 53h1.06M10 53h1.06M22 53h1.06M0 54h1.06M4 54h1.06M6 54h1.06M9 54h1.06M11 54h1.06M14 54h2.06M20 54h2.06M13 55h1.06M7 56h1.06M10 56h1.06M13 56h1.06M20 58h1.06M1 59h1.06M15 59h1.06M24 59h1.06M15 61h1.06M18 62h1.06M21 62h1.06M1 63h1.06M9 63h1.06M10 64h1.06M18 64h3.06M23 65h1.06M0 68h1.06M2 68h1.06M12 69h1.06M17 69h1.06M20 69h1.06M0 71h1.06M7 71h1.06M22 71h1.06M24 71h1.06M10 72h1.06M17 73h1.06M8 75h1.06M13 75h1.06M17 76h1.06M6 77h1.06M4 79h1.06M11 79h1.06M15 79h1.06"/>
<path stroke="#a7ff58" d="M15 0h1.06M24 0h1.06M21 1h1.06M12 2h1.06M9 3h1.06M12 3h1.06M23 4h2.06M8 5h1.06M25 5h1.06M5 6h1.06M4 7h1.06M24 7h1.06M3 8h1.06M9 8h2.06M12 8h1.06M24 8h2.06M5 9h1.06M14 9h1.06M23 9h1.06M5 10h2.06M13 10h1.06M0 11h1.06M12 11h2.06M21 11h1.06M0 13h1.06M3 13h1.06M8 13h2.06M23 13h1.06M9 14h1.06M20 14h1.06M25 14h1.06M5 15h1.06M18 15h1.06M21 15h1.06M4 16h1.06M6 16h1.06M8 16h1.06M23 16h1.06M16 17h1.06M18 17h1.06M9 18h1.06M17 18h1.06M20 19h1.06M1 20h1.06M4 20h1.06M8 20h1.06M23 20h1.06M4 21h1.06M7 21h1.06M22 21h1.06M0 22h1.06M2 22h1.06M7 22h1.06M15 22h1.06M1 23h1.06M5 23h1.06M18 23h1.06M4 24h1.06M11 24h1.06M15 24h1.06M2 25h2.06M23 28h1.06M0 29h1.06M1 30h1.06M25 30h1.06M25 31h1.06M3 33h1.06M25 33h1.06M7 34h1.06M13 34h1.06M8 35h1.06M10 35h1.06M1 36h1.06M7 36h1.06M20 36h1.06M10 37h1.06M13 37h2.06M9 38h1.06M14 38h1.06M18 38h1.06M23 38h1.06M12 39h1.06M15 39h1.06M18 40h1.06M20 40h1.06M12 42h1.06M21 42h1.06M9 43h2.06M15 43h1.06M23 43h1.06M11 44h1.06M14 44h1.06M6 45h1.06M9 46h1.06M20 46h2.06M13 48h1.06M19 48h1.06M1 49h1.06M21 49h1.06M15 51h1.06M23 51h1.06M7 53h1.06M15 53h1.06M5 54h1.06M24 54h1.06M5 55h1.06M12 55h1.06M17 55h1.06M25 55h1.06M11 56h2.06M19 56h1.06M18 57h1.06M20 57h1.06M22 57h1.06M24 57h1.06M2 58h1.06M7 58h1.06M19 58h1.06M13 60h1.06M15 60h1.06M17 60h2.06M25 60h1.06M19 62h1.06M0 63h1.06M0 64h1.06M16 64h1.06M12 66h1.06M25 66h1.06M7 69h1.06M11 69h1.06M18 69h1.06M25 69h1.06M0 70h1.06M7 70h1.06M18 70h1.06M2 71h1.06M5 71h1.06M21 71h1.06M11 72h1.06M21 72h1.06M4 73h1.06M12 74h1.06M7 75h1.06M11 75h1.06M21 75h1.06M24 75h1.06M3 76h1.06M8 76h1.06M9 77h1.06M13 77h1.06M25 77h1.06M4 78h1.06M7 79h1.06M25 79h1.06"/>
<path stroke="#b7ff48" d="M25 0h1.06M13 1h1.06M15 1h1.06M8 2h1.06M14 2h2.06M7 3h1.06M5 4h1.06M7 4h1.06M16 4h1.06M9 5h1.06M13 6h2.06M2 8h1.06M5 8h1.06M8 8h1.06M19 8h1.06M22 8h1.06M17 9h1.06M20 9h1.06M25 9h1.06M2 10h1.06M14 10h1.06M2 11h1.06M8 11h1.06M11 11h1.06M22 11h2.06M10 12h2.06M24 12h1.06M1 13h1.06M13 13h1.06M1 14h1.06M4 14h1.06M8 14h1.06M16 14h1.06M0 15h1.06M12 15h1.06M17 15h1.06M24 15h1.06M0 18h1.06M11 18h1.06M13 18h1.06M18 18h1.06M21 18h1.06M2 19h1.06M19 19h1.06M3 20h1.06M15 20h1.06M17 21h1.06M6 22h1.06M4 23h1.06M5 24h2.06M23 24h1.06M4 25h1.06M8 25h2.06M5 26h1.06M18 26h1.06M25 26h1.06M3 27h1.06M6 27h1.06M1 28h1.06M1 29h2.06M21 30h1.06M21 31h1.06M24 31h1.06M3 32h1.06M21 32h1.06M1 33h1.06M10 33h1.06M17 33h1.06M23 33h1.06M14 34h1.06M21 34h1.06M3 35h1.06M25 35h1.06M4 36h1.06M14 36h1.06M0 37h1.06M7 37h1.06M24 37h1.06M12 38h1.06M9 39h1.06M11 39h1.06M13 39h1.06M10 40h1.06M8 41h1.06M10 41h2.06M24 41h1.06M3 42h1.06M7 42h1.06M11 42h1.06M19 42h2.06M4 43h1.06M8 43h1.06M12 43h1.06M22 43h1.06M25 43h1.06M3 44h1.06M12 44h1.06M1 45h1.06M11 45h1.06M20 45h1.06M22 45h1.06M25 45h1.06M5 46h1.06M8 46h1.06M13 46h2.06M24 46h2.06M17 47h1.06M20 47h1.06M8 48h3.06M15 48h1.06M4 49h1.06M25 49h1.06M2 50h1.06M4 51h1.06M7 51h2.06M18 51h1.06M24 51h1.06M2 52h2.06M20 52h1.06M20 53h2.06M24 53h1.06M7 54h1.06M12 54h1.06M17 54h1.06M22 54h1.06M0 55h1.06M16 55h1.06M8 56h1.06M20 56h1.06M5 57h1.06M16 57h1.06M21 57h1.06M12 58h2.06M12 59h1.06M16 59h2.06M16 60h1.06M21 60h1.06M18 61h1.06M20 61h1.06M2 62h1.06M4 62h1.06M24 62h1.06M2 63h1.06M8 63h1.06M15 63h1.06M19 63h2.06M5 64h1.06M13 64h1.06M3 65h1.06M8 65h1.06M13 66h1.06M20 66h1.06M19 67h2.06M1 68h1.06M8 68h1.06M16 68h1.06M22 69h1.06M13 70h2.06M25 70h1.06M3 71h1.06M13 72h1.06M11 73h1.06M14 73h1.06M24 73h1.06M17 75h1.06M25 75h1.06M14 76h3.06M18 76h1.06M0 77h1.06M18 77h1.06M5 78h1.06M20 78h1.06M1 79h1.06M3 79h1.06M5 79h1.06M19 79h2.06M23 79h1.06"/>
<path stroke="#c7ff38" d="M5 0h1.06M23 0h1.06M2 1h1.06M12 1h1.06M19 1h1.06M16 2h1.06M24 2h1.06M0 3h1.06M5 3h1.06M2 4h2.06M21 4h1.06M3 5h1.06M22 5h1.06M3 6h2.06M6 6h1.06M11 6h1.06M1 7h1.06M21 7h1.06M1 8h1.06M16 8h1.06M21 8h1.06M7 9h3.06M19 9h1.06M4 10h1.06M8 10h1.06M15 10h2.06M16 11h1.06M19 11h1.06M13 12h1.06M15 12h1.06M23 12h1.06M20 13h1.06M6 14h1.06M11 14h1.06M13 14h1.06M15 14h1.06M19 14h1.06M21 14h2.06M8 15h1.06M25 15h1.06M20 16h1.06M0 17h1.06M4 17h1.06M9 17h1.06M19 17h1.06M21 17h1.06M11 19h1.06M18 19h1.06M25 19h1.06M13 20h2.06M24 20h1.06M10 21h1.06M18 21h2.06M23 21h1.06M8 22h1.06M10 22h1.06M12 23h1.06M20 23h1.06M24 23h1.06M8 24h1.06M18 24h1.06M1 25h1.06M6 25h1.06M22 25h1.06M21 26h1.06M1 27h1.06M22 27h4.06M23 29h1.06M25 29h1.06M23 30h1.06M23 31h1.06M6 32h1.06M9 32h1.06M18 32h1.06M4 33h2.06M11 33h1.06M3 34h2.06M6 34h1.06M11 34h1.06M18 34h3.06M9 35h1.06M6 36h1.06M9 36h1.06M11 36h3.06M15 36h1.06M18 36h1.06M23 36h1.06M4 37h1.06M8 37h1.06M11 37h1.06M15 37h1.06M19 37h1.06M25 37h1.06M1 38h1.06M4 38h1.06M22 39h1.06M24 39h1.06M0 40h1.06M12 40h2.06M17 40h1.06M1 42h2.06M25 42h1.06M11 43h1.06M14 43h1.06M19 43h1.06M24 43h1.06M23 44h1.06M0 45h1.06M5 45h1.06M12 45h1.06M23 45h1.06M0 46h1.06M3 46h2.06M7 46h1.06M10 46h1.06M15 46h1.06M22 46h2.06M9 47h1.06M15 47h1.06M18 47h1.06M5 48h1.06M21 48h1.06M13 49h1.06M20 49h1.06M6 50h2.06M13 50h1.06M15 50h1.06M9 51h1.06M17 51h1.06M25 51h1.06M7 52h1.06M9 52h1.06M22 52h1.06M4 53h1.06M3 54h1.06M10 54h1.06M8 55h1.06M14 55h1.06M2 56h1.06M9 56h1.06M22 56h1.06M3 57h1.06M5 58h1.06M14 58h1.06M0 59h1.06M2 59h1.06M13 59h1.06M11 60h2.06M19 60h1.06M24 60h1.06M4 61h1.06M23 61h1.06M1 62h1.06M7 62h1.06M21 63h1.06M25 63h1.06M17 64h1.06M10 65h1.06M19 65h1.06M2 66h1.06M5 66h2.06M0 67h1.06M6 67h1.06M17 67h1.06M10 68h1.06M12 68h1.06M14 68h2.06M17 68h1.06M2 69h1.06M8 69h1.06M16 69h1.06M21 69h1.06M5 70h1.06M12 70h1.06M15 70h1.06M10 71h1.06M14 72h1.06M3 73h1.06M5 73h2.06M10 73h1.06M12 73h2.06M16 73h1.06M19 73h1.06M5 74h1.06M7 74h1.06M20 74h1.06M25 74h1.06M6 75h1.06M16 75h1.06M4 76h1.06M9 76h1.06M20 76h1.06M16 77h2.06M6 78h1.06M10 78h1.06M0 79h1.06M6 79h1.06M8 79h1.06M10 79h1.06M16 79h1.06"/>
<path stroke="#d7ff28" d="M3 0h2.06M17 0h1.06M19 0h1.06M23 1h1.06M2 2h1.06M11 2h1.06M11 4h1.06M19 4h1.06M0 5h2.06M6 5h1.06M13 5h1.06M21 5h1.06M0 6h1.06M8 6h1.06M23 6h1.06M25 6h1.06M5 7h2.06M8 7h1.06M13 7h1.06M20 7h1.06M6 8h2.06M11 9h2.06M18 9h1.06M1 10h1.06M7 10h1.06M9 10h1.06M1 11h1.06M18 11h1.06M3 12h1.06M2 13h1.06M10 13h1.06M19 13h1.06M14 14h1.06M3 15h1.06M6 15h1.06M15 15h2.06M19 15h1.06M22 15h2.06M0 16h1.06M3 16h1.06M15 16h1.06M17 16h1.06M14 17h1.06M20 17h1.06M24 17h1.06M1 18h1.06M12 18h1.06M14 18h1.06M16 18h1.06M20 18h1.06M1 19h1.06M5 19h1.06M14 19h1.06M21 19h1.06M16 20h1.06M19 20h1.06M9 21h1.06M15 21h1.06M18 22h1.06M14 24h1.06M25 24h1.06M0 25h1.06M20 25h1.06M11 26h1.06M17 26h1.06M22 26h1.06M2 27h1.06M22 28h1.06M3 30h1.06M0 31h1.06M5 32h1.06M19 32h1.06M22 32h1.06M8 33h1.06M18 33h1.06M5 34h1.06M8 34h2.06M0 35h1.06M12 35h1.06M0 36h1.06M3 37h1.06M17 37h1.06M8 38h1.06M17 38h1.06M20 38h1.06M24 38h1.06M7 39h1.06M23 39h1.06M8 40h2.06M24 40h1.06M10 42h1.06M18 42h1.06M23 42h1.06M0 43h1.06M16 43h1.06M0 44h1.06M8 44h1.06M16 44h2.06M20 44h2.06M3 45h1.06M16 45h1.06M24 45h1.06M16 47h1.06M25 48h1.06M2 49h1.06M17 50h1.06M21 50h1.06M23 50h1.06M25 50h1.06M1 51h1.06M10 51h1.06M12 51h1.06M16 51h1.06M1 52h1.06M8 52h1.06M17 52h1.06M0 53h1.06M14 53h1.06M23 54h1.06M6 55h1.06M3 56h1.06M1 57h1.06M4 57h1.06M11 57h1.06M17 57h1.06M6 58h1.06M10 58h1.06M15 58h1.06M4 59h1.06M6 59h2.06M9 59h1.06M11 59h1.06M19 59h1.06M21 59h1.06M0 60h1.06M2 60h1.06M6 62h1.06M11 62h2.06M14 62h1.06M20 62h1.06M22 64h1.06M25 64h1.06M14 65h1.06M25 65h1.06M11 66h1.06M1 67h1.06M4 67h1.06M9 67h1.06M11 67h1.06M24 67h1.06M11 68h1.06M18 68h2.06M8 71h1.06M14 71h1.06M9 72h1.06M2 73h1.06M9 73h1.06M20 73h1.06M25 73h1.06M0 74h1.06M8 74h1.06M14 74h1.06M3 75h1.06M10 75h1.06M15 75h1.06M22 75h1.06M0 76h1.06M2 76h1.06M11 76h1.06M19 76h1.06M22 76h1.06M13 78h1.06M24 78h1.06M14 79h1.06"/>
<path stroke="#e7ff18" d="M6 0h1.06M13 0h2.06M20 0h1.06M25 1h1.06M13 2h1.06M2 3h1.06M4 3h1.06M11 3h1.06M18 3h1.06M1 4h1.06M4 4h1.06M9 4h2.06M5 5h1.06M17 5h1.06M9 6h1.06M19 6h1.06M14 7h1.06M25 7h1.06M1 9h1.06M10 10h1.06M20 10h1.06M24 10h2.06M4 11h2.06M14 11h1.06M4 12h1.06M14 12h1.06M16 12h1.06M4 13h1.06M21 13h1.06M24 14h1.06M20 15h1.06M12 16h1.06M10 17h1.06M15 17h1.06M23 18h1.06M17 19h1.06M11 20h1.06M17 20h1.06M21 20h1.06M2 21h1.06M6 21h1.06M11 22h1.06M17 22h1.06M25 22h1.06M3 23h1.06M14 23h1.06M2 24h1.06M7 24h1.06M10 25h1.06M23 25h1.06M7 26h1.06M17 27h1.06M3 29h1.06M0 30h1.06M5 30h1.06M1 31h1.06M8 32h1.06M22 33h1.06M2 34h1.06M12 34h1.06M6 35h1.06M21 35h1.06M22 36h1.06M5 37h1.06M9 37h1.06M6 38h1.06M2 39h1.06M4 40h1.06M19 40h1.06M21 40h2.06M7 43h1.06M18 43h1.06M2 44h1.06M7 44h1.06M10 44h1.06M13 44h1.06M22 44h1.06M24 44h1.06M1 46h1.06M0 47h1.06M11 47h1.06M1 48h1.06M3 48h1.06M18 48h1.06M12 49h1.06M1 50h1.06M18 50h1.06M24 50h1.06M5 51h1.06M10 52h1.06M12 52h1.06M14 52h1.06M23 52h1.06M11 53h1.06M25 53h1.06M7 55h1.06M9 55h1.06M22 55h1.06M24 55h1.06M18 56h1.06M25 56h1.06M2 57h1.06M6 57h1.06M10 57h1.06M8 59h1.06M22 59h1.06M5 60h2.06M20 60h1.06M0 61h1.06M19 61h1.06M13 62h1.06M17 62h1.06M22 62h1.06M3 64h1.06M14 64h2.06M23 64h2.06M24 65h1.06M7 66h1.06M19 66h1.06M24 66h1.06M8 67h1.06M9 68h1.06M21 68h1.06M15 69h1.06M23 69h1.06M4 70h1.06M20 70h1.06M4 71h1.06M15 71h1.06M20 71h1.06M3 72h3.06M24 72h1.06M15 73h1.06M15 74h1.06M1 75h1.06M12 75h1.06M18 75h1.06M20 75h1.06M14 77h1.06M21 77h2.06M0 78h2.06M12 79h1.06M18 79h1.06"/>
<path stroke="#f7ff08" d="M18 0h1.06M3 1h2.06M6 1h1.06M10 1h1.06M21 3h1.06M8 4h1.06M12 4h1.06M20 4h1.06M12 6h1.06M21 6h1.06M0 8h1.06M18 8h1.06M4 9h1.06M15 9h1.06M6 11h1.06M15 11h1.06M20 11h1.06M0 12h1.06M17 12h1.06M20 12h1.06M11 13h1.06M18 13h1.06M5 14h1.06M12 14h1.06M17 14h2.06M13 16h2.06M2 17h1.06M12 17h1.06M22 17h1.06M0 19h1.06M12 19h1.06M10 20h1.06M20 20h1.06M16 22h1.06M2 23h1.06M10 23h1.06M15 23h1.06M17 23h1.06M25 23h1.06M24 25h1.06M20 26h1.06M4 27h1.06M20 27h1.06M24 28h1.06M22 29h1.06M2 31h1.06M0 32h1.06M25 34h1.06M5 35h1.06M15 35h2.06M18 35h1.06M8 36h1.06M16 36h1.06M21 36h1.06M16 37h1.06M0 38h1.06M11 38h1.06M5 39h1.06M1 40h1.06M5 40h3.06M15 41h1.06M18 41h1.06M15 42h1.06M24 42h1.06M13 43h1.06M20 43h2.06M1 44h1.06M19 45h1.06M17 46h1.06M3 47h1.06M0 48h1.06M5 49h2.06M11 50h2.06M0 51h1.06M11 51h1.06M5 52h1.06M13 52h1.06M1 53h1.06M3 53h1.06M12 53h1.06M16 53h2.06M1 54h1.06M2 55h1.06M15 56h1.06M17 56h1.06M18 58h1.06M18 59h1.06M23 59h1.06M5 61h2.06M8 61h1.06M14 61h1.06M21 61h1.06M5 62h1.06M10 62h1.06M23 62h1.06M16 63h1.06M23 63h1.06M11 64h2.06M0 65h1.06M2 65h1.06M21 65h1.06M8 66h3.06M14 66h3.06M21 66h2.06M18 67h1.06M7 68h1.06M25 68h1.06M13 69h2.06M24 69h1.06M3 70h1.06M8 70h1.06M11 70h1.06M24 70h1.06M1 71h1.06M11 74h1.06M17 74h1.06M9 75h1.06M13 76h1.06M15 78h1.06M18 78h1.06M17 79h1.06"/>
<path stroke="#fff700" d="M21 0h2.06M7 1h1.06M14 1h1.06M25 2h1.06M1 3h1.06M10 3h1.06M0 4h1.06M18 5h1.06M1 6h1.06M20 6h1.06M0 7h1.06M10 7h1.06M2 9h1.06M16 9h1.06M21 10h1.06M7 11h1.06M18 12h1.06M6 13h1.06M10 15h1.06M1 16h1.06M18 16h1.06M6 17h2.06M23 17h1.06M7 18h2.06M24 18h1.06M6 19h1.06M22 19h3.06M12 20h1.06M3 21h1.06M12 21h1.06M9 22h1.06M11 23h1.06M22 23h1.06M1 24h1.06M20 24h1.06M7 25h1.06M17 25h2.06M8 26h2.06M16 26h1.06M2 28h2.06M5 28h1.06M6 29h1.06M2 30h1.06M4 30h1.06M6 31h1.06M9 31h2.06M4 32h1.06M6 33h1.06M19 33h1.06M16 34h1.06M13 35h1.06M17 36h1.06M24 36h2.06M1 37h2.06M6 37h1.06M5 38h1.06M3 39h1.06M8 39h1.06M14 39h1.06M21 39h1.06M16 41h2.06M19 41h1.06M5 43h1.06M17 43h1.06M8 45h1.06M17 45h1.06M2 46h1.06M5 47h1.06M10 47h1.06M19 47h1.06M10 49h1.06M17 49h2.06M14 50h1.06M21 51h1.06M21 52h1.06M24 52h2.06M2 53h1.06M13 53h1.06M3 55h1.06M1 56h1.06M0 57h1.06M23 57h1.06M0 58h1.06M8 58h1.06M16 58h2.06M5 59h1.06M1 60h1.06M7 61h1.06M10 61h1.06M12 61h2.06M18 63h1.06M4 64h1.06M12 65h1.06M16 65h3.06M22 65h1.06M23 66h1.06M23 67h1.06M25 67h1.06M4 68h1.06M9 70h1.06M17 70h1.06M22 70h1.06M9 71h1.06M6 72h3.06M25 72h1.06M0 73h1.06M9 74h1.06M19 74h1.06M4 75h2.06M19 75h1.06M23 75h1.06M12 76h1.06M24 76h1.06M15 77h1.06M12 78h1.06M17 78h1.06M13 79h1.06"/>
<path stroke="#ffe700" d="M9 2h1.06M24 3h2.06M13 4h1.06M15 5h1.06M19 5h1.06M2 6h1.06M9 7h1.06M17 8h1.06M3 9h1.06M22 10h2.06M17 11h1.06M6 12h1.06M8 12h1.06M7 13h1.06M12 13h1.06M10 14h1.06M11 15h1.06M1 17h1.06M25 18h1.06M13 19h1.06M5 21h1.06M12 22h3.06M14 25h1.06M25 25h1.06M10 26h1.06M9 27h2.06M18 27h1.06M25 28h1.06M4 29h1.06M7 29h1.06M6 30h1.06M4 31h1.06M8 31h1.06M19 31h1.06M7 33h1.06M20 33h2.06M15 34h1.06M14 35h1.06M17 35h1.06M22 35h1.06M22 38h1.06M1 39h1.06M4 39h1.06M20 41h1.06M6 43h1.06M25 44h1.06M7 45h1.06M4 47h1.06M7 48h1.06M19 50h2.06M20 51h1.06M0 52h1.06M6 52h1.06M18 52h2.06M2 54h1.06M11 55h1.06M7 57h1.06M9 57h1.06M1 58h1.06M9 58h1.06M11 61h1.06M15 62h1.06M4 65h4.06M11 65h1.06M15 65h1.06M18 66h1.06M21 67h1.06M24 68h1.06M16 70h1.06M21 70h1.06M1 73h1.06M8 73h1.06M10 74h1.06M18 74h1.06M0 75h1.06M14 75h1.06M11 78h1.06"/>
<path stroke="#ffd700" d="M23 3h1.06M14 5h1.06M20 5h1.06M11 17h1.06M14 21h1.06M21 23h1.06M19 24h1.06M12 26h1.06M11 27h1.06M16 27h1.06M4 28h1.06M18 28h1.06M20 28h2.06M5 29h1.06M8 30h1.06M3 31h1.06M7 31h1.06M16 31h1.06M18 31h1.06M15 33h1.06M24 35h1.06M15 38h2.06M20 39h1.06M25 40h1.06M13 42h1.06M5 44h2.06M18 45h1.06M16 46h1.06M1 47h2.06M6 48h1.06M0 50h1.06M10 55h1.06M23 55h1.06M0 56h1.06M25 59h1.06M2 61h1.06M16 62h1.06M17 63h1.06M22 63h1.06M0 66h2.06M22 67h1.06M10 70h1.06M7 73h1.06M6 74h1.06M23 76h1.06M16 78h1.06"/>
<path stroke="#ffc700" d="M10 2h1.06M22 3h1.06M7 12h1.06M19 12h1.06M2 16h1.06M15 18h1.06M13 21h1.06M7 27h1.06M21 27h1.06M6 28h1.06M17 28h1.06M8 29h2.06M7 30h1.06M16 30h1.06M11 31h1.06M17 31h1.06M11 32h1.06M12 33h3.06M23 35h1.06M21 37h1.06M21 38h1.06M0 39h1.06M11 49h1.06M8 57h1.06M3 68h1.06M22 68h2.06M23 70h1.06"/>
<path stroke="#ffb700" d="M13 24h1.06M8 27h1.06M12 27h1.06M7 28h1.06M16 28h1.06M10 29h1.06M9 30h2.06M20 31h1.06M20 37h1.06M14 42h1.06M3 61h1.06"/>
<path stroke="#ffa700" d="M12 24h1.06M19 26h1.06M19 28h1.06M11 29h1.06M16 29h3.06M20 29h1.06M11 30h1.06M17 30h2.06M12 32h2.06M15 32h1.06"/>
<path stroke="#ff9700" d="M12 25h1.06M15 27h1.06M19 27h1.06M19 29h1.06M19 30h1.06M14 32h1.06"/>
<path stroke="#ff8700" d="M20 30h1.06"/>
<path stroke="#ff7800" d="M13 25h1.06M14 26h1.06M8 28h1.06M12 31h2.06M15 31h1.06"/>
<path stroke="#ff6800" d="M14 27h1.06M9 28h1.06M15 30h1.06M14 31h1.06"/>
<path stroke="#ff5800" d="M13 26h1.06M13 27h1.06M15 29h1.06M12 30h1.06"/>
<path stroke="#ff4800" d="M10 28h2.06M15 28h1.06M13 30h1.06"/>
<path stroke="#ff3800" d="M12 29h1.06M14 29h1.06M14 30h1.06"/>
<path stroke="#ff2800" d="M13 29h1.06"/>
<path stroke="#ff1800" d="M12 28h1.06M14 28h1.06"/>
<path stroke="#f70000" d="M13 28h1.06"/>
</g></g></g>
<!-- panel 6 -->
<clipPath id="cp6"><rect x="58.00" y="654.00" width="194.50" height="182.00"/></clipPath>
<g clip-path="url(#cp6)">
<rect x="57.00" y="653.00" width="196.50" height="184.00" fill="#c4f03b"/>
<g filter="url(#bl)">
<g transform="translate(54.110 654.910) scale(7.7800 1.8200)" stroke-width="1.12" fill="none">
<path stroke="#0000e7" d="M8 58h1.06"/>
<path stroke="#0018ff" d="M4 68h1.06"/>
<path stroke="#0028ff" d="M16 17h1.06"/>
<path stroke="#0038ff" d="M1 73h1.06"/>
<path stroke="#0058ff" d="M9 46h1.06M2 87h1.06"/>
<path stroke="#0078ff" d="M13 16h1.06M2 22h1.06M2 52h1.06M2 88h1.06"/>
<path stroke="#0087ff" d="M21 4h1.06"/>
<path stroke="#0097ff" d="M6 2h1.06M24 89h1.06M5 92h1.06"/>
<path stroke="#00a7ff" d="M20 15h1.06M13 70h1.06M25 89h1.06M18 92h1.06"/>
<path stroke="#00b7ff" d="M22 9h1.06"/>
<path stroke="#00d7ff" d="M11 70h1.06"/>
<path stroke="#08fff7" d="M18 12h2.06M2 14h1.06M19 24h1.06M20 39h1.06M18 47h1.06M1 51h1.06M7 73h1.06M9 82h1.06M17 91h1.06"/>
<path stroke="#18ffe7" d="M20 2h1.06M22 2h1.06M13 4h1.06M7 6h1.06M9 9h1.06M8 11h1.06M20 16h1.06M20 17h1.06M16 18h1.06M13 19h1.06M20 19h2.06M2 21h1.06M14 21h1.06M15 24h1.06M17 25h1.06M1 28h1.06M14 31h1.06M24 31h1.06M19 35h1.06M1 37h1.06M7 42h2.06M17 45h1.06M19 50h1.06M20 53h1.06M19 55h1.06M3 57h2.06M18 57h1.06M1 58h2.06M4 60h1.06M7 62h1.06M2 63h1.06M23 64h1.06M13 65h1.06M0 66h1.06M8 66h1.06M12 68h1.06M5 71h1.06M17 75h1.06M25 75h1.06M21 79h1.06M18 82h1.06M24 83h1.06M20 84h1.06M13 87h1.06M20 88h1.06M11 89h1.06M25 94h1.06M15 96h1.06M23 96h1.06M15 99h1.06M19 99h1.06"/>
<path stroke="#28ffd7" d="M5 0h1.06M9 0h1.06M16 4h1.06M11 6h1.06M17 7h1.06M20 7h1.06M18 8h1.06M9 15h1.06M7 16h1.06M9 18h1.06M0 19h1.06M17 20h1.06M17 26h1.06M0 29h1.06M17 29h1.06M23 44h1.06M17 46h1.06M21 51h1.06M24 55h1.06M15 70h1.06M5 73h1.06M13 82h1.06"/>
<path stroke="#38ffc7" d="M13 1h1.06M3 5h1.06M17 8h1.06M6 10h1.06M3 12h1.06M4 25h1.06M16 28h1.06M18 28h1.06M24 33h1.06M3 34h1.06M20 35h1.06M24 37h1.06M11 46h1.06M19 46h1.06M21 50h1.06M22 51h1.06M8 54h1.06M24 54h1.06M3 56h1.06M16 61h1.06M23 62h1.06M17 63h1.06M8 64h1.06M12 66h1.06M10 67h1.06M11 68h1.06M13 68h1.06M12 78h1.06M2 79h1.06M8 86h1.06"/>
<path stroke="#48ffb7" d="M6 1h1.06M12 1h1.06M17 1h1.06M20 5h1.06M2 6h1.06M2 10h1.06M2 12h1.06M10 15h1.06M5 19h1.06M1 21h1.06M16 22h1.06M25 26h1.06M21 31h1.06M2 34h1.06M6 34h1.06M2 37h2.06M7 39h1.06M0 45h1.06M18 45h1.06M10 47h1.06M23 54h1.06M15 60h1.06M12 63h1.06M4 66h1.06M21 66h1.06M14 70h1.06M1 74h1.06M6 78h1.06M24 78h1.06M1 79h1.06M19 79h1.06M17 82h1.06M21 82h1.06M13 83h1.06M21 83h1.06M2 84h2.06M19 86h1.06M16 93h1.06M12 94h1.06M15 94h1.06M16 97h1.06M18 98h1.06M9 99h1.06"/>
<path stroke="#58ffa7" d="M0 0h1.06M4 1h1.06M2 5h1.06M10 5h1.06M18 11h1.06M16 13h1.06M22 13h1.06M8 15h1.06M1 20h1.06M23 20h1.06M17 22h1.06M14 28h2.06M15 31h1.06M6 47h1.06M8 50h1.06M24 52h1.06M7 57h1.06M0 58h1.06M21 59h1.06M13 61h1.06M20 61h1.06M0 62h1.06M8 62h1.06M11 63h1.06M22 66h1.06M18 68h1.06M14 69h1.06M10 70h1.06M18 75h1.06M14 76h1.06M18 77h1.06M25 77h1.06M9 79h2.06M13 80h1.06M21 80h1.06M16 81h1.06M19 82h1.06M13 86h1.06M19 91h1.06M8 98h1.06"/>
<path stroke="#68ff97" d="M22 0h1.06M5 1h1.06M11 1h1.06M15 1h1.06M0 2h1.06M10 4h1.06M25 5h1.06M21 6h1.06M23 6h1.06M5 11h3.06M4 19h1.06M8 19h1.06M19 19h1.06M20 20h1.06M0 21h1.06M5 21h2.06M16 21h1.06M2 23h1.06M0 25h1.06M16 26h1.06M20 29h1.06M25 29h1.06M18 31h1.06M25 33h1.06M23 34h1.06M4 36h1.06M5 37h1.06M6 38h1.06M16 39h1.06M2 40h1.06M15 40h1.06M25 40h1.06M1 42h1.06M22 45h1.06M6 46h1.06M24 47h1.06M11 54h1.06M9 55h1.06M5 56h1.06M19 57h1.06M24 58h1.06M13 59h1.06M14 60h1.06M9 61h1.06M14 64h1.06M20 66h1.06M8 68h1.06M17 70h1.06M9 72h1.06M23 72h1.06M24 76h1.06M15 77h1.06M5 78h1.06M19 78h1.06M6 79h1.06M11 79h1.06M13 79h1.06M4 82h1.06M12 83h1.06M0 86h1.06M10 86h1.06M0 87h2.06M15 87h1.06M1 89h1.06M7 89h1.06M7 90h1.06M16 91h1.06M0 92h2.06M16 92h1.06M20 93h1.06M0 94h1.06M10 94h1.06M10 95h1.06M17 99h2.06"/>
<path stroke="#78ff87" d="M10 0h1.06M19 0h1.06M1 2h1.06M8 2h1.06M21 2h1.06M19 3h1.06M0 5h1.06M11 7h1.06M24 7h1.06M3 9h1.06M0 10h1.06M16 10h1.06M11 11h1.06M3 14h1.06M3 18h1.06M3 19h1.06M10 19h1.06M14 19h1.06M0 20h1.06M12 20h1.06M24 20h2.06M24 21h2.06M5 24h1.06M5 26h1.06M12 26h1.06M8 27h1.06M0 30h1.06M15 30h1.06M0 33h1.06M4 34h1.06M20 37h1.06M5 38h1.06M25 38h1.06M20 40h1.06M7 41h1.06M0 42h1.06M15 42h1.06M19 43h1.06M9 45h1.06M3 47h1.06M22 47h2.06M17 48h1.06M6 49h1.06M20 50h1.06M25 50h1.06M0 52h2.06M3 52h1.06M3 54h1.06M0 57h1.06M5 57h1.06M3 58h1.06M18 58h1.06M2 59h1.06M10 59h1.06M12 60h1.06M25 63h1.06M7 68h1.06M24 68h1.06M21 71h1.06M6 72h1.06M4 73h1.06M11 74h1.06M21 74h1.06M3 76h1.06M1 77h1.06M11 78h1.06M18 78h1.06M24 80h1.06M10 81h1.06M19 81h1.06M24 81h1.06M12 82h1.06M1 85h1.06M21 87h1.06M8 88h1.06M12 89h2.06M3 90h1.06M17 90h1.06M3 93h1.06M1 94h1.06M20 95h1.06M14 96h1.06M2 97h1.06M20 99h1.06"/>
<path stroke="#87ff78" d="M21 1h2.06M7 2h1.06M14 2h1.06M6 4h1.06M1 5h1.06M19 5h1.06M3 6h1.06M16 7h1.06M22 10h1.06M19 13h1.06M24 13h1.06M22 14h1.06M11 15h1.06M15 17h1.06M14 18h1.06M18 18h1.06M2 19h1.06M24 19h1.06M22 20h1.06M19 21h1.06M3 23h1.06M2 24h2.06M11 25h1.06M7 26h1.06M13 26h1.06M17 27h1.06M0 28h1.06M2 31h1.06M23 31h1.06M21 32h2.06M16 37h1.06M8 39h1.06M8 40h1.06M22 41h1.06M2 42h2.06M0 43h2.06M4 43h1.06M8 44h1.06M3 45h1.06M8 46h1.06M11 47h1.06M1 48h1.06M25 48h1.06M0 49h1.06M0 51h1.06M18 51h1.06M21 52h1.06M18 54h2.06M5 55h1.06M19 56h1.06M21 56h1.06M11 57h1.06M20 57h1.06M9 59h1.06M12 59h1.06M20 59h1.06M3 60h1.06M5 60h1.06M2 61h1.06M23 61h1.06M25 61h1.06M1 63h1.06M7 64h1.06M9 66h1.06M14 67h1.06M14 68h1.06M17 68h1.06M11 69h1.06M12 70h1.06M2 74h1.06M10 74h1.06M23 75h1.06M6 76h1.06M3 77h1.06M13 77h1.06M8 78h1.06M0 79h1.06M3 79h1.06M12 79h1.06M16 79h1.06M0 80h1.06M9 80h2.06M9 81h1.06M11 81h1.06M20 82h1.06M9 83h1.06M5 85h1.06M9 86h1.06M20 87h1.06M22 87h1.06M11 88h1.06M24 88h1.06M10 89h1.06M10 90h1.06M18 90h1.06M4 92h1.06M13 94h1.06M7 97h1.06M11 99h1.06"/>
<path stroke="#97ff68" d="M13 0h1.06M17 0h1.06M23 0h1.06M20 1h1.06M5 3h1.06M11 4h2.06M19 4h1.06M22 7h2.06M10 8h1.06M16 8h1.06M8 10h1.06M11 10h1.06M12 11h1.06M0 12h1.06M11 12h1.06M15 12h1.06M20 12h1.06M4 13h2.06M13 14h1.06M6 15h1.06M8 16h1.06M16 16h1.06M22 17h1.06M8 18h1.06M10 18h1.06M23 18h1.06M9 19h1.06M8 20h1.06M13 20h1.06M3 21h2.06M15 22h1.06M12 23h1.06M4 24h1.06M5 25h1.06M6 26h1.06M20 27h1.06M12 28h1.06M19 28h1.06M15 29h1.06M21 29h1.06M17 31h1.06M22 31h1.06M14 32h1.06M23 32h1.06M1 34h1.06M20 34h2.06M16 35h3.06M21 35h1.06M2 36h1.06M19 36h1.06M6 39h1.06M21 39h2.06M16 40h1.06M3 41h1.06M11 42h1.06M17 42h1.06M7 43h1.06M24 44h1.06M23 45h1.06M12 46h1.06M21 48h2.06M5 49h1.06M9 49h1.06M23 49h1.06M7 50h1.06M6 51h1.06M22 54h1.06M15 55h1.06M18 55h1.06M20 55h1.06M7 56h1.06M2 57h1.06M4 58h1.06M19 59h1.06M25 59h1.06M22 60h1.06M24 60h2.06M6 61h1.06M12 61h1.06M18 63h1.06M21 63h2.06M11 64h1.06M0 65h1.06M7 65h1.06M11 67h1.06M10 68h1.06M1 69h1.06M10 69h1.06M15 69h1.06M18 69h1.06M9 70h1.06M3 71h1.06M12 71h2.06M3 72h1.06M16 72h1.06M3 74h1.06M22 74h1.06M8 76h1.06M11 76h1.06M13 76h1.06M16 76h1.06M8 77h1.06M16 77h1.06M22 77h1.06M7 78h1.06M13 78h1.06M15 78h1.06M7 82h1.06M11 83h1.06M14 83h2.06M4 84h1.06M7 84h1.06M22 84h1.06M20 86h1.06M15 88h1.06M4 89h1.06M19 89h1.06M24 90h1.06M4 91h1.06M15 91h1.06M23 92h1.06M14 94h1.06M20 94h1.06M2 96h2.06M9 97h1.06M17 97h1.06M22 98h1.06M3 99h1.06M16 99h1.06"/>
<path stroke="#a7ff58" d="M3 0h1.06M25 0h1.06M7 1h1.06M2 2h1.06M12 2h1.06M23 2h1.06M0 4h1.06M9 4h1.06M23 4h1.06M4 5h1.06M0 6h1.06M6 6h1.06M8 6h1.06M16 6h1.06M1 7h1.06M9 7h1.06M12 7h1.06M1 8h1.06M6 8h1.06M15 8h1.06M23 8h1.06M15 9h1.06M17 9h1.06M7 10h1.06M9 10h1.06M13 10h1.06M20 10h1.06M13 11h1.06M17 11h1.06M17 12h1.06M25 12h1.06M10 13h1.06M25 13h1.06M4 14h1.06M14 14h1.06M18 14h1.06M21 14h1.06M23 14h1.06M4 15h2.06M7 15h1.06M17 15h1.06M19 15h1.06M18 16h1.06M22 16h1.06M0 17h1.06M5 17h1.06M9 17h1.06M17 17h1.06M19 17h1.06M15 18h1.06M6 19h1.06M9 20h1.06M15 21h1.06M3 22h1.06M7 22h2.06M14 22h1.06M1 23h1.06M19 23h1.06M21 23h1.06M23 23h1.06M25 24h1.06M19 25h1.06M1 26h1.06M15 26h1.06M0 27h1.06M20 28h1.06M12 29h1.06M22 29h1.06M0 32h1.06M19 32h1.06M1 33h1.06M20 33h1.06M22 35h1.06M25 36h1.06M7 37h1.06M14 37h2.06M16 38h1.06M2 39h1.06M15 39h1.06M25 39h1.06M10 41h1.06M9 42h1.06M2 43h1.06M22 43h1.06M19 44h2.06M2 45h1.06M11 45h1.06M16 45h1.06M7 46h1.06M21 46h1.06M0 47h1.06M2 47h1.06M8 47h1.06M17 47h1.06M19 47h2.06M0 48h1.06M11 48h1.06M23 48h2.06M19 49h1.06M11 50h1.06M13 51h1.06M20 51h1.06M5 52h2.06M10 52h1.06M2 53h1.06M10 54h1.06M25 55h1.06M4 56h1.06M9 56h1.06M15 56h1.06M22 56h1.06M8 57h1.06M14 57h1.06M5 58h1.06M12 58h2.06M3 59h2.06M8 59h1.06M14 59h1.06M13 60h1.06M1 61h1.06M7 61h2.06M22 62h1.06M3 63h1.06M9 63h1.06M19 63h1.06M12 64h1.06M25 65h1.06M6 67h2.06M20 67h1.06M9 69h1.06M3 70h1.06M5 70h1.06M16 70h1.06M25 70h1.06M2 71h1.06M8 71h1.06M17 72h1.06M0 74h1.06M4 74h1.06M24 74h1.06M13 75h1.06M15 76h1.06M12 77h1.06M14 77h1.06M17 77h1.06M23 77h1.06M22 79h1.06M14 80h1.06M25 80h1.06M17 81h1.06M1 82h2.06M5 82h1.06M8 83h1.06M1 84h1.06M17 85h1.06M14 87h1.06M6 88h1.06M10 88h1.06M3 89h1.06M6 89h1.06M14 89h1.06M18 89h1.06M19 90h1.06M25 90h1.06M9 91h3.06M13 91h2.06M14 92h2.06M19 92h1.06M0 93h1.06M7 93h1.06M18 93h2.06M21 93h1.06M10 96h1.06M3 97h1.06M19 97h1.06M17 98h1.06M21 99h1.06"/>
<path stroke="#b7ff48" d="M14 0h1.06M24 0h1.06M9 2h1.06M13 2h1.06M17 2h2.06M24 2h2.06M2 3h2.06M9 3h1.06M15 3h2.06M23 3h2.06M11 5h1.06M18 5h1.06M1 6h1.06M22 6h1.06M2 7h1.06M0 8h1.06M8 8h1.06M19 8h1.06M22 8h1.06M0 9h1.06M4 9h1.06M14 9h1.06M16 9h1.06M10 10h1.06M17 10h1.06M1 12h1.06M8 12h1.06M13 12h1.06M23 13h1.06M1 14h1.06M5 14h2.06M11 14h1.06M1 15h1.06M12 15h1.06M23 15h2.06M0 16h2.06M6 16h1.06M15 16h1.06M19 16h1.06M21 16h1.06M1 17h2.06M8 17h1.06M12 17h1.06M21 17h1.06M4 18h2.06M17 18h1.06M1 19h1.06M22 19h1.06M25 19h1.06M14 20h1.06M21 20h1.06M13 21h1.06M17 21h1.06M20 21h1.06M12 22h1.06M22 23h1.06M16 24h1.06M21 24h1.06M1 25h1.06M20 25h1.06M25 25h1.06M23 26h1.06M3 27h2.06M13 27h1.06M16 27h1.06M18 27h1.06M2 28h1.06M4 28h1.06M6 28h2.06M13 28h1.06M17 28h1.06M1 29h1.06M3 29h1.06M1 30h1.06M7 30h1.06M14 30h1.06M19 31h2.06M20 32h1.06M4 33h1.06M23 33h1.06M0 34h1.06M7 34h1.06M24 34h1.06M0 35h1.06M3 35h1.06M14 36h1.06M0 37h1.06M4 37h1.06M6 37h1.06M17 37h1.06M23 37h1.06M4 38h1.06M7 38h1.06M15 38h1.06M0 39h1.06M5 39h1.06M24 39h1.06M0 40h1.06M6 41h1.06M8 41h1.06M19 41h1.06M4 42h1.06M6 42h1.06M16 42h1.06M5 43h1.06M25 43h1.06M1 44h1.06M21 44h2.06M22 46h1.06M7 47h1.06M4 49h1.06M20 49h2.06M13 50h1.06M17 50h1.06M22 50h1.06M8 52h1.06M13 52h1.06M25 52h1.06M4 54h1.06M12 54h2.06M14 55h1.06M21 55h1.06M23 55h1.06M6 56h1.06M8 56h1.06M14 56h1.06M20 56h1.06M23 56h1.06M1 57h1.06M6 57h1.06M10 57h1.06M13 57h1.06M22 57h1.06M0 59h2.06M11 59h1.06M9 60h1.06M19 60h1.06M11 61h1.06M1 62h1.06M14 62h2.06M19 62h1.06M24 62h1.06M0 63h1.06M4 63h2.06M13 63h1.06M23 63h1.06M1 64h2.06M17 64h1.06M22 64h1.06M6 65h1.06M1 66h1.06M10 66h1.06M13 66h1.06M1 67h1.06M9 67h1.06M15 67h1.06M17 67h1.06M25 68h1.06M21 70h1.06M1 71h1.06M4 71h1.06M6 71h2.06M13 72h1.06M6 73h1.06M14 73h2.06M24 73h2.06M14 74h1.06M16 75h1.06M21 76h1.06M4 77h1.06M9 77h1.06M24 77h1.06M16 78h1.06M7 79h2.06M18 81h1.06M21 81h1.06M23 81h1.06M0 82h1.06M3 82h1.06M6 82h1.06M21 84h1.06M25 84h1.06M0 85h1.06M7 85h1.06M5 86h1.06M8 87h1.06M23 87h1.06M22 88h2.06M25 88h1.06M0 89h1.06M2 89h1.06M5 89h1.06M8 89h1.06M22 89h1.06M22 90h1.06M3 91h1.06M18 91h1.06M2 93h1.06M15 95h1.06M22 96h1.06M1 97h1.06M8 97h1.06M18 97h1.06M20 97h2.06M4 98h1.06M7 98h1.06M14 98h1.06M5 99h1.06M7 99h1.06M23 99h2.06"/>
<path stroke="#c7ff38" d="M18 0h1.06M3 1h1.06M16 1h1.06M25 1h1.06M11 2h1.06M8 3h1.06M14 3h1.06M20 3h1.06M1 4h1.06M17 4h1.06M20 4h1.06M24 4h1.06M5 5h1.06M9 5h1.06M17 5h1.06M24 5h1.06M5 6h1.06M9 6h2.06M25 6h1.06M5 7h1.06M10 7h1.06M15 7h1.06M25 7h1.06M7 8h1.06M11 8h1.06M12 9h1.06M5 10h1.06M23 10h1.06M2 11h1.06M19 11h1.06M24 11h1.06M14 12h1.06M3 13h1.06M15 13h1.06M10 14h1.06M15 14h1.06M13 15h2.06M16 15h1.06M2 16h4.06M14 16h1.06M25 16h1.06M4 17h1.06M6 17h1.06M0 18h1.06M13 18h1.06M22 18h1.06M7 19h1.06M7 20h1.06M15 20h1.06M18 20h1.06M23 21h1.06M4 22h1.06M9 22h1.06M11 22h1.06M4 23h1.06M16 23h1.06M20 23h1.06M20 24h1.06M3 25h1.06M16 25h1.06M18 25h1.06M20 26h2.06M24 26h1.06M14 27h2.06M5 28h1.06M18 29h2.06M2 30h2.06M25 31h1.06M2 32h1.06M18 32h1.06M19 33h1.06M21 33h1.06M5 34h1.06M14 34h2.06M7 36h1.06M22 37h1.06M25 37h1.06M17 38h1.06M1 39h1.06M17 39h1.06M17 40h1.06M21 40h1.06M21 41h1.06M10 42h1.06M25 42h1.06M3 43h1.06M6 43h1.06M23 43h1.06M7 44h1.06M18 44h1.06M1 45h1.06M7 45h1.06M21 45h1.06M24 45h1.06M1 46h1.06M5 46h1.06M10 46h1.06M18 46h1.06M23 46h1.06M25 46h1.06M1 47h1.06M9 47h1.06M13 47h1.06M21 47h1.06M12 48h1.06M18 48h1.06M13 49h1.06M18 49h1.06M12 50h1.06M18 50h1.06M17 51h1.06M19 51h1.06M4 52h1.06M20 52h1.06M4 53h1.06M19 53h1.06M21 53h1.06M23 53h3.06M0 54h1.06M9 54h1.06M20 54h1.06M8 55h1.06M13 55h1.06M22 55h1.06M12 56h2.06M24 56h1.06M12 57h1.06M21 57h1.06M23 57h1.06M7 58h1.06M16 58h1.06M19 58h1.06M23 58h1.06M25 58h1.06M22 59h1.06M16 60h1.06M23 60h1.06M6 62h1.06M20 62h1.06M10 63h1.06M15 63h1.06M24 63h1.06M0 64h1.06M6 64h1.06M9 64h1.06M13 64h1.06M15 64h1.06M18 64h1.06M2 65h4.06M15 65h1.06M14 66h1.06M2 67h1.06M12 67h2.06M16 67h1.06M18 67h1.06M9 68h1.06M23 68h1.06M23 69h2.06M25 71h1.06M4 72h1.06M7 72h2.06M12 72h1.06M18 72h1.06M24 72h2.06M0 73h1.06M15 74h2.06M18 74h1.06M23 74h1.06M25 74h1.06M6 75h2.06M19 75h1.06M24 75h1.06M0 76h1.06M4 76h1.06M17 76h1.06M0 77h1.06M19 77h1.06M17 78h1.06M23 78h1.06M1 80h1.06M11 80h1.06M22 80h1.06M2 81h2.06M6 81h1.06M15 81h1.06M20 81h1.06M16 82h1.06M25 83h1.06M0 84h1.06M11 84h3.06M23 84h1.06M2 85h1.06M6 85h1.06M8 85h1.06M10 85h1.06M16 85h1.06M15 86h2.06M18 86h1.06M7 87h1.06M9 87h2.06M3 88h1.06M5 88h1.06M12 88h1.06M4 90h1.06M2 91h1.06M8 91h1.06M20 91h1.06M23 91h1.06M2 92h1.06M10 92h1.06M4 93h1.06M11 93h1.06M5 94h3.06M11 94h1.06M16 94h1.06M19 94h1.06M0 95h1.06M7 95h1.06M11 95h1.06M16 95h1.06M19 95h1.06M23 95h1.06M0 96h1.06M11 96h1.06M16 96h1.06M24 96h1.06M0 97h1.06M10 97h1.06M19 98h1.06M1 99h1.06M22 99h1.06"/>
<path stroke="#d7ff28" d="M4 0h1.06M16 0h1.06M14 1h1.06M19 1h1.06M3 2h1.06M19 2h1.06M6 3h1.06M18 3h1.06M2 4h1.06M14 4h1.06M18 4h1.06M25 4h1.06M14 5h1.06M16 5h1.06M21 5h1.06M4 6h1.06M12 6h1.06M17 6h1.06M20 6h1.06M24 6h1.06M4 7h1.06M21 7h1.06M2 8h2.06M5 8h1.06M14 8h1.06M2 9h1.06M13 9h1.06M18 9h1.06M19 10h1.06M3 11h1.06M16 11h1.06M25 11h1.06M7 12h1.06M24 12h1.06M8 13h1.06M13 13h2.06M17 13h2.06M20 13h1.06M0 14h1.06M16 14h1.06M19 14h1.06M25 14h1.06M0 15h1.06M15 15h1.06M18 15h1.06M17 16h1.06M3 17h1.06M25 17h1.06M12 19h1.06M18 19h1.06M2 20h1.06M4 20h1.06M11 20h1.06M10 21h1.06M18 21h1.06M21 21h1.06M0 22h1.06M5 22h1.06M10 22h1.06M13 22h1.06M20 22h1.06M13 23h1.06M24 23h2.06M7 24h1.06M11 24h2.06M14 24h1.06M17 24h1.06M12 25h1.06M0 26h1.06M18 26h1.06M22 26h1.06M7 27h1.06M21 28h1.06M23 29h2.06M16 30h1.06M16 31h1.06M15 32h1.06M7 33h1.06M22 33h1.06M16 34h1.06M22 34h1.06M6 35h2.06M25 35h1.06M19 37h1.06M19 38h1.06M24 40h1.06M2 41h1.06M4 41h1.06M9 41h1.06M15 41h1.06M20 41h1.06M23 41h3.06M20 42h1.06M11 43h1.06M0 44h1.06M12 44h1.06M6 45h1.06M8 45h1.06M10 45h1.06M0 46h1.06M2 46h1.06M13 46h1.06M25 47h1.06M4 48h1.06M10 49h2.06M17 49h1.06M22 49h1.06M24 49h1.06M3 50h2.06M9 50h2.06M24 50h1.06M2 51h1.06M7 52h1.06M9 52h1.06M23 52h1.06M0 53h1.06M9 53h2.06M7 54h1.06M21 54h1.06M25 54h1.06M0 55h2.06M10 56h1.06M9 57h1.06M24 57h1.06M9 58h1.06M16 59h1.06M18 59h1.06M24 59h1.06M6 60h1.06M10 60h2.06M0 61h1.06M17 61h1.06M16 62h1.06M16 63h1.06M20 63h1.06M4 64h1.06M10 64h1.06M20 64h2.06M10 65h3.06M21 65h1.06M24 65h1.06M2 66h2.06M7 66h1.06M11 66h1.06M23 66h1.06M21 67h1.06M4 69h1.06M22 69h1.06M2 70h1.06M18 70h1.06M11 71h1.06M14 72h1.06M2 73h1.06M11 73h1.06M13 73h1.06M16 73h1.06M7 74h1.06M9 74h1.06M13 74h1.06M0 75h3.06M8 75h1.06M11 75h1.06M14 75h1.06M7 76h1.06M10 76h1.06M22 76h1.06M2 77h1.06M5 77h1.06M10 77h2.06M21 77h1.06M14 78h1.06M22 78h1.06M4 79h2.06M14 79h1.06M23 79h1.06M25 79h1.06M4 80h2.06M8 80h1.06M12 80h1.06M17 80h1.06M19 80h1.06M5 81h1.06M14 82h1.06M2 83h2.06M10 83h1.06M17 83h1.06M20 83h1.06M6 84h1.06M14 84h1.06M24 84h1.06M14 86h1.06M21 86h1.06M3 87h2.06M17 87h1.06M24 87h2.06M9 88h1.06M9 89h1.06M3 92h1.06M11 92h1.06M17 92h1.06M21 92h2.06M1 93h1.06M6 93h1.06M12 93h1.06M23 93h1.06M8 94h1.06M2 95h2.06M8 95h1.06M12 95h1.06M21 95h1.06M4 96h1.06M19 96h1.06M23 97h1.06M5 98h2.06M9 98h2.06M25 98h1.06M2 99h1.06M6 99h1.06M10 99h1.06M14 99h1.06M25 99h1.06"/>
<path stroke="#e7ff18" d="M1 0h2.06M2 1h1.06M10 1h1.06M18 1h1.06M4 2h1.06M0 3h1.06M4 3h1.06M5 4h1.06M8 5h1.06M23 5h1.06M8 7h1.06M13 7h1.06M12 8h1.06M25 8h1.06M1 9h1.06M5 9h1.06M8 9h1.06M23 9h2.06M1 10h1.06M21 10h1.06M4 11h1.06M14 11h2.06M22 11h2.06M4 12h1.06M12 12h1.06M2 13h1.06M9 13h1.06M11 13h1.06M21 13h1.06M12 14h1.06M2 15h2.06M12 16h1.06M10 17h1.06M18 17h1.06M23 17h2.06M6 18h1.06M12 18h1.06M25 18h1.06M15 19h1.06M23 19h1.06M10 20h1.06M22 21h1.06M1 22h1.06M6 22h1.06M22 22h1.06M6 23h1.06M11 23h1.06M15 23h1.06M6 24h1.06M8 24h1.06M18 24h1.06M22 24h1.06M2 25h1.06M6 25h1.06M2 26h1.06M21 27h1.06M3 28h1.06M8 28h1.06M2 29h1.06M16 29h1.06M19 30h1.06M22 30h1.06M5 33h2.06M3 36h1.06M18 36h1.06M21 36h1.06M24 36h1.06M18 37h1.06M21 37h1.06M2 38h2.06M14 38h1.06M20 38h1.06M3 39h1.06M23 39h1.06M1 40h1.06M22 40h1.06M0 41h1.06M5 42h1.06M24 42h1.06M8 43h1.06M15 43h1.06M20 43h2.06M19 45h1.06M20 46h1.06M12 47h1.06M5 48h1.06M7 48h1.06M1 49h1.06M3 49h1.06M8 49h1.06M2 50h1.06M23 50h1.06M23 51h1.06M25 51h1.06M11 52h1.06M22 52h1.06M3 53h1.06M5 53h1.06M8 53h1.06M12 53h1.06M14 53h1.06M22 53h1.06M2 54h1.06M11 56h1.06M15 57h1.06M25 57h1.06M7 59h1.06M7 60h1.06M18 60h1.06M3 61h1.06M19 61h1.06M24 61h1.06M18 62h1.06M25 62h1.06M3 64h1.06M5 64h1.06M19 64h1.06M1 65h1.06M8 65h1.06M16 65h1.06M5 66h1.06M8 67h1.06M5 68h2.06M15 68h2.06M5 69h1.06M13 69h1.06M17 69h1.06M21 69h1.06M25 69h1.06M0 70h1.06M6 70h1.06M8 70h1.06M18 71h1.06M22 71h1.06M24 71h1.06M15 72h1.06M3 73h1.06M8 73h3.06M12 73h1.06M12 74h1.06M17 74h1.06M5 75h1.06M10 75h1.06M12 75h1.06M12 76h1.06M23 76h1.06M6 77h1.06M21 78h1.06M15 79h1.06M18 79h1.06M18 80h1.06M7 81h2.06M13 81h1.06M22 81h1.06M8 82h1.06M11 82h1.06M25 82h1.06M16 83h1.06M22 83h2.06M19 84h1.06M9 85h1.06M11 85h1.06M21 85h1.06M25 85h1.06M1 86h2.06M7 86h1.06M5 87h2.06M11 87h2.06M1 88h1.06M4 88h1.06M7 88h1.06M14 88h1.06M19 88h1.06M21 88h1.06M17 89h1.06M23 89h1.06M2 90h1.06M14 90h1.06M7 91h1.06M12 91h1.06M22 91h1.06M7 92h1.06M24 92h1.06M17 93h1.06M22 93h1.06M24 93h1.06M2 94h1.06M9 94h1.06M13 95h1.06M22 95h1.06M1 96h1.06M6 96h1.06M18 96h1.06M20 96h1.06M25 96h1.06M4 97h1.06M15 97h1.06M3 98h1.06M15 98h1.06M23 98h1.06M4 99h1.06M8 99h1.06"/>
<path stroke="#f7ff08" d="M8 0h1.06M20 0h1.06M8 1h1.06M1 3h1.06M10 3h1.06M17 3h1.06M21 3h2.06M25 3h1.06M3 4h2.06M7 4h1.06M15 4h1.06M22 4h1.06M12 5h2.06M15 5h1.06M15 6h1.06M14 7h1.06M18 7h2.06M9 8h1.06M20 8h1.06M10 9h1.06M25 9h1.06M12 10h1.06M14 10h2.06M24 10h2.06M9 11h1.06M16 12h1.06M1 13h1.06M6 13h1.06M7 14h1.06M24 14h1.06M25 15h1.06M2 18h1.06M7 18h1.06M11 18h1.06M16 20h1.06M19 20h1.06M9 21h1.06M18 22h1.06M21 22h1.06M25 22h1.06M0 23h1.06M5 23h1.06M8 23h1.06M10 23h1.06M23 25h1.06M1 27h1.06M12 27h1.06M25 28h1.06M5 29h1.06M8 29h1.06M14 29h1.06M6 30h1.06M25 30h1.06M1 32h1.06M24 32h1.06M2 33h2.06M25 34h1.06M4 35h1.06M23 35h1.06M5 36h1.06M20 36h1.06M22 36h1.06M0 38h2.06M3 40h1.06M23 40h1.06M5 41h1.06M11 41h1.06M16 41h1.06M18 41h1.06M12 42h1.06M22 42h2.06M10 43h1.06M16 43h1.06M24 43h1.06M2 44h1.06M5 44h2.06M25 44h1.06M25 45h1.06M4 46h1.06M24 46h1.06M4 47h1.06M6 48h1.06M8 48h1.06M10 48h1.06M13 48h1.06M7 49h1.06M0 50h2.06M5 51h1.06M10 51h1.06M12 51h1.06M24 51h1.06M14 52h1.06M1 53h1.06M7 53h1.06M11 53h1.06M13 53h1.06M1 54h1.06M7 55h1.06M12 55h1.06M0 56h1.06M2 56h1.06M18 56h1.06M14 58h1.06M21 58h2.06M6 59h1.06M15 59h1.06M23 59h1.06M2 60h1.06M8 60h1.06M21 60h1.06M10 61h1.06M18 61h1.06M5 62h1.06M9 62h1.06M21 62h1.06M14 63h1.06M24 64h1.06M14 65h1.06M20 65h1.06M22 65h2.06M0 67h1.06M0 68h1.06M8 69h1.06M16 69h1.06M4 70h1.06M22 70h1.06M0 71h1.06M9 71h2.06M10 72h1.06M17 73h2.06M23 73h1.06M19 74h1.06M21 75h2.06M2 76h1.06M5 76h1.06M7 77h1.06M1 78h2.06M4 78h1.06M9 78h2.06M25 78h1.06M2 80h1.06M23 80h1.06M12 81h1.06M14 81h1.06M10 82h1.06M19 83h1.06M5 84h1.06M10 84h1.06M15 84h1.06M4 85h1.06M12 85h1.06M15 85h1.06M20 85h1.06M3 86h1.06M6 86h1.06M12 86h1.06M17 86h1.06M23 86h1.06M18 87h1.06M18 88h1.06M21 89h1.06M16 90h1.06M21 90h1.06M23 90h1.06M21 91h1.06M9 92h1.06M5 93h1.06M8 93h1.06M10 93h1.06M15 93h1.06M4 94h1.06M21 94h1.06M1 95h1.06M9 95h1.06M18 95h1.06M24 95h1.06M5 96h1.06M9 96h1.06M22 97h1.06M24 97h1.06M1 98h1.06M13 98h1.06M21 98h1.06"/>
<path stroke="#fff700" d="M11 0h1.06M15 0h1.06M21 0h1.06M0 1h2.06M5 2h1.06M10 2h1.06M16 2h1.06M7 3h1.06M8 4h1.06M6 5h1.06M22 5h1.06M13 6h1.06M0 7h1.06M3 7h1.06M6 7h1.06M13 8h1.06M6 9h1.06M10 11h1.06M20 11h1.06M6 12h1.06M10 12h1.06M21 12h1.06M23 12h1.06M0 13h1.06M7 13h1.06M12 13h1.06M17 14h1.06M20 14h1.06M22 15h1.06M9 16h1.06M23 16h2.06M13 17h2.06M24 18h1.06M11 19h1.06M3 20h1.06M7 21h1.06M11 21h1.06M19 22h1.06M23 22h2.06M7 23h1.06M14 23h1.06M17 23h2.06M15 25h1.06M21 25h2.06M24 25h1.06M14 26h1.06M22 27h2.06M12 30h1.06M18 30h1.06M21 30h1.06M23 30h1.06M16 32h2.06M14 33h1.06M16 33h1.06M18 34h2.06M24 35h1.06M6 36h1.06M16 36h1.06M8 38h1.06M24 38h1.06M4 40h1.06M1 41h1.06M17 41h1.06M18 42h1.06M9 43h1.06M17 43h1.06M4 44h1.06M9 44h1.06M11 44h1.06M4 45h1.06M12 45h1.06M20 45h1.06M3 46h1.06M16 46h1.06M5 47h1.06M16 47h1.06M2 48h1.06M9 48h1.06M19 48h2.06M11 51h1.06M12 52h1.06M18 52h1.06M6 53h1.06M4 55h1.06M6 55h1.06M25 56h1.06M11 58h1.06M15 58h1.06M20 58h1.06M5 59h1.06M20 60h1.06M21 61h1.06M4 62h1.06M17 62h1.06M16 64h1.06M9 65h1.06M15 66h1.06M25 66h1.06M3 67h2.06M3 68h1.06M0 69h1.06M2 69h2.06M6 69h1.06M12 69h1.06M1 70h1.06M7 70h1.06M23 70h2.06M0 72h1.06M5 72h1.06M11 72h1.06M22 72h1.06M5 74h2.06M9 75h1.06M15 75h1.06M0 78h1.06M6 80h2.06M20 80h1.06M4 81h1.06M25 81h1.06M15 82h1.06M22 82h1.06M0 83h2.06M7 83h1.06M16 84h1.06M13 85h1.06M22 85h1.06M4 86h1.06M11 86h1.06M22 86h1.06M25 86h1.06M16 88h2.06M1 90h1.06M13 90h1.06M15 90h1.06M0 91h1.06M6 91h1.06M6 92h1.06M8 92h1.06M13 92h1.06M20 92h1.06M9 93h1.06M13 93h1.06M17 94h2.06M4 95h1.06M14 95h1.06M17 95h1.06M25 95h1.06M8 96h1.06M13 96h1.06M17 96h1.06M21 96h1.06M6 97h1.06M11 98h1.06M16 98h1.06"/>
<path stroke="#ffe700" d="M6 0h1.06M12 0h1.06M23 1h1.06M15 2h1.06M13 3h1.06M7 5h1.06M14 6h1.06M18 6h1.06M7 7h1.06M4 8h1.06M21 8h1.06M24 8h1.06M7 9h1.06M11 9h1.06M19 9h1.06M18 10h1.06M21 11h1.06M9 14h1.06M7 17h1.06M1 18h1.06M19 18h1.06M17 19h1.06M12 21h1.06M0 24h2.06M10 24h1.06M13 24h1.06M7 25h1.06M13 25h1.06M3 26h2.06M8 26h1.06M19 26h1.06M2 27h1.06M5 27h1.06M19 27h1.06M24 28h1.06M6 29h1.06M4 30h1.06M17 30h1.06M24 30h1.06M3 31h2.06M12 31h1.06M5 32h1.06M25 32h1.06M17 33h2.06M17 34h1.06M1 35h1.06M5 35h1.06M17 36h1.06M23 36h1.06M8 37h1.06M14 39h1.06M7 40h1.06M14 40h1.06M19 40h1.06M12 41h1.06M21 42h1.06M12 43h1.06M18 43h1.06M3 44h1.06M10 44h1.06M15 44h2.06M5 45h1.06M2 49h1.06M25 49h1.06M6 50h1.06M3 51h1.06M17 52h1.06M15 53h1.06M17 53h2.06M5 54h2.06M1 56h1.06M6 58h1.06M0 60h1.06M2 62h1.06M10 62h4.06M6 63h1.06M6 66h1.06M19 66h1.06M5 67h1.06M19 67h1.06M22 67h1.06M25 67h1.06M1 68h1.06M23 71h1.06M21 73h2.06M8 74h1.06M4 75h1.06M20 75h1.06M1 76h1.06M9 76h1.06M3 78h1.06M24 79h1.06M0 81h1.06M23 82h2.06M6 83h1.06M18 83h1.06M17 84h2.06M3 85h1.06M24 85h1.06M16 87h1.06M0 88h1.06M15 89h1.06M20 89h1.06M0 90h1.06M9 90h1.06M11 90h1.06M1 91h1.06M5 91h1.06M12 92h1.06M25 92h1.06M14 93h1.06M25 93h1.06M7 96h1.06M14 97h1.06M0 98h1.06M20 98h1.06M24 98h1.06"/>
<path stroke="#ffd700" d="M9 1h1.06M0 11h2.06M5 12h1.06M8 14h1.06M21 15h1.06M10 16h2.06M11 17h1.06M6 20h1.06M8 21h1.06M9 23h1.06M9 24h1.06M24 24h1.06M14 25h1.06M11 26h1.06M6 27h1.06M24 27h2.06M22 28h1.06M4 29h1.06M7 29h1.06M13 29h1.06M5 30h1.06M8 30h1.06M20 30h1.06M1 31h1.06M6 31h1.06M3 32h2.06M15 33h1.06M2 35h1.06M8 35h1.06M0 36h1.06M8 36h1.06M15 36h1.06M18 38h1.06M21 38h1.06M4 39h1.06M9 39h1.06M19 39h1.06M5 40h1.06M11 40h1.06M19 42h1.06M17 44h1.06M3 48h1.06M12 49h1.06M5 50h1.06M7 51h1.06M19 52h1.06M14 54h1.06M10 58h1.06M17 59h1.06M1 60h1.06M17 60h1.06M5 61h1.06M14 61h2.06M22 61h1.06M3 62h1.06M23 67h1.06M22 68h1.06M7 69h1.06M14 71h1.06M17 71h1.06M2 72h1.06M19 73h1.06M19 76h1.06M25 76h1.06M17 79h1.06M20 79h1.06M3 80h1.06M15 80h2.06M1 81h1.06M4 83h2.06M8 84h2.06M14 85h1.06M18 85h1.06M23 85h1.06M24 86h1.06M19 87h1.06M13 88h1.06M16 89h1.06M5 90h1.06M8 90h1.06M20 90h1.06M24 91h1.06M3 94h1.06M24 94h1.06M12 96h1.06M5 97h1.06M11 97h1.06M2 98h1.06M12 98h1.06M12 99h1.06"/>
<path stroke="#ffc700" d="M24 1h1.06M11 3h1.06M19 6h1.06M21 9h1.06M3 10h2.06M9 12h1.06M22 12h1.06M16 19h1.06M5 20h1.06M23 24h1.06M8 25h1.06M23 28h1.06M0 31h1.06M5 31h1.06M7 31h1.06M13 33h1.06M1 36h1.06M23 38h1.06M10 39h1.06M9 40h1.06M18 40h1.06M14 41h1.06M13 45h1.06M4 51h1.06M9 51h1.06M14 51h1.06M15 54h1.06M2 55h1.06M10 55h1.06M16 56h1.06M16 57h1.06M25 64h1.06M18 66h1.06M24 66h1.06M2 68h1.06M20 68h1.06M16 71h1.06M1 72h1.06M21 72h1.06M3 75h1.06M18 76h1.06M20 78h1.06M19 85h1.06M6 90h1.06M5 95h2.06M25 97h1.06M0 99h1.06M13 99h1.06"/>
<path stroke="#ffb700" d="M7 0h1.06M20 9h1.06M21 18h1.06M11 27h1.06M7 32h1.06M13 34h1.06M22 38h1.06M18 39h1.06M6 40h1.06M10 40h1.06M12 40h1.06M16 48h1.06M3 55h1.06M17 57h1.06M17 58h1.06M4 61h1.06M8 63h1.06M16 66h2.06M24 67h1.06M21 68h1.06M15 71h1.06M20 77h1.06M12 90h1.06M22 94h1.06"/>
<path stroke="#ffa700" d="M12 3h1.06M9 25h1.06M11 28h1.06M13 30h1.06M8 31h1.06M6 32h1.06M8 33h1.06M9 37h1.06M9 38h1.06M11 39h1.06M13 43h1.06M13 44h1.06M15 45h1.06M16 49h1.06M14 50h1.06M8 51h1.06M15 52h1.06M17 54h1.06M11 55h1.06M16 55h1.06M7 63h1.06M17 65h1.06M19 68h1.06M20 69h1.06M20 73h1.06M20 76h1.06M25 91h1.06M13 97h1.06"/>
<path stroke="#ff9700" d="M20 18h1.06M10 25h1.06M9 28h1.06M9 29h1.06M9 35h1.06M13 35h3.06M10 38h1.06M16 54h1.06M17 55h1.06M19 65h1.06M23 94h1.06M12 97h1.06"/>
<path stroke="#ff8700" d="M9 26h1.06M9 27h1.06M13 31h1.06M12 32h2.06M8 34h1.06M13 36h1.06M11 38h1.06M14 42h1.06M16 50h1.06M16 52h1.06M18 65h1.06M19 69h1.06M20 70h1.06M19 72h2.06M20 74h1.06"/>
<path stroke="#ff7800" d="M10 26h1.06M8 32h1.06M9 34h1.06M9 36h1.06M12 39h1.06M15 46h1.06M15 51h2.06M16 53h1.06M17 56h1.06M19 70h1.06M19 71h2.06"/>
<path stroke="#ff6800" d="M10 27h1.06M10 28h1.06M10 29h2.06M9 31h1.06M9 33h1.06M11 37h2.06M12 38h1.06M13 42h1.06M14 45h1.06M14 47h2.06M14 48h2.06M14 49h1.06"/>
<path stroke="#ff5800" d="M9 30h1.06M10 37h1.06M13 39h1.06M14 43h1.06M14 44h1.06M15 49h1.06"/>
<path stroke="#ff4800" d="M11 30h1.06M9 32h2.06M12 33h1.06M10 36h2.06M13 37h1.06M13 38h1.06M13 40h1.06M13 41h1.06M14 46h1.06M15 50h1.06"/>
<path stroke="#ff3800" d="M10 35h2.06M12 36h1.06"/>
<path stroke="#ff2800" d="M12 35h1.06"/>
<path stroke="#ff1800" d="M10 31h2.06M11 32h1.06M10 34h3.06"/>
<path stroke="#ff0800" d="M10 30h1.06M10 33h2.06"/>
</g></g></g>
<!-- panel 7 -->
<clipPath id="cp7"><rect x="332.50" y="656.00" width="189.25" height="179.50"/></clipPath>
<g clip-path="url(#cp7)">
<rect x="331.50" y="655.00" width="191.25" height="181.50" fill="#c4f03b"/>
<g filter="url(#bl)">
<g transform="translate(328.715 656.898) scale(7.5700 1.7950)" stroke-width="1.12" fill="none">
<path stroke="#0000a7" d="M0 45h1.06"/>
<path stroke="#0000e7" d="M13 33h1.06"/>
<path stroke="#0000f7" d="M5 89h1.06"/>
<path stroke="#0008ff" d="M16 58h1.06M25 71h1.06"/>
<path stroke="#0028ff" d="M13 12h1.06M25 72h1.06"/>
<path stroke="#0038ff" d="M0 56h1.06M16 59h1.06M19 59h1.06M5 90h1.06"/>
<path stroke="#0048ff" d="M2 6h1.06"/>
<path stroke="#0068ff" d="M3 42h1.06M8 64h1.06"/>
<path stroke="#0078ff" d="M2 4h1.06M1 10h1.06M6 13h1.06M20 16h1.06M19 77h1.06"/>
<path stroke="#0087ff" d="M3 13h1.06M21 52h1.06M7 72h1.06M23 79h1.06"/>
<path stroke="#0097ff" d="M7 10h1.06M19 43h1.06M12 53h1.06M19 66h1.06"/>
<path stroke="#00a7ff" d="M13 76h1.06M19 79h1.06"/>
<path stroke="#00c7ff" d="M15 83h1.06"/>
<path stroke="#00d7ff" d="M4 93h1.06M4 94h1.06"/>
<path stroke="#08fff7" d="M8 7h1.06M14 15h1.06M23 40h1.06M3 44h1.06M9 52h1.06M13 53h2.06M23 58h1.06M10 59h1.06M10 82h1.06M0 87h1.06"/>
<path stroke="#18ffe7" d="M1 1h1.06M9 2h1.06M9 4h1.06M2 17h1.06M6 17h1.06M1 28h1.06M1 33h1.06M23 33h1.06M18 37h1.06M22 40h1.06M21 45h1.06M0 47h1.06M19 48h2.06M19 52h1.06M6 53h2.06M21 55h1.06M21 56h1.06M4 62h1.06M25 63h1.06M20 64h1.06M1 65h1.06M3 66h1.06M9 67h1.06M0 71h1.06M2 71h1.06M17 71h1.06M20 76h1.06M2 77h1.06M11 78h1.06M3 81h1.06M25 81h1.06M19 84h1.06M8 88h1.06M10 90h1.06M1 93h1.06M0 95h1.06M13 95h1.06M4 96h1.06M10 98h1.06"/>
<path stroke="#28ffd7" d="M20 7h1.06M21 18h1.06M23 23h1.06M11 35h1.06M2 36h1.06M17 36h1.06M16 41h1.06M9 44h1.06M16 44h1.06M10 48h1.06M16 64h1.06M9 74h1.06M20 74h1.06M22 79h1.06M11 84h1.06M9 88h1.06M17 91h1.06M19 93h1.06M21 94h1.06M2 95h1.06"/>
<path stroke="#38ffc7" d="M18 2h1.06M18 3h1.06M3 4h1.06M8 10h1.06M14 12h1.06M3 21h1.06M16 21h1.06M6 23h1.06M12 33h1.06M11 36h1.06M21 40h1.06M1 44h1.06M24 48h1.06M21 51h1.06M20 52h1.06M23 59h1.06M0 64h1.06M22 64h1.06M19 73h1.06M5 75h1.06M9 78h1.06M24 83h1.06M14 85h1.06M17 85h1.06M13 86h1.06M4 87h1.06M11 90h1.06M13 90h1.06"/>
<path stroke="#48ffb7" d="M21 1h1.06M0 4h2.06M5 4h1.06M20 6h1.06M25 15h1.06M12 16h1.06M7 18h1.06M0 24h1.06M7 34h1.06M1 35h1.06M3 37h1.06M7 37h1.06M0 38h1.06M15 45h1.06M24 50h1.06M15 51h1.06M23 51h1.06M8 54h1.06M12 56h1.06M3 58h1.06M14 63h1.06M7 68h1.06M13 71h1.06M12 79h1.06M16 79h1.06M2 80h1.06M14 93h1.06M14 95h1.06M25 99h1.06"/>
<path stroke="#58ffa7" d="M19 7h1.06M21 7h1.06M24 8h1.06M5 11h1.06M21 14h1.06M25 17h1.06M6 18h1.06M8 20h1.06M20 22h1.06M1 24h1.06M7 24h1.06M17 34h1.06M17 40h1.06M24 40h1.06M18 43h1.06M13 44h1.06M6 48h1.06M21 48h1.06M0 51h1.06M5 52h1.06M18 52h1.06M19 56h1.06M21 61h1.06M4 66h2.06M1 68h1.06M3 69h1.06M17 70h1.06M20 70h1.06M12 74h1.06M1 76h1.06M23 78h1.06M23 81h1.06M10 85h2.06M18 89h1.06M12 90h1.06M9 91h1.06M15 93h1.06M10 94h1.06M16 94h1.06M24 96h1.06"/>
<path stroke="#68ff97" d="M4 3h1.06M8 3h1.06M11 4h1.06M2 7h1.06M22 7h1.06M22 8h1.06M4 11h1.06M4 13h1.06M5 16h1.06M20 17h1.06M16 18h1.06M23 22h1.06M15 32h1.06M3 33h1.06M25 33h1.06M8 37h1.06M0 39h1.06M2 40h1.06M7 42h1.06M13 42h1.06M5 43h1.06M20 43h1.06M12 45h1.06M14 45h1.06M6 46h1.06M16 47h2.06M7 48h1.06M5 49h1.06M13 49h1.06M2 58h1.06M17 58h1.06M6 59h1.06M20 59h1.06M7 62h1.06M15 62h1.06M17 66h1.06M2 68h1.06M3 72h1.06M6 72h1.06M16 72h1.06M3 78h1.06M17 79h1.06M22 80h1.06M0 81h1.06M20 81h1.06M11 83h2.06M0 85h1.06M16 88h1.06M2 89h1.06M14 89h1.06M25 90h1.06M24 91h1.06M18 98h1.06M23 98h2.06"/>
<path stroke="#78ff87" d="M7 0h1.06M9 0h1.06M14 0h1.06M17 0h1.06M14 4h1.06M5 7h1.06M4 8h1.06M22 9h1.06M25 10h1.06M2 11h1.06M21 11h1.06M15 12h2.06M16 14h1.06M24 14h2.06M0 15h1.06M25 16h1.06M5 18h1.06M1 19h1.06M19 19h1.06M0 20h1.06M15 21h1.06M4 24h1.06M2 33h1.06M22 33h1.06M25 34h1.06M0 35h1.06M7 35h1.06M20 41h1.06M0 44h1.06M2 44h1.06M2 45h1.06M14 46h2.06M5 51h1.06M8 52h1.06M11 53h1.06M15 53h1.06M13 54h1.06M9 56h1.06M9 57h1.06M22 57h2.06M13 59h1.06M1 60h1.06M8 60h1.06M19 61h1.06M11 62h1.06M13 63h1.06M16 65h1.06M19 65h1.06M9 66h1.06M10 67h1.06M18 67h1.06M24 70h1.06M18 71h1.06M0 72h1.06M17 73h1.06M5 76h1.06M8 77h1.06M25 77h1.06M9 79h1.06M18 79h1.06M3 80h1.06M16 80h1.06M3 86h1.06M20 86h1.06M4 89h1.06M9 89h2.06M4 90h1.06M16 91h1.06M18 91h1.06M13 93h1.06M5 95h1.06M14 96h2.06M3 97h1.06M21 97h1.06M25 97h1.06M15 99h1.06"/>
<path stroke="#87ff78" d="M2 0h1.06M13 0h1.06M20 0h1.06M23 1h2.06M8 2h1.06M4 4h1.06M6 4h1.06M17 4h1.06M5 8h1.06M15 8h1.06M25 8h1.06M8 9h1.06M15 9h1.06M11 11h1.06M18 11h1.06M8 12h1.06M1 14h1.06M10 14h1.06M15 14h1.06M18 14h1.06M23 14h1.06M17 17h1.06M15 19h1.06M18 22h1.06M21 22h1.06M18 23h1.06M20 23h1.06M0 25h1.06M6 25h1.06M22 31h1.06M14 33h1.06M15 35h1.06M1 36h1.06M7 36h1.06M4 38h1.06M11 38h1.06M18 39h1.06M25 39h1.06M3 41h1.06M4 42h1.06M0 43h1.06M5 46h1.06M9 46h1.06M21 46h1.06M25 46h1.06M1 47h2.06M15 47h1.06M21 47h1.06M24 47h2.06M10 49h1.06M9 50h1.06M21 50h1.06M9 51h1.06M17 53h1.06M14 54h1.06M22 54h2.06M17 55h1.06M12 57h1.06M15 57h1.06M20 57h1.06M24 57h1.06M12 58h2.06M24 58h1.06M11 59h2.06M25 62h1.06M12 66h1.06M12 68h1.06M7 71h1.06M17 72h1.06M3 73h1.06M19 74h1.06M9 76h1.06M6 77h1.06M24 77h1.06M17 78h1.06M21 78h1.06M5 79h1.06M5 80h1.06M11 81h1.06M13 81h1.06M0 83h1.06M1 85h2.06M4 85h1.06M16 85h1.06M18 85h1.06M8 86h1.06M7 87h1.06M10 88h1.06M15 89h1.06M20 89h1.06M6 90h2.06M18 90h1.06M21 90h2.06M21 91h1.06M22 92h1.06M11 94h1.06M15 94h1.06M23 95h1.06M2 96h1.06M0 97h1.06M4 97h1.06M16 97h1.06M3 98h1.06M21 99h1.06"/>
<path stroke="#97ff68" d="M17 2h1.06M16 4h1.06M11 5h1.06M8 6h1.06M13 7h2.06M23 8h1.06M7 9h1.06M12 9h1.06M21 9h1.06M0 10h1.06M2 12h1.06M5 12h1.06M7 13h1.06M19 13h1.06M14 14h1.06M7 15h1.06M10 15h1.06M13 16h2.06M16 16h1.06M1 17h1.06M18 17h1.06M21 17h1.06M8 18h1.06M18 20h1.06M21 20h1.06M19 21h2.06M0 22h1.06M24 23h1.06M2 24h1.06M6 24h1.06M0 28h1.06M7 31h1.06M7 32h1.06M16 32h1.06M0 33h1.06M1 34h1.06M3 34h1.06M22 35h1.06M3 36h1.06M8 36h1.06M2 37h1.06M21 37h1.06M3 38h1.06M13 38h1.06M13 39h1.06M24 39h1.06M2 41h1.06M23 42h1.06M1 43h1.06M13 45h1.06M16 45h1.06M8 46h1.06M18 47h1.06M1 48h1.06M8 48h1.06M11 48h1.06M6 49h1.06M11 49h2.06M24 49h1.06M19 50h1.06M10 51h1.06M18 51h1.06M25 52h1.06M5 53h1.06M8 53h1.06M16 53h1.06M3 54h1.06M20 55h1.06M10 56h2.06M15 56h2.06M18 56h1.06M7 57h1.06M15 58h1.06M18 58h3.06M22 59h1.06M5 60h1.06M4 61h1.06M14 61h1.06M6 62h1.06M24 62h1.06M1 63h1.06M24 63h1.06M1 64h1.06M10 64h1.06M13 64h1.06M21 64h1.06M0 65h1.06M9 65h1.06M15 65h1.06M16 66h1.06M3 67h1.06M8 67h1.06M5 68h2.06M8 68h1.06M23 68h3.06M2 69h1.06M17 69h1.06M22 69h1.06M15 72h1.06M12 75h1.06M12 76h1.06M3 77h1.06M17 77h1.06M12 78h1.06M15 79h1.06M1 81h1.06M14 81h1.06M24 81h1.06M25 82h1.06M2 84h1.06M18 84h1.06M3 85h1.06M1 86h1.06M24 87h1.06M2 88h1.06M0 89h1.06M8 89h1.06M1 90h1.06M23 90h1.06M0 91h1.06M10 91h1.06M3 92h1.06M5 93h1.06M10 93h3.06M20 93h2.06M24 93h1.06M8 94h2.06M1 95h1.06M16 96h1.06M17 98h1.06M2 99h1.06"/>
<path stroke="#a7ff58" d="M21 0h2.06M0 1h1.06M7 1h1.06M10 2h1.06M12 2h1.06M22 2h1.06M25 2h1.06M1 3h1.06M11 3h2.06M17 3h1.06M22 3h1.06M24 3h1.06M8 4h1.06M13 4h1.06M25 5h1.06M9 6h2.06M0 7h2.06M3 7h2.06M6 7h1.06M18 7h1.06M14 8h1.06M23 9h1.06M13 10h1.06M1 11h1.06M3 11h1.06M13 11h2.06M20 11h1.06M25 11h1.06M12 13h1.06M7 14h1.06M17 14h1.06M6 15h1.06M21 15h1.06M3 16h1.06M13 17h1.06M4 18h1.06M15 18h1.06M23 19h1.06M5 20h3.06M15 20h2.06M7 22h2.06M19 22h1.06M25 22h1.06M0 23h1.06M5 23h1.06M19 23h1.06M0 26h1.06M3 26h1.06M19 26h1.06M25 31h1.06M1 32h1.06M24 33h1.06M2 34h1.06M8 34h1.06M14 34h3.06M23 34h1.06M4 35h1.06M23 35h1.06M12 36h1.06M24 36h1.06M2 38h1.06M6 38h1.06M12 38h1.06M8 39h2.06M3 40h1.06M25 40h1.06M4 41h1.06M7 41h1.06M9 41h1.06M24 41h1.06M0 42h1.06M12 42h1.06M24 42h1.06M13 43h1.06M8 44h1.06M10 44h1.06M14 44h1.06M22 44h1.06M25 44h1.06M11 45h1.06M20 45h1.06M24 45h1.06M11 46h2.06M4 47h1.06M22 47h1.06M9 48h1.06M9 49h1.06M18 49h1.06M23 49h1.06M25 49h1.06M4 50h1.06M6 50h1.06M8 50h1.06M12 50h2.06M1 51h1.06M19 51h1.06M22 51h1.06M1 52h1.06M4 52h1.06M4 53h1.06M19 53h1.06M6 54h1.06M13 55h3.06M18 55h1.06M22 55h1.06M25 55h1.06M1 56h1.06M20 56h1.06M14 57h1.06M21 57h1.06M24 59h1.06M2 60h1.06M10 60h1.06M14 60h1.06M13 61h1.06M15 61h1.06M20 61h1.06M5 62h1.06M15 63h1.06M17 64h2.06M14 65h1.06M18 65h1.06M1 67h1.06M5 67h1.06M12 67h1.06M19 67h1.06M13 68h1.06M4 69h2.06M12 69h1.06M6 70h1.06M15 70h1.06M14 71h1.06M4 72h1.06M8 72h1.06M22 72h2.06M0 73h1.06M2 73h1.06M4 73h1.06M20 75h1.06M0 76h1.06M10 76h1.06M25 76h1.06M4 79h1.06M13 80h1.06M18 80h1.06M2 81h1.06M19 81h1.06M3 82h1.06M17 82h3.06M3 83h1.06M10 83h1.06M23 83h1.06M25 83h1.06M16 84h1.06M22 84h1.06M25 84h1.06M22 85h1.06M7 86h1.06M25 86h1.06M1 87h1.06M6 87h1.06M5 88h1.06M1 89h1.06M3 89h1.06M9 90h1.06M4 91h2.06M8 91h1.06M13 91h3.06M2 92h1.06M14 94h1.06M17 94h1.06M4 95h1.06M9 95h1.06M12 95h1.06M18 95h1.06M3 96h1.06M12 97h1.06M15 97h1.06M17 97h1.06M2 98h1.06"/>
<path stroke="#b7ff48" d="M16 0h1.06M4 1h1.06M8 1h1.06M11 1h1.06M18 1h1.06M22 1h1.06M11 2h1.06M23 3h1.06M25 4h1.06M8 5h1.06M17 5h1.06M19 6h1.06M21 6h1.06M24 6h1.06M17 7h1.06M19 8h2.06M0 9h2.06M3 9h1.06M6 9h1.06M20 9h1.06M14 10h1.06M16 10h1.06M18 10h1.06M21 10h1.06M0 11h1.06M12 11h1.06M19 11h1.06M9 12h3.06M11 13h1.06M16 13h2.06M0 14h1.06M3 14h1.06M22 14h1.06M3 15h1.06M20 15h1.06M21 16h1.06M24 16h1.06M7 17h1.06M22 17h1.06M10 18h2.06M13 18h1.06M22 18h1.06M3 19h1.06M14 19h1.06M18 19h1.06M24 19h1.06M12 20h1.06M19 20h1.06M24 21h1.06M1 22h1.06M4 22h1.06M1 23h2.06M25 23h1.06M3 24h1.06M5 24h1.06M3 25h1.06M5 25h1.06M4 26h1.06M20 26h1.06M25 26h1.06M6 31h1.06M14 32h1.06M22 32h1.06M25 32h1.06M24 34h1.06M2 35h1.06M25 35h1.06M16 36h1.06M18 36h1.06M0 37h1.06M15 38h1.06M21 39h1.06M11 40h2.06M14 40h1.06M20 40h1.06M1 41h1.06M8 41h1.06M11 41h1.06M22 42h1.06M21 43h1.06M11 44h1.06M4 45h2.06M7 45h1.06M22 45h1.06M13 46h1.06M5 47h1.06M0 48h1.06M2 48h1.06M16 50h2.06M23 50h1.06M25 50h1.06M6 51h1.06M14 51h1.06M20 51h1.06M24 51h2.06M10 52h1.06M10 53h1.06M22 53h1.06M2 54h1.06M9 54h1.06M21 54h1.06M8 55h1.06M10 55h3.06M24 55h1.06M22 56h1.06M8 57h1.06M11 57h1.06M16 57h1.06M1 58h1.06M14 58h1.06M22 58h1.06M11 60h1.06M15 60h1.06M23 60h1.06M10 61h1.06M12 61h1.06M18 61h1.06M8 62h3.06M2 63h1.06M16 63h1.06M6 64h1.06M11 64h1.06M19 64h1.06M8 65h1.06M23 65h1.06M10 66h1.06M20 66h1.06M4 67h1.06M0 68h1.06M6 69h1.06M13 69h1.06M19 69h1.06M23 69h1.06M21 70h1.06M5 71h1.06M1 72h1.06M11 72h1.06M5 73h1.06M8 73h1.06M18 73h1.06M20 73h1.06M7 75h2.06M13 75h1.06M2 76h1.06M15 76h1.06M4 78h1.06M10 78h1.06M25 78h1.06M8 79h1.06M14 79h1.06M21 79h1.06M6 80h1.06M21 80h1.06M25 80h1.06M4 81h1.06M1 82h1.06M24 82h1.06M4 83h1.06M13 83h1.06M17 83h1.06M0 84h1.06M14 84h1.06M25 85h1.06M0 86h1.06M2 86h1.06M9 86h1.06M16 86h1.06M3 87h1.06M10 87h1.06M20 87h1.06M25 87h1.06M1 88h1.06M3 88h1.06M12 88h2.06M20 88h1.06M17 89h1.06M19 89h1.06M23 89h1.06M0 90h1.06M12 91h1.06M19 91h2.06M22 91h1.06M25 91h1.06M0 92h1.06M14 92h1.06M23 92h1.06M3 93h1.06M25 93h1.06M22 94h1.06M3 95h1.06M8 95h1.06M11 95h1.06M15 95h1.06M5 96h1.06M0 98h1.06M7 98h1.06M16 99h1.06M20 99h1.06M22 99h2.06"/>
<path stroke="#c7ff38" d="M8 0h1.06M18 0h2.06M10 1h1.06M20 1h1.06M0 3h1.06M3 3h1.06M7 3h1.06M13 3h1.06M19 3h1.06M25 3h1.06M7 4h1.06M1 5h2.06M16 5h1.06M20 5h1.06M23 5h1.06M0 6h1.06M11 6h1.06M15 6h1.06M22 6h1.06M25 6h1.06M0 8h1.06M3 8h1.06M6 8h1.06M13 9h1.06M16 9h1.06M19 9h1.06M4 10h1.06M9 10h1.06M11 10h1.06M15 10h1.06M17 10h1.06M22 10h1.06M17 12h1.06M9 13h1.06M18 13h1.06M23 13h1.06M11 14h1.06M19 14h1.06M2 15h1.06M18 15h1.06M22 15h1.06M24 15h1.06M4 16h1.06M6 16h1.06M11 16h1.06M0 17h1.06M19 17h1.06M24 17h1.06M17 18h1.06M4 19h1.06M22 19h1.06M4 20h1.06M2 21h1.06M4 21h1.06M22 22h1.06M7 23h1.06M1 25h1.06M4 25h1.06M5 26h1.06M21 26h1.06M0 29h2.06M0 30h1.06M1 31h1.06M4 33h1.06M8 33h1.06M11 33h1.06M4 34h1.06M3 35h1.06M5 35h1.06M8 35h1.06M14 35h1.06M18 35h1.06M21 36h1.06M4 37h1.06M6 37h1.06M11 37h2.06M15 37h1.06M1 38h1.06M9 38h1.06M14 38h1.06M17 38h1.06M21 38h2.06M15 39h1.06M1 40h1.06M19 40h1.06M5 41h1.06M10 41h1.06M12 41h1.06M14 41h2.06M17 41h2.06M21 41h3.06M5 42h2.06M14 42h1.06M14 43h1.06M17 43h1.06M15 44h1.06M17 44h1.06M6 45h1.06M17 45h3.06M23 45h1.06M19 46h2.06M22 46h1.06M3 47h1.06M20 47h1.06M18 48h1.06M15 49h1.06M10 50h1.06M18 50h1.06M20 50h1.06M22 50h1.06M3 51h2.06M7 51h1.06M6 52h1.06M3 53h1.06M18 53h1.06M1 54h1.06M4 54h1.06M12 54h1.06M17 54h1.06M2 55h2.06M16 55h1.06M19 55h1.06M5 56h2.06M10 57h1.06M19 57h1.06M8 58h2.06M5 59h1.06M0 60h1.06M3 61h1.06M5 61h1.06M9 61h1.06M11 61h1.06M23 61h1.06M20 62h1.06M4 63h2.06M17 63h1.06M21 63h1.06M7 64h1.06M24 65h1.06M11 66h1.06M11 67h1.06M17 67h1.06M3 68h1.06M9 68h1.06M21 68h2.06M10 69h2.06M7 70h1.06M14 70h1.06M1 71h1.06M3 71h2.06M16 71h1.06M2 72h1.06M21 72h1.06M15 73h2.06M2 74h1.06M5 74h1.06M8 74h1.06M4 76h1.06M11 76h1.06M16 76h1.06M7 77h1.06M18 77h1.06M5 78h1.06M18 78h1.06M22 78h1.06M13 79h1.06M24 79h1.06M1 80h1.06M17 80h1.06M15 81h1.06M2 83h1.06M22 83h1.06M1 84h1.06M5 84h1.06M10 84h1.06M12 84h1.06M17 84h1.06M20 84h1.06M9 85h1.06M15 85h1.06M21 85h1.06M4 86h1.06M6 86h1.06M17 86h1.06M21 86h1.06M23 86h2.06M2 87h1.06M18 88h1.06M16 89h1.06M24 89h1.06M16 90h2.06M24 90h1.06M8 92h1.06M13 92h1.06M24 92h1.06M2 93h1.06M22 93h1.06M2 94h1.06M20 94h1.06M6 95h1.06M19 95h1.06M22 95h1.06M11 97h1.06M14 97h1.06M18 97h1.06M9 98h1.06M16 98h1.06M1 99h1.06M11 99h2.06M18 99h1.06M24 99h1.06"/>
<path stroke="#d7ff28" d="M1 0h1.06M3 0h1.06M12 0h1.06M15 0h1.06M5 1h1.06M9 1h1.06M1 2h1.06M23 2h1.06M5 3h1.06M10 4h1.06M18 4h1.06M0 5h1.06M9 5h2.06M19 5h1.06M22 5h1.06M6 6h1.06M16 6h1.06M15 7h2.06M21 8h1.06M4 9h1.06M9 9h1.06M14 9h1.06M24 9h1.06M10 10h1.06M12 10h1.06M0 12h1.06M25 12h1.06M5 13h1.06M8 13h1.06M13 13h1.06M24 13h1.06M6 14h1.06M4 15h1.06M9 15h1.06M11 15h1.06M15 15h1.06M17 15h1.06M7 16h2.06M10 16h1.06M3 17h1.06M5 17h1.06M12 17h1.06M1 18h1.06M23 18h1.06M25 18h1.06M0 19h1.06M20 19h1.06M25 19h1.06M17 20h1.06M20 20h1.06M24 20h2.06M18 21h1.06M21 21h1.06M24 22h1.06M3 23h1.06M1 26h1.06M18 26h1.06M5 30h2.06M0 31h1.06M2 31h1.06M5 31h1.06M0 32h1.06M8 32h1.06M6 34h1.06M6 35h1.06M16 35h1.06M0 36h1.06M13 36h1.06M9 37h1.06M24 37h1.06M5 38h1.06M10 38h1.06M16 38h1.06M18 38h1.06M23 38h1.06M25 38h1.06M1 39h1.06M10 39h1.06M16 39h1.06M0 40h1.06M19 41h1.06M25 41h1.06M8 42h1.06M18 42h2.06M21 42h1.06M2 43h2.06M8 43h2.06M4 44h1.06M7 44h1.06M23 44h2.06M3 45h1.06M9 45h2.06M0 46h1.06M23 46h2.06M8 47h1.06M10 47h2.06M19 47h1.06M25 48h1.06M2 49h1.06M7 49h2.06M19 49h3.06M3 50h1.06M7 50h1.06M11 50h1.06M15 50h1.06M2 51h1.06M11 51h1.06M24 52h1.06M5 54h1.06M7 54h1.06M15 54h2.06M9 55h1.06M2 56h1.06M8 56h1.06M13 56h2.06M17 56h1.06M4 57h1.06M13 57h1.06M25 57h1.06M6 58h1.06M10 58h2.06M21 58h1.06M25 58h1.06M4 60h1.06M9 60h1.06M13 60h1.06M0 61h1.06M24 61h1.06M2 62h2.06M21 62h1.06M12 63h1.06M22 63h1.06M5 64h1.06M14 64h1.06M2 65h1.06M13 65h1.06M0 66h1.06M13 66h1.06M18 66h1.06M21 66h3.06M7 67h1.06M16 67h1.06M10 68h2.06M18 69h1.06M24 69h1.06M8 70h1.06M16 70h1.06M25 70h1.06M6 71h1.06M19 71h1.06M5 72h1.06M14 72h1.06M18 72h1.06M1 73h1.06M23 73h1.06M11 74h1.06M15 74h1.06M21 74h1.06M19 75h1.06M22 75h2.06M6 76h1.06M8 76h1.06M17 76h1.06M1 77h1.06M9 77h2.06M16 77h1.06M23 77h1.06M13 78h1.06M20 78h1.06M3 79h1.06M20 79h1.06M4 80h1.06M9 80h1.06M15 80h1.06M23 80h1.06M7 81h1.06M22 81h1.06M6 84h2.06M13 84h1.06M21 84h1.06M13 85h1.06M19 85h1.06M5 86h1.06M9 87h1.06M4 88h1.06M11 88h1.06M15 88h1.06M17 88h1.06M19 88h1.06M2 90h1.06M8 90h1.06M19 90h1.06M7 91h1.06M11 91h1.06M23 91h1.06M4 92h1.06M7 92h1.06M9 92h1.06M6 93h1.06M23 93h1.06M0 94h1.06M12 94h1.06M18 94h1.06M23 94h1.06M7 95h1.06M10 95h1.06M8 96h4.06M13 96h1.06M17 96h1.06M22 96h1.06M5 97h1.06M1 98h1.06M4 98h1.06M8 98h1.06M11 98h3.06M15 98h1.06M22 98h1.06M3 99h2.06M9 99h1.06M14 99h1.06M19 99h1.06"/>
<path stroke="#e7ff18" d="M4 0h1.06M23 0h1.06M25 1h1.06M7 2h1.06M16 2h1.06M24 2h1.06M10 3h1.06M15 4h1.06M3 5h1.06M7 5h1.06M14 5h2.06M24 5h1.06M7 6h1.06M12 6h2.06M18 6h1.06M23 6h1.06M9 7h2.06M25 7h1.06M1 8h1.06M16 8h1.06M25 9h1.06M5 10h2.06M24 10h1.06M6 11h1.06M8 11h1.06M16 11h2.06M22 11h1.06M24 11h1.06M3 12h2.06M7 12h1.06M2 13h1.06M10 13h1.06M22 13h1.06M25 13h1.06M4 14h1.06M12 14h1.06M20 14h1.06M23 15h1.06M9 16h1.06M15 16h1.06M8 17h1.06M12 18h1.06M14 18h1.06M24 18h1.06M2 19h1.06M21 19h1.06M3 20h1.06M22 20h2.06M5 21h1.06M22 21h2.06M25 21h1.06M5 22h1.06M4 23h1.06M21 23h2.06M23 24h1.06M7 25h1.06M23 26h1.06M1 30h1.06M15 31h1.06M13 32h1.06M15 33h1.06M12 35h2.06M24 35h1.06M6 36h1.06M22 36h1.06M1 37h1.06M13 37h1.06M23 37h1.06M2 39h1.06M14 39h1.06M19 39h2.06M13 40h1.06M16 40h1.06M20 42h1.06M25 42h1.06M4 43h1.06M10 43h2.06M15 43h2.06M23 43h1.06M6 44h1.06M12 44h1.06M25 45h1.06M1 46h1.06M4 46h1.06M7 46h1.06M16 46h1.06M7 47h1.06M12 47h2.06M23 47h1.06M12 48h1.06M14 48h1.06M17 48h1.06M23 48h1.06M0 49h1.06M4 49h1.06M14 49h1.06M1 50h1.06M12 51h1.06M17 51h1.06M0 52h1.06M7 52h1.06M15 52h1.06M17 52h1.06M23 52h1.06M2 53h1.06M23 53h2.06M18 54h1.06M23 55h1.06M3 56h1.06M0 58h1.06M7 58h1.06M0 59h3.06M7 59h1.06M14 59h2.06M17 59h1.06M21 59h1.06M17 60h1.06M17 61h1.06M22 61h1.06M1 62h1.06M19 62h1.06M22 62h2.06M6 63h1.06M10 63h2.06M20 63h1.06M23 63h1.06M12 64h1.06M23 64h1.06M25 64h1.06M6 65h2.06M22 65h1.06M2 66h1.06M8 66h1.06M22 67h2.06M4 68h1.06M14 68h1.06M20 68h1.06M0 69h1.06M14 69h1.06M25 69h1.06M5 70h1.06M9 70h1.06M18 70h2.06M23 70h1.06M15 71h1.06M12 72h1.06M20 72h1.06M9 73h1.06M21 73h1.06M24 73h2.06M23 74h2.06M4 75h1.06M18 76h2.06M13 77h1.06M15 77h1.06M20 77h1.06M2 78h1.06M6 78h1.06M8 78h1.06M10 79h2.06M7 80h1.06M10 80h1.06M14 80h1.06M19 80h1.06M24 80h1.06M5 81h1.06M16 81h1.06M18 81h1.06M21 81h1.06M0 82h1.06M4 82h1.06M13 82h1.06M1 83h1.06M5 83h1.06M7 83h1.06M19 83h2.06M8 84h1.06M20 85h1.06M11 86h1.06M18 86h2.06M22 86h1.06M5 87h1.06M19 87h1.06M21 87h2.06M25 88h1.06M7 89h1.06M3 90h1.06M3 91h1.06M1 92h1.06M5 92h1.06M25 92h1.06M16 93h1.06M1 94h1.06M3 94h1.06M5 94h1.06M17 95h1.06M1 96h1.06M6 96h2.06M21 96h1.06M1 97h2.06M6 97h1.06M24 97h1.06M19 98h1.06M5 99h1.06M10 99h1.06M17 99h1.06"/>
<path stroke="#f7ff08" d="M0 0h1.06M6 0h1.06M6 1h1.06M12 1h1.06M14 1h1.06M17 1h1.06M19 1h1.06M0 2h1.06M2 3h1.06M12 4h1.06M12 5h2.06M18 5h1.06M1 6h1.06M14 6h1.06M11 7h1.06M23 7h1.06M7 8h1.06M9 8h1.06M13 8h1.06M18 8h1.06M11 9h1.06M18 9h1.06M15 11h1.06M23 11h1.06M1 12h1.06M6 12h1.06M12 12h1.06M2 14h1.06M13 14h1.06M1 15h1.06M5 15h1.06M8 15h1.06M19 15h1.06M0 16h1.06M2 16h1.06M22 16h2.06M9 17h3.06M23 17h1.06M0 18h1.06M2 18h1.06M9 18h1.06M8 19h2.06M13 19h1.06M1 20h1.06M14 20h1.06M7 21h2.06M2 22h2.06M16 23h1.06M25 24h1.06M2 25h1.06M2 26h1.06M6 26h2.06M22 26h1.06M24 26h1.06M7 27h1.06M19 28h1.06M2 30h2.06M23 30h3.06M14 31h1.06M4 32h1.06M24 32h1.06M5 33h1.06M0 34h1.06M22 34h1.06M15 36h1.06M23 36h1.06M10 37h1.06M17 37h1.06M7 38h2.06M24 38h1.06M7 39h1.06M22 39h1.06M4 40h1.06M8 40h1.06M18 40h1.06M6 41h1.06M13 41h1.06M12 43h1.06M22 43h1.06M24 43h1.06M1 45h1.06M10 46h1.06M18 46h1.06M6 47h1.06M9 47h1.06M14 47h1.06M3 48h1.06M5 48h1.06M15 48h1.06M22 48h1.06M16 49h1.06M22 49h1.06M13 51h1.06M2 52h1.06M16 52h1.06M22 52h1.06M1 53h1.06M9 53h1.06M25 53h1.06M11 54h1.06M19 54h1.06M0 55h1.06M7 55h1.06M7 56h1.06M0 57h1.06M3 57h1.06M4 58h2.06M3 59h2.06M9 59h1.06M25 59h1.06M3 60h1.06M12 60h1.06M24 60h1.06M12 62h1.06M0 63h1.06M9 63h1.06M19 63h1.06M2 64h1.06M9 64h1.06M15 64h1.06M20 65h2.06M6 66h1.06M15 66h1.06M6 67h1.06M13 67h1.06M15 67h1.06M25 67h1.06M18 68h2.06M1 69h1.06M7 69h1.06M20 69h2.06M0 70h1.06M13 70h1.06M22 70h1.06M8 71h2.06M9 72h2.06M13 72h1.06M24 72h1.06M10 73h1.06M10 74h1.06M13 74h1.06M16 74h1.06M18 74h1.06M6 75h1.06M11 75h1.06M21 75h1.06M3 76h1.06M14 76h1.06M21 76h1.06M0 77h1.06M22 77h1.06M16 78h1.06M12 80h1.06M8 81h1.06M10 81h1.06M12 81h1.06M2 82h1.06M14 82h1.06M16 82h1.06M9 83h1.06M14 83h1.06M18 83h1.06M21 83h1.06M4 84h1.06M23 84h2.06M5 85h1.06M12 85h1.06M10 86h1.06M12 86h1.06M15 86h1.06M8 87h1.06M13 87h1.06M17 87h1.06M0 88h1.06M7 88h1.06M23 88h1.06M11 89h1.06M13 89h1.06M21 89h2.06M25 89h1.06M14 90h1.06M10 92h1.06M0 93h1.06M9 93h1.06M7 94h1.06M13 94h1.06M19 94h1.06M25 95h1.06M19 96h1.06M23 96h1.06M25 96h1.06M7 97h1.06M9 97h2.06M13 97h1.06M19 97h1.06M22 97h2.06M5 98h1.06M14 98h1.06M0 99h1.06M13 99h1.06"/>
<path stroke="#fff700" d="M25 0h1.06M2 1h1.06M15 1h1.06M2 2h1.06M13 2h1.06M19 2h1.06M21 2h1.06M19 4h1.06M4 5h1.06M21 5h1.06M3 6h1.06M7 7h1.06M12 7h1.06M2 8h1.06M8 8h1.06M10 8h3.06M17 8h1.06M5 9h1.06M2 10h1.06M7 11h1.06M10 11h1.06M19 12h2.06M24 12h1.06M14 13h1.06M5 14h1.06M9 14h1.06M13 15h1.06M16 15h1.06M14 17h1.06M16 17h1.06M18 18h1.06M16 19h2.06M6 22h1.06M16 22h1.06M8 23h1.06M19 24h1.06M1 27h2.06M18 27h1.06M22 27h1.06M2 29h1.06M4 30h1.06M4 31h1.06M8 31h1.06M24 31h1.06M5 32h1.06M21 32h1.06M6 33h2.06M17 33h1.06M13 34h1.06M9 35h1.06M17 35h1.06M21 35h1.06M14 36h1.06M14 37h1.06M16 37h1.06M22 37h1.06M25 37h1.06M6 39h1.06M12 39h1.06M17 39h1.06M23 39h1.06M5 40h1.06M15 40h1.06M1 42h1.06M11 42h1.06M17 42h1.06M7 43h1.06M5 44h1.06M18 44h1.06M1 49h1.06M3 49h1.06M0 50h1.06M2 50h1.06M8 51h1.06M12 52h3.06M0 53h1.06M10 54h1.06M20 54h1.06M24 54h1.06M25 56h1.06M1 57h2.06M6 57h1.06M18 59h1.06M16 60h1.06M18 60h1.06M2 61h1.06M16 61h1.06M25 61h1.06M0 62h1.06M16 62h1.06M3 63h1.06M18 63h1.06M3 65h1.06M5 65h1.06M12 65h1.06M17 65h1.06M25 65h1.06M1 66h1.06M14 66h1.06M24 66h1.06M2 67h1.06M21 67h1.06M16 68h1.06M15 69h2.06M3 70h1.06M12 71h1.06M22 71h1.06M22 73h1.06M1 74h1.06M4 74h1.06M3 75h1.06M16 75h2.06M24 76h1.06M4 77h1.06M11 77h1.06M14 77h1.06M21 77h1.06M7 78h1.06M24 78h1.06M0 79h1.06M2 79h1.06M0 80h1.06M8 80h1.06M20 80h1.06M9 81h1.06M17 81h1.06M9 82h1.06M15 82h1.06M6 83h1.06M16 83h1.06M9 84h1.06M14 86h1.06M23 87h1.06M14 88h1.06M21 88h1.06M6 89h1.06M6 92h1.06M15 92h3.06M7 93h1.06M18 93h1.06M6 94h1.06M20 95h2.06M18 96h1.06M8 97h1.06M6 98h1.06M25 98h1.06"/>
<path stroke="#ffe700" d="M5 0h1.06M3 2h4.06M6 3h1.06M9 3h1.06M14 3h1.06M16 3h1.06M20 3h2.06M20 4h1.06M5 5h2.06M17 6h1.06M24 7h1.06M2 9h1.06M17 9h1.06M3 10h1.06M23 10h1.06M9 11h1.06M22 12h1.06M0 13h2.06M15 13h1.06M8 14h1.06M19 16h1.06M3 18h1.06M5 19h2.06M12 19h1.06M9 20h1.06M11 20h1.06M1 21h1.06M6 21h1.06M8 24h1.06M24 24h1.06M8 25h1.06M19 25h1.06M17 26h1.06M6 27h1.06M19 27h1.06M21 27h1.06M2 28h2.06M20 28h1.06M7 30h1.06M23 31h1.06M6 32h1.06M12 32h1.06M23 32h1.06M16 33h1.06M5 34h1.06M18 34h1.06M10 35h1.06M10 36h1.06M25 36h1.06M5 37h1.06M4 39h2.06M7 40h1.06M6 43h1.06M21 44h1.06M8 45h1.06M2 46h1.06M13 48h1.06M16 48h1.06M17 49h1.06M5 50h1.06M14 50h1.06M16 51h1.06M3 52h1.06M25 54h1.06M1 55h1.06M4 55h1.06M23 56h1.06M5 57h1.06M8 59h1.06M22 60h1.06M25 60h1.06M1 61h1.06M8 61h1.06M8 63h1.06M4 64h1.06M24 64h1.06M10 65h2.06M7 66h1.06M14 67h1.06M20 67h1.06M24 67h1.06M15 68h1.06M17 68h1.06M9 69h1.06M4 70h1.06M10 70h1.06M12 70h1.06M20 71h1.06M6 73h2.06M14 73h1.06M0 74h1.06M6 74h2.06M14 74h1.06M17 74h1.06M22 74h1.06M18 75h1.06M25 75h1.06M7 76h1.06M22 76h1.06M5 77h1.06M12 77h1.06M1 78h1.06M19 78h1.06M25 79h1.06M6 81h1.06M11 82h2.06M22 82h1.06M3 84h1.06M15 84h1.06M11 87h2.06M18 87h1.06M6 88h1.06M24 88h1.06M20 90h1.06M1 91h1.06M6 91h1.06M24 94h1.06M16 95h1.06M24 95h1.06M12 96h1.06M20 96h1.06M20 97h1.06"/>
<path stroke="#ffd700" d="M10 0h1.06M24 0h1.06M13 1h1.06M15 2h1.06M20 2h1.06M21 4h2.06M24 4h1.06M5 6h1.06M10 9h1.06M19 10h1.06M18 12h1.06M21 12h1.06M20 13h2.06M12 15h1.06M17 16h1.06M4 17h1.06M15 17h1.06M20 18h1.06M7 19h1.06M10 19h1.06M10 20h1.06M13 20h1.06M11 21h1.06M17 21h1.06M14 23h1.06M18 24h1.06M20 24h1.06M22 24h1.06M18 25h1.06M20 25h2.06M16 26h1.06M3 27h2.06M20 27h1.06M23 27h1.06M5 28h1.06M20 29h1.06M3 31h1.06M16 31h1.06M21 31h1.06M3 32h1.06M11 32h1.06M4 36h1.06M9 36h1.06M19 38h1.06M3 39h1.06M11 39h1.06M6 40h1.06M0 41h1.06M2 42h1.06M15 42h1.06M25 43h1.06M3 46h1.06M17 46h1.06M11 52h1.06M4 56h1.06M17 57h2.06M6 60h1.06M19 60h2.06M6 61h1.06M14 62h1.06M7 63h1.06M3 64h1.06M4 65h1.06M25 66h1.06M8 69h1.06M11 70h1.06M23 71h2.06M19 72h1.06M3 74h1.06M0 75h1.06M2 75h1.06M14 75h2.06M24 75h1.06M14 78h2.06M1 79h1.06M6 79h1.06M5 82h1.06M23 82h1.06M8 83h1.06M8 85h1.06M14 87h1.06M16 87h1.06M22 88h1.06M12 89h1.06M15 90h1.06M2 91h1.06M12 92h1.06M21 92h1.06M8 93h1.06M17 93h1.06M25 94h1.06M0 96h1.06M8 99h1.06"/>
<path stroke="#ffc700" d="M11 0h1.06M3 1h1.06M16 1h1.06M14 2h1.06M15 3h1.06M23 4h1.06M4 6h1.06M20 10h1.06M23 12h1.06M1 16h1.06M18 16h1.06M2 20h1.06M0 21h1.06M12 21h1.06M9 22h1.06M14 22h1.06M17 22h1.06M17 23h1.06M14 24h1.06M21 24h1.06M23 25h1.06M0 27h1.06M5 27h1.06M17 27h1.06M25 27h1.06M4 28h1.06M6 28h1.06M24 28h1.06M5 29h1.06M21 29h1.06M22 30h1.06M2 32h1.06M11 34h2.06M5 36h1.06M20 38h1.06M9 40h2.06M9 42h1.06M16 42h1.06M19 44h2.06M4 48h1.06M20 53h2.06M5 55h2.06M7 60h1.06M21 60h1.06M7 61h1.06M18 62h1.06M0 67h1.06M2 70h1.06M10 71h1.06M21 71h1.06M11 73h1.06M25 74h1.06M1 75h1.06M9 75h2.06M23 76h1.06M0 78h1.06M7 79h1.06M8 82h1.06M20 82h2.06M6 85h1.06M23 85h2.06M15 87h1.06M11 92h1.06M19 92h1.06M20 98h2.06M6 99h1.06"/>
<path stroke="#ffb700" d="M19 18h1.06M11 19h1.06M9 21h2.06M14 21h1.06M10 22h1.06M17 24h1.06M14 25h1.06M17 25h1.06M22 25h1.06M25 25h1.06M24 27h1.06M18 28h1.06M22 28h1.06M3 29h2.06M19 29h1.06M15 30h2.06M21 30h1.06M13 31h1.06M18 33h1.06M9 34h1.06M21 34h1.06M19 37h1.06M10 42h1.06M0 54h1.06M24 56h1.06M17 62h1.06M1 70h1.06M12 73h2.06M11 80h1.06M7 82h1.06M7 85h1.06M18 92h1.06M20 92h1.06M7 99h1.06"/>
<path stroke="#ffa700" d="M12 22h1.06M15 22h1.06M16 25h1.06M24 25h1.06M8 26h1.06M15 26h1.06M7 28h1.06M21 28h1.06M6 29h2.06M22 29h4.06M8 30h1.06M20 30h1.06M17 32h2.06M9 33h1.06M21 33h1.06M10 34h1.06M20 37h1.06M13 62h1.06M11 71h1.06M6 82h1.06"/>
<path stroke="#ff9700" d="M11 24h1.06M13 24h1.06M8 27h1.06M8 28h1.06M25 28h1.06M13 30h2.06M12 31h1.06M10 33h1.06M20 35h1.06"/>
<path stroke="#ff8700" d="M11 22h1.06M10 23h2.06M13 23h1.06M9 25h1.06M15 25h1.06M23 28h1.06M8 29h1.06M11 29h1.06M18 29h1.06M12 30h1.06M11 31h1.06M17 31h1.06M9 32h1.06M20 34h1.06M20 36h1.06"/>
<path stroke="#ff7800" d="M13 21h1.06M9 23h1.06M12 23h1.06M15 23h1.06M9 24h2.06M14 26h1.06M16 27h1.06M15 28h1.06M19 30h1.06M20 31h1.06M10 32h1.06M19 34h1.06"/>
<path stroke="#ff6800" d="M13 22h1.06M12 24h1.06M16 24h1.06M13 25h1.06M15 27h1.06M17 28h1.06M14 29h1.06M9 30h3.06M18 30h1.06M9 31h2.06M18 31h2.06M19 32h2.06M20 33h1.06M19 35h1.06M19 36h1.06"/>
<path stroke="#ff5800" d="M15 24h1.06M9 26h1.06M9 27h1.06M9 28h1.06M12 28h1.06M14 28h1.06M16 28h1.06M12 29h1.06M15 29h1.06M19 33h1.06"/>
<path stroke="#ff4800" d="M10 25h2.06M10 26h1.06M9 29h2.06M13 29h1.06M16 29h1.06M17 30h1.06"/>
<path stroke="#ff3800" d="M12 25h1.06M10 28h1.06M17 29h1.06"/>
<path stroke="#ff2800" d="M12 26h2.06M14 27h1.06M11 28h1.06"/>
<path stroke="#ff1800" d="M10 27h2.06"/>
<path stroke="#ff0800" d="M11 26h1.06M12 27h1.06M13 28h1.06"/>
<path stroke="#f70000" d="M13 27h1.06"/>
</g></g></g>
<!-- panel 8 -->
<clipPath id="cp8"><rect x="600.75" y="655.75" width="194.50" height="177.75"/></clipPath>
<g clip-path="url(#cp8)">
<rect x="599.75" y="654.75" width="196.50" height="179.75" fill="#c4f03b"/>
<g filter="url(#bl)">
<g transform="translate(596.860 655.750) scale(7.7800 1.7775)" stroke-width="1.12" fill="none">
<path stroke="#0028ff" d="M21 20h1.06"/>
<path stroke="#0038ff" d="M0 7h1.06M18 54h1.06"/>
<path stroke="#0048ff" d="M9 66h1.06"/>
<path stroke="#0058ff" d="M16 29h1.06M2 31h1.06M2 72h1.06M13 93h1.06"/>
<path stroke="#0078ff" d="M9 3h1.06M16 24h1.06M1 41h1.06M25 50h1.06M22 82h1.06"/>
<path stroke="#0087ff" d="M17 19h1.06M19 33h1.06"/>
<path stroke="#0097ff" d="M8 11h1.06M21 14h1.06M1 20h1.06M15 48h1.06M12 77h1.06M18 82h1.06M9 89h1.06M1 94h1.06"/>
<path stroke="#00a7ff" d="M18 84h1.06M21 93h1.06"/>
<path stroke="#00b7ff" d="M1 21h1.06M14 69h1.06"/>
<path stroke="#08fff7" d="M8 0h1.06M11 9h1.06M16 13h1.06M25 16h1.06M10 60h1.06M18 61h1.06M10 65h1.06M19 66h1.06M24 67h1.06M8 74h1.06M6 75h1.06M10 81h1.06M17 82h1.06M18 89h1.06M8 95h1.06M16 95h1.06M25 97h1.06"/>
<path stroke="#18ffe7" d="M18 3h1.06M17 6h1.06M7 8h1.06M16 8h1.06M6 10h1.06M8 15h1.06M9 16h1.06M23 17h1.06M18 18h1.06M10 19h1.06M25 19h1.06M22 29h1.06M24 29h1.06M11 37h1.06M20 37h1.06M8 41h1.06M9 47h1.06M12 49h1.06M9 50h1.06M19 54h1.06M1 56h1.06M8 56h1.06M2 58h1.06M8 60h1.06M1 62h1.06M9 62h1.06M12 62h1.06M7 63h1.06M1 64h1.06M11 66h1.06M13 66h1.06M4 68h1.06M4 69h1.06M22 70h1.06M0 75h1.06M23 77h1.06M0 78h1.06M24 79h1.06M18 80h1.06M24 80h1.06M14 81h1.06M8 82h1.06M0 85h1.06M8 89h1.06M0 90h1.06M13 92h1.06M20 92h1.06M19 94h1.06M15 95h1.06M4 97h1.06M24 97h1.06"/>
<path stroke="#28ffd7" d="M4 0h1.06M13 1h1.06M23 14h1.06M24 18h1.06M15 34h1.06M2 36h1.06M8 36h1.06M21 39h1.06M3 46h1.06M24 53h1.06M23 55h1.06M21 68h1.06M20 94h1.06M10 99h1.06M1 100h1.06"/>
<path stroke="#38ffc7" d="M22 4h1.06M14 8h2.06M17 8h1.06M8 9h1.06M25 11h1.06M16 14h1.06M20 18h1.06M8 19h1.06M10 21h1.06M12 21h1.06M13 32h1.06M19 34h1.06M18 36h1.06M7 38h1.06M24 46h2.06M9 54h1.06M4 60h1.06M17 61h1.06M19 61h1.06M15 64h1.06M16 68h2.06M15 79h1.06M25 81h1.06M5 85h1.06M24 90h1.06M10 92h1.06M23 97h1.06M11 100h1.06"/>
<path stroke="#48ffb7" d="M3 0h1.06M3 2h1.06M16 3h1.06M11 11h1.06M8 17h1.06M19 18h1.06M23 29h1.06M24 32h1.06M3 34h1.06M11 35h1.06M20 41h1.06M15 50h1.06M21 53h1.06M8 54h1.06M4 55h1.06M11 59h1.06M6 62h1.06M11 64h1.06M16 66h1.06M18 68h1.06M11 74h1.06M1 76h1.06M12 79h1.06M2 80h2.06M1 86h1.06M17 88h1.06M17 91h1.06M13 96h1.06M7 99h1.06M19 100h1.06"/>
<path stroke="#58ffa7" d="M9 0h1.06M20 1h1.06M5 3h1.06M17 3h1.06M16 4h1.06M3 6h1.06M14 10h1.06M11 21h1.06M0 30h1.06M20 32h1.06M0 33h1.06M17 38h1.06M2 40h1.06M5 41h1.06M17 42h1.06M8 43h1.06M16 44h1.06M18 46h1.06M18 50h1.06M23 53h1.06M2 60h1.06M6 64h1.06M10 66h1.06M9 67h1.06M11 71h1.06M2 76h1.06M0 79h1.06M17 80h1.06M21 80h1.06M4 82h1.06M19 82h1.06M16 84h1.06M9 86h1.06M9 88h1.06M19 89h1.06M19 90h1.06M16 91h1.06M13 94h1.06M17 95h1.06M21 96h1.06M20 100h1.06"/>
<path stroke="#68ff97" d="M7 1h1.06M21 2h1.06M19 3h1.06M24 6h1.06M7 7h1.06M1 8h1.06M3 16h1.06M7 16h1.06M23 16h1.06M0 17h1.06M7 17h1.06M4 18h1.06M22 19h1.06M1 22h1.06M14 22h1.06M17 22h2.06M21 24h1.06M23 26h1.06M24 27h1.06M3 32h1.06M12 35h1.06M6 36h2.06M1 37h1.06M6 37h1.06M9 38h1.06M5 42h1.06M17 43h1.06M7 44h1.06M1 45h1.06M23 46h1.06M13 48h1.06M2 49h1.06M11 51h1.06M20 51h1.06M22 53h1.06M5 54h1.06M11 54h1.06M3 56h1.06M12 57h1.06M19 59h1.06M13 62h1.06M2 63h1.06M20 64h1.06M12 66h1.06M16 69h1.06M8 70h1.06M12 71h1.06M19 72h1.06M23 75h1.06M9 76h1.06M4 77h1.06M7 77h1.06M14 77h1.06M20 77h1.06M12 78h1.06M5 79h1.06M1 80h1.06M11 81h1.06M15 81h1.06M7 82h1.06M2 85h2.06M16 86h1.06M18 86h1.06M23 87h1.06M4 91h1.06M4 92h1.06M15 92h1.06M14 93h1.06M11 94h1.06M14 94h1.06M13 97h1.06M0 99h1.06M8 99h2.06M10 100h1.06M24 100h1.06"/>
<path stroke="#78ff87" d="M20 0h1.06M23 0h1.06M5 1h1.06M10 2h1.06M7 3h1.06M15 3h1.06M1 4h1.06M14 6h2.06M22 6h1.06M24 9h1.06M19 10h1.06M13 12h1.06M16 12h1.06M8 16h1.06M18 16h1.06M15 19h1.06M20 22h2.06M1 33h1.06M16 33h1.06M16 34h1.06M9 36h1.06M25 36h1.06M2 37h1.06M7 37h1.06M5 38h2.06M23 41h1.06M6 42h1.06M7 43h1.06M11 43h1.06M13 44h1.06M23 44h1.06M4 46h1.06M3 49h1.06M11 49h1.06M23 49h1.06M10 50h1.06M21 51h1.06M25 53h1.06M6 54h2.06M14 54h1.06M19 57h1.06M25 58h1.06M7 59h1.06M0 62h1.06M5 62h1.06M11 62h1.06M16 64h1.06M0 65h1.06M9 65h1.06M2 67h1.06M5 67h1.06M10 67h1.06M19 67h1.06M19 68h2.06M22 68h1.06M3 69h1.06M5 69h1.06M9 71h1.06M16 71h1.06M4 72h1.06M7 72h1.06M20 73h1.06M2 75h1.06M7 75h1.06M20 75h1.06M0 76h1.06M10 76h1.06M19 76h1.06M14 80h1.06M12 81h2.06M12 82h1.06M21 82h1.06M22 83h1.06M9 84h1.06M1 85h1.06M0 86h1.06M21 86h1.06M22 87h1.06M21 89h2.06M1 90h1.06M16 90h1.06M5 91h1.06M8 92h2.06M22 92h1.06M0 96h1.06M4 96h1.06M8 98h1.06M10 98h1.06M1 99h1.06M8 100h1.06M21 100h1.06"/>
<path stroke="#87ff78" d="M17 1h1.06M25 2h1.06M12 4h1.06M11 5h1.06M20 5h1.06M16 6h1.06M23 6h1.06M6 7h1.06M8 7h1.06M16 7h1.06M19 7h1.06M20 8h1.06M14 9h1.06M12 10h1.06M4 11h1.06M11 12h1.06M4 13h1.06M13 13h1.06M15 14h1.06M24 15h1.06M12 16h1.06M1 17h1.06M1 18h1.06M5 19h1.06M18 20h1.06M0 21h1.06M16 21h1.06M24 21h1.06M19 22h1.06M0 29h1.06M3 29h1.06M6 29h1.06M21 29h1.06M4 32h1.06M13 34h1.06M1 35h1.06M8 35h1.06M13 35h1.06M1 36h1.06M12 36h1.06M21 37h1.06M3 38h2.06M18 38h1.06M24 38h2.06M22 39h1.06M8 40h1.06M17 41h1.06M19 41h1.06M7 42h1.06M21 42h1.06M14 43h1.06M16 43h1.06M23 43h1.06M17 44h1.06M3 45h1.06M1 46h1.06M14 47h1.06M17 47h2.06M24 47h1.06M13 49h2.06M11 50h1.06M14 50h1.06M18 51h2.06M21 52h1.06M8 53h1.06M15 56h1.06M7 57h1.06M7 58h1.06M6 59h1.06M9 60h1.06M25 60h1.06M14 61h1.06M16 61h1.06M22 62h1.06M3 63h1.06M5 64h1.06M7 64h1.06M12 64h1.06M19 64h1.06M25 64h1.06M16 65h1.06M24 65h1.06M8 67h1.06M18 67h1.06M3 70h1.06M5 71h1.06M10 71h1.06M15 71h1.06M17 71h1.06M20 71h1.06M8 72h1.06M22 74h1.06M8 75h1.06M24 76h1.06M19 78h1.06M23 79h1.06M25 79h1.06M12 80h1.06M3 82h1.06M6 82h1.06M1 83h1.06M16 83h1.06M20 84h1.06M20 87h2.06M24 87h1.06M21 88h1.06M23 88h1.06M1 89h1.06M10 89h1.06M14 90h1.06M15 91h1.06M7 92h1.06M12 93h1.06M0 94h1.06M2 94h1.06M21 94h1.06M1 95h1.06M18 95h1.06M20 95h1.06M12 96h1.06M18 96h1.06M2 99h1.06M4 99h1.06M16 99h1.06M7 100h1.06M12 100h1.06M23 100h1.06"/>
<path stroke="#97ff68" d="M6 1h1.06M11 1h1.06M19 1h1.06M14 2h1.06M6 3h1.06M6 5h1.06M4 6h1.06M2 9h1.06M15 9h1.06M25 9h1.06M20 10h1.06M24 10h1.06M0 11h1.06M3 11h1.06M7 11h1.06M8 12h1.06M14 12h1.06M5 13h1.06M17 14h2.06M0 15h1.06M13 16h1.06M2 17h1.06M13 17h1.06M25 17h1.06M8 18h1.06M17 18h1.06M23 18h1.06M6 20h1.06M11 20h1.06M24 26h1.06M17 29h1.06M19 30h1.06M3 31h1.06M23 31h1.06M23 32h1.06M2 33h1.06M2 34h1.06M6 34h2.06M12 34h1.06M2 35h1.06M16 35h1.06M0 36h1.06M8 37h2.06M19 37h1.06M8 38h1.06M7 39h1.06M1 40h1.06M3 40h2.06M25 42h1.06M4 43h1.06M5 44h1.06M9 44h1.06M24 44h1.06M15 45h1.06M7 46h1.06M15 47h1.06M0 48h1.06M24 48h1.06M19 49h1.06M5 50h4.06M22 50h1.06M23 52h1.06M12 53h1.06M15 53h1.06M17 53h1.06M20 54h1.06M1 55h1.06M25 55h1.06M10 56h1.06M6 57h1.06M17 58h1.06M3 60h1.06M7 60h1.06M10 64h1.06M22 65h2.06M7 66h1.06M22 67h1.06M5 68h1.06M23 68h1.06M0 69h1.06M6 69h1.06M6 70h1.06M4 71h1.06M8 71h1.06M13 71h1.06M5 72h1.06M5 73h1.06M8 73h1.06M9 75h1.06M7 76h2.06M21 76h1.06M6 77h1.06M21 77h1.06M1 78h1.06M18 79h1.06M5 80h1.06M20 80h1.06M18 81h2.06M10 82h1.06M4 83h1.06M6 83h1.06M10 83h1.06M0 84h1.06M21 84h1.06M24 85h1.06M2 86h1.06M4 86h1.06M19 86h1.06M8 87h1.06M13 87h1.06M25 87h1.06M10 88h1.06M6 89h1.06M11 89h1.06M17 89h1.06M20 89h1.06M21 90h1.06M17 92h1.06M21 92h1.06M18 93h2.06M12 94h1.06M15 94h1.06M6 96h1.06M8 96h1.06M0 97h2.06M12 97h1.06M14 97h1.06M21 97h1.06M0 98h1.06M3 98h1.06M20 98h1.06M19 99h1.06M22 99h1.06M9 100h1.06"/>
<path stroke="#a7ff58" d="M5 0h1.06M12 0h1.06M16 0h1.06M22 0h1.06M10 1h1.06M18 1h1.06M2 2h1.06M24 2h1.06M21 3h2.06M25 3h1.06M8 4h1.06M20 4h1.06M24 4h1.06M2 6h1.06M8 6h1.06M11 6h1.06M13 6h1.06M25 6h1.06M4 7h1.06M15 7h1.06M24 7h2.06M3 8h1.06M6 8h1.06M3 9h2.06M10 9h1.06M16 9h1.06M13 10h1.06M24 11h1.06M7 12h1.06M15 12h1.06M19 12h1.06M6 13h1.06M12 13h1.06M20 13h1.06M0 14h2.06M2 16h1.06M14 16h1.06M24 16h1.06M14 17h1.06M10 18h1.06M16 18h1.06M25 18h1.06M7 19h1.06M9 19h1.06M12 19h1.06M0 20h1.06M5 20h1.06M10 20h1.06M18 21h1.06M11 22h1.06M2 23h2.06M14 23h1.06M22 26h1.06M6 28h1.06M4 29h1.06M20 29h1.06M18 30h1.06M20 31h1.06M5 32h2.06M17 33h2.06M20 33h1.06M1 34h1.06M3 35h1.06M10 35h1.06M11 36h1.06M0 37h1.06M3 37h1.06M16 37h1.06M22 37h1.06M25 37h1.06M2 38h1.06M0 39h1.06M13 39h1.06M20 39h1.06M16 40h1.06M20 40h1.06M2 41h1.06M9 43h1.06M15 43h1.06M18 43h1.06M2 44h1.06M6 44h1.06M8 44h1.06M25 44h1.06M14 45h1.06M17 45h1.06M23 45h1.06M8 46h1.06M2 47h1.06M8 47h1.06M10 47h1.06M10 48h2.06M14 48h1.06M21 48h1.06M16 49h1.06M22 49h1.06M16 50h2.06M2 51h1.06M9 51h1.06M1 52h1.06M5 52h1.06M10 52h1.06M20 52h1.06M14 53h1.06M16 53h1.06M0 56h1.06M2 56h1.06M7 56h1.06M5 57h1.06M21 57h1.06M3 58h1.06M8 58h1.06M24 58h1.06M5 59h1.06M8 59h1.06M12 59h1.06M14 59h1.06M23 60h1.06M4 62h1.06M7 62h1.06M23 62h1.06M9 63h1.06M3 64h1.06M8 64h1.06M21 65h1.06M8 66h1.06M1 67h1.06M15 67h1.06M25 67h1.06M6 68h1.06M8 68h1.06M9 69h1.06M11 69h1.06M1 70h1.06M4 70h1.06M14 70h1.06M23 70h1.06M14 72h1.06M1 73h1.06M10 74h1.06M12 74h1.06M10 75h1.06M13 76h1.06M8 77h1.06M2 78h2.06M17 78h1.06M4 80h1.06M6 80h1.06M10 80h1.06M22 80h1.06M9 81h1.06M9 82h1.06M23 82h1.06M5 83h1.06M8 84h1.06M12 84h1.06M17 84h1.06M5 86h1.06M10 87h1.06M4 88h1.06M22 88h1.06M10 91h1.06M1 92h1.06M14 92h1.06M18 92h1.06M10 93h2.06M17 93h1.06M4 94h1.06M9 95h1.06M19 95h1.06M2 97h1.06M7 97h1.06M1 98h1.06M4 98h1.06M19 98h1.06M3 99h1.06M14 99h1.06M15 100h1.06"/>
<path stroke="#b7ff48" d="M7 0h1.06M10 0h1.06M12 1h1.06M16 1h1.06M8 2h2.06M13 2h1.06M22 2h1.06M3 3h2.06M23 3h2.06M0 4h1.06M21 4h1.06M23 4h1.06M5 5h1.06M18 6h1.06M3 7h1.06M5 7h1.06M9 7h2.06M17 7h1.06M20 7h1.06M0 8h1.06M2 8h1.06M10 8h1.06M18 8h2.06M25 8h1.06M5 9h1.06M7 9h1.06M4 10h1.06M21 10h1.06M25 10h1.06M10 11h1.06M23 11h1.06M6 12h1.06M9 12h1.06M17 12h1.06M21 13h1.06M2 14h1.06M14 14h1.06M22 14h1.06M15 15h1.06M17 16h1.06M19 16h1.06M1 19h1.06M4 19h1.06M11 19h1.06M24 19h1.06M12 20h2.06M25 20h1.06M0 22h1.06M12 22h1.06M22 22h1.06M12 23h1.06M23 23h1.06M25 23h1.06M4 24h1.06M20 24h1.06M25 24h1.06M0 28h1.06M20 28h1.06M24 28h2.06M12 29h1.06M18 29h1.06M17 31h1.06M17 32h1.06M7 33h1.06M15 33h1.06M17 34h1.06M6 35h1.06M14 35h2.06M19 35h2.06M25 35h1.06M10 38h1.06M13 38h1.06M20 38h1.06M23 38h1.06M1 39h1.06M8 39h1.06M14 39h1.06M0 40h1.06M9 40h1.06M25 40h1.06M0 41h1.06M8 42h1.06M23 42h1.06M1 43h1.06M14 44h2.06M22 44h1.06M4 45h2.06M13 45h1.06M18 45h2.06M9 46h2.06M17 46h1.06M1 48h1.06M4 48h1.06M0 49h1.06M19 50h1.06M21 50h1.06M0 52h1.06M22 52h1.06M24 52h1.06M2 53h1.06M7 53h1.06M13 53h1.06M10 54h1.06M5 55h1.06M22 55h1.06M24 55h1.06M4 56h1.06M18 56h1.06M2 57h1.06M13 57h1.06M20 57h1.06M3 59h1.06M18 59h1.06M5 60h1.06M20 60h1.06M11 61h1.06M2 62h1.06M4 63h1.06M17 63h1.06M19 63h1.06M2 64h1.06M4 64h1.06M9 64h1.06M21 64h1.06M11 65h3.06M15 65h1.06M19 65h1.06M25 65h1.06M0 66h1.06M17 66h1.06M20 66h1.06M3 67h2.06M6 67h1.06M12 67h1.06M11 68h2.06M15 68h1.06M17 69h1.06M0 70h1.06M2 70h1.06M5 70h1.06M9 70h1.06M3 71h1.06M18 71h1.06M6 72h1.06M15 72h1.06M7 73h1.06M14 73h1.06M16 74h1.06M18 74h1.06M1 75h1.06M19 75h1.06M15 77h1.06M2 79h1.06M11 79h1.06M21 79h1.06M7 80h1.06M19 80h1.06M23 80h1.06M1 81h1.06M8 81h1.06M0 82h1.06M5 82h1.06M11 82h1.06M15 82h1.06M20 82h1.06M24 82h1.06M0 83h1.06M20 83h2.06M23 83h1.06M25 83h1.06M1 84h1.06M10 84h1.06M13 84h1.06M25 85h1.06M17 87h1.06M14 89h1.06M23 89h1.06M9 90h1.06M15 90h1.06M17 90h1.06M6 91h1.06M9 91h1.06M23 91h1.06M2 92h1.06M6 92h1.06M11 92h1.06M25 92h1.06M22 93h1.06M5 94h3.06M22 94h1.06M21 95h1.06M3 96h1.06M9 96h1.06M19 96h1.06M3 97h1.06M6 97h1.06M22 97h1.06M2 98h1.06M9 98h1.06M5 99h1.06M15 99h1.06M6 100h1.06M14 100h1.06"/>
<path stroke="#c7ff38" d="M2 0h1.06M21 0h1.06M24 0h1.06M23 1h1.06M11 2h2.06M15 2h1.06M18 2h1.06M23 2h1.06M10 3h1.06M25 4h1.06M14 5h1.06M17 5h1.06M21 5h1.06M24 5h1.06M0 6h2.06M12 6h1.06M19 6h1.06M21 6h1.06M11 7h1.06M8 8h2.06M13 8h1.06M24 8h1.06M6 9h1.06M12 9h1.06M18 9h1.06M5 10h1.06M6 11h1.06M15 11h2.06M22 11h1.06M3 12h3.06M15 13h1.06M7 14h1.06M24 14h1.06M5 15h1.06M14 15h1.06M19 15h1.06M4 16h1.06M6 17h1.06M11 17h2.06M15 17h1.06M2 18h2.06M5 18h1.06M7 18h1.06M6 19h1.06M21 19h1.06M7 20h1.06M14 20h1.06M20 20h1.06M24 20h1.06M23 21h1.06M2 22h1.06M13 22h1.06M4 23h1.06M13 23h1.06M15 23h1.06M20 23h2.06M5 24h1.06M18 24h1.06M23 27h1.06M25 27h1.06M19 28h1.06M5 29h1.06M6 30h1.06M25 30h1.06M4 31h1.06M6 31h1.06M15 31h1.06M25 32h1.06M3 33h2.06M12 33h1.06M25 33h1.06M14 34h1.06M18 34h1.06M20 34h1.06M22 34h1.06M25 34h1.06M0 35h1.06M5 35h1.06M21 35h2.06M17 36h1.06M21 36h1.06M13 37h3.06M5 39h2.06M9 39h1.06M15 39h1.06M5 40h1.06M3 41h2.06M0 42h1.06M16 42h1.06M0 43h1.06M5 43h1.06M0 44h1.06M3 44h1.06M10 44h1.06M12 44h1.06M18 44h1.06M21 44h1.06M0 45h1.06M2 45h1.06M9 45h1.06M24 45h1.06M2 46h1.06M11 46h1.06M14 46h2.06M22 46h1.06M11 47h1.06M13 47h1.06M25 47h1.06M12 48h1.06M20 48h1.06M6 49h1.06M10 51h1.06M15 51h1.06M17 51h1.06M2 52h1.06M4 52h1.06M9 52h1.06M12 52h1.06M25 52h1.06M1 53h1.06M5 53h2.06M9 53h1.06M20 53h1.06M10 55h1.06M13 55h2.06M6 56h1.06M12 56h1.06M1 57h1.06M3 57h2.06M16 57h1.06M9 58h2.06M16 58h1.06M2 59h1.06M4 59h1.06M10 59h1.06M13 59h1.06M15 59h1.06M23 59h1.06M11 60h1.06M22 60h1.06M6 61h1.06M8 61h1.06M15 61h1.06M24 61h1.06M3 62h1.06M14 62h1.06M8 63h1.06M13 63h1.06M16 63h1.06M18 63h1.06M14 64h1.06M24 64h1.06M3 65h2.06M1 66h1.06M14 66h2.06M21 66h1.06M7 67h1.06M11 67h1.06M14 67h1.06M23 67h1.06M0 68h1.06M13 68h2.06M2 69h1.06M7 70h1.06M24 70h1.06M6 71h1.06M21 71h2.06M3 72h1.06M25 72h1.06M6 73h1.06M9 73h1.06M13 73h1.06M15 73h2.06M7 74h1.06M9 74h1.06M23 74h1.06M3 75h1.06M11 75h1.06M13 75h1.06M24 75h1.06M4 76h1.06M14 76h1.06M3 77h1.06M13 77h1.06M16 77h1.06M9 78h1.06M11 78h1.06M16 78h1.06M22 78h1.06M1 79h1.06M22 79h1.06M13 80h1.06M25 80h1.06M0 81h1.06M5 81h1.06M24 81h1.06M1 82h2.06M14 82h1.06M16 82h1.06M2 83h1.06M9 83h1.06M12 83h1.06M2 84h1.06M4 85h1.06M13 85h2.06M20 85h1.06M3 86h1.06M8 86h1.06M12 86h1.06M15 86h1.06M17 86h1.06M2 87h1.06M14 87h3.06M0 88h2.06M11 88h1.06M14 88h3.06M18 88h1.06M20 88h1.06M3 89h1.06M13 89h1.06M24 89h1.06M12 90h1.06M18 90h1.06M20 90h1.06M7 91h1.06M24 91h1.06M12 92h1.06M16 92h1.06M20 93h1.06M3 94h1.06M16 94h1.06M18 94h1.06M4 95h1.06M7 96h1.06M14 96h1.06M17 96h1.06M24 96h1.06M8 97h1.06M19 97h2.06M21 98h1.06M6 99h1.06M2 100h2.06M13 100h1.06M22 100h1.06"/>
<path stroke="#d7ff28" d="M11 0h1.06M2 1h3.06M8 1h1.06M14 1h1.06M25 1h1.06M1 2h1.06M0 3h1.06M20 3h1.06M13 4h1.06M19 4h1.06M7 5h2.06M10 5h1.06M12 5h2.06M16 5h1.06M22 5h1.06M25 5h1.06M9 6h2.06M14 7h1.06M18 7h1.06M5 8h1.06M9 9h1.06M17 9h1.06M0 10h1.06M15 10h1.06M22 10h1.06M1 11h1.06M5 11h1.06M9 11h1.06M12 11h1.06M10 12h1.06M20 12h1.06M22 12h1.06M14 13h1.06M17 13h1.06M6 14h1.06M9 14h2.06M4 15h1.06M23 15h1.06M0 16h2.06M24 17h1.06M0 18h1.06M21 18h1.06M14 19h1.06M20 19h1.06M19 20h1.06M22 20h1.06M2 21h1.06M8 21h1.06M13 21h1.06M15 21h1.06M17 21h1.06M5 22h2.06M16 22h1.06M16 23h2.06M0 24h1.06M24 24h1.06M20 26h2.06M12 28h3.06M18 28h1.06M21 28h1.06M2 29h1.06M13 29h1.06M2 30h1.06M5 30h1.06M20 30h1.06M5 31h1.06M24 31h1.06M0 32h1.06M2 32h1.06M16 32h1.06M19 32h1.06M5 33h1.06M21 34h1.06M7 35h1.06M23 35h1.06M10 36h1.06M4 37h2.06M10 37h1.06M18 37h1.06M16 38h1.06M21 38h1.06M10 39h1.06M12 39h1.06M23 39h1.06M13 40h1.06M15 40h1.06M18 40h2.06M21 40h1.06M22 41h1.06M15 42h1.06M18 42h1.06M20 42h1.06M22 42h1.06M24 42h1.06M2 43h1.06M24 43h1.06M20 46h2.06M1 47h1.06M12 47h1.06M16 47h1.06M23 47h1.06M7 48h1.06M1 49h1.06M5 49h1.06M25 49h1.06M4 50h1.06M23 50h1.06M0 51h1.06M8 51h1.06M16 51h1.06M24 51h1.06M6 52h1.06M11 52h1.06M4 53h1.06M18 53h1.06M12 54h1.06M15 54h1.06M21 54h1.06M24 54h1.06M9 55h1.06M11 56h1.06M17 56h1.06M19 56h2.06M17 57h1.06M25 57h1.06M4 58h1.06M19 58h1.06M6 60h1.06M12 60h3.06M19 60h1.06M21 60h1.06M3 61h1.06M7 61h1.06M12 61h2.06M25 61h1.06M8 62h1.06M19 62h1.06M1 63h1.06M6 63h1.06M14 63h1.06M20 63h1.06M23 63h2.06M0 64h1.06M18 64h1.06M20 65h1.06M2 66h3.06M0 67h1.06M13 67h1.06M16 67h2.06M7 68h1.06M24 68h1.06M7 69h2.06M10 69h1.06M15 70h1.06M2 71h1.06M7 71h1.06M1 72h1.06M11 72h3.06M18 72h1.06M20 72h1.06M0 73h1.06M4 73h1.06M17 74h1.06M12 75h1.06M18 75h1.06M3 76h1.06M20 76h1.06M1 77h1.06M5 77h1.06M22 77h1.06M23 78h1.06M6 79h1.06M16 79h2.06M19 79h1.06M0 80h1.06M11 80h1.06M16 80h1.06M3 83h1.06M13 83h1.06M15 83h1.06M24 83h1.06M3 84h1.06M5 84h1.06M7 84h1.06M11 84h1.06M14 84h2.06M8 85h3.06M11 86h1.06M20 86h1.06M22 86h1.06M9 87h1.06M18 87h2.06M7 89h1.06M6 90h1.06M10 90h1.06M22 90h1.06M25 90h1.06M8 91h1.06M14 91h1.06M0 92h1.06M5 92h1.06M19 92h1.06M23 92h1.06M7 93h2.06M8 94h1.06M14 95h1.06M5 96h1.06M11 96h1.06M25 96h1.06M5 97h1.06M9 97h1.06M15 97h1.06M5 98h1.06M13 98h1.06M17 99h2.06M4 100h2.06M18 100h1.06"/>
<path stroke="#e7ff18" d="M6 0h1.06M13 0h1.06M25 0h1.06M15 1h1.06M21 1h1.06M0 2h1.06M16 2h1.06M19 2h2.06M2 3h1.06M8 3h1.06M4 4h1.06M6 4h2.06M11 4h1.06M17 4h1.06M11 8h1.06M13 9h1.06M22 9h2.06M1 10h2.06M18 10h1.06M23 10h1.06M17 11h1.06M0 12h1.06M12 12h1.06M18 12h1.06M1 13h1.06M22 13h1.06M4 14h1.06M13 14h1.06M25 14h1.06M1 15h1.06M16 15h1.06M25 15h1.06M6 16h1.06M16 16h1.06M22 16h1.06M10 17h1.06M20 17h1.06M6 18h1.06M15 18h1.06M3 19h1.06M23 19h1.06M15 20h1.06M17 20h1.06M19 21h1.06M0 23h2.06M22 23h1.06M2 24h1.06M22 24h1.06M18 25h1.06M21 25h1.06M4 28h2.06M19 29h1.06M25 29h1.06M3 30h1.06M16 30h1.06M19 31h1.06M21 31h2.06M15 32h1.06M21 33h1.06M24 33h1.06M0 34h1.06M4 34h1.06M24 34h1.06M18 35h1.06M24 35h1.06M5 36h1.06M16 36h1.06M24 36h1.06M12 37h1.06M12 38h1.06M19 38h1.06M11 39h1.06M24 39h2.06M12 40h1.06M14 40h1.06M6 41h1.06M9 41h1.06M16 41h1.06M18 41h1.06M21 41h1.06M25 41h1.06M4 42h1.06M10 42h1.06M19 42h1.06M6 43h1.06M10 43h1.06M12 43h2.06M1 44h1.06M19 44h1.06M12 45h1.06M16 45h1.06M21 45h1.06M0 46h1.06M16 46h1.06M19 46h1.06M3 47h1.06M7 47h1.06M19 47h3.06M16 48h3.06M23 48h1.06M10 49h1.06M15 49h1.06M21 49h1.06M12 50h2.06M3 51h1.06M22 51h2.06M13 52h1.06M19 52h1.06M3 53h1.06M2 54h1.06M25 54h1.06M0 55h1.06M6 55h1.06M11 55h2.06M16 55h1.06M19 55h1.06M16 56h1.06M21 56h2.06M0 57h1.06M8 57h2.06M11 57h1.06M14 57h2.06M18 57h1.06M18 58h1.06M24 59h1.06M24 60h1.06M2 61h1.06M9 61h1.06M23 61h1.06M10 62h1.06M21 62h1.06M25 63h1.06M13 64h1.06M17 64h1.06M22 64h1.06M1 65h2.06M5 65h1.06M8 65h1.06M14 65h1.06M18 66h1.06M23 66h2.06M3 68h1.06M9 68h1.06M12 70h1.06M19 70h1.06M21 70h1.06M25 70h1.06M14 71h1.06M0 72h1.06M9 72h1.06M2 73h1.06M5 74h1.06M21 74h1.06M24 74h2.06M5 75h1.06M17 75h1.06M22 75h1.06M17 76h2.06M23 76h1.06M0 77h1.06M10 78h1.06M13 78h1.06M3 79h1.06M20 79h1.06M8 80h1.06M2 81h2.06M16 81h1.06M7 83h1.06M6 84h1.06M24 84h2.06M11 85h1.06M17 85h2.06M0 87h1.06M2 88h1.06M12 88h1.06M19 88h1.06M24 88h2.06M2 89h1.06M12 89h1.06M25 89h1.06M2 90h1.06M7 90h2.06M11 90h1.06M13 90h1.06M3 91h1.06M11 91h1.06M18 91h1.06M21 91h2.06M3 92h1.06M9 93h1.06M23 93h1.06M5 95h1.06M7 95h1.06M10 95h2.06M24 95h2.06M20 96h1.06M7 98h1.06M14 98h1.06M16 98h1.06M11 99h1.06M13 99h1.06M25 100h1.06"/>
<path stroke="#f7ff08" d="M15 0h1.06M9 1h1.06M4 2h1.06M1 3h1.06M18 4h1.06M4 5h1.06M9 5h1.06M15 5h1.06M23 5h1.06M7 6h1.06M23 7h1.06M4 8h1.06M23 8h1.06M1 9h1.06M19 9h1.06M2 11h1.06M2 13h1.06M7 13h1.06M11 13h1.06M6 15h2.06M9 15h1.06M13 15h1.06M10 16h1.06M5 17h1.06M16 17h1.06M21 17h2.06M11 18h1.06M13 18h2.06M13 19h1.06M16 19h1.06M9 20h1.06M16 20h1.06M23 20h1.06M3 21h1.06M14 21h1.06M20 21h1.06M25 21h1.06M3 22h2.06M18 23h2.06M24 23h1.06M15 24h1.06M19 24h1.06M19 25h1.06M25 26h1.06M21 27h1.06M15 28h1.06M7 29h1.06M17 30h1.06M18 31h1.06M18 32h1.06M6 33h1.06M13 33h1.06M5 34h1.06M4 35h1.06M13 36h2.06M20 36h1.06M17 37h1.06M1 38h1.06M22 38h1.06M19 39h1.06M6 40h1.06M10 40h2.06M17 40h1.06M24 40h1.06M7 41h1.06M10 41h3.06M15 41h1.06M24 41h1.06M3 43h1.06M19 43h1.06M11 44h1.06M20 44h1.06M6 45h1.06M8 45h1.06M20 45h1.06M12 46h1.06M3 48h1.06M5 48h1.06M25 48h1.06M4 49h1.06M7 49h2.06M17 49h2.06M20 49h1.06M24 49h1.06M20 50h1.06M24 50h1.06M4 51h1.06M25 51h1.06M1 54h1.06M13 54h1.06M17 54h1.06M2 55h1.06M18 55h1.06M9 56h1.06M25 56h1.06M15 58h1.06M21 58h1.06M23 58h1.06M9 59h1.06M20 59h1.06M25 59h1.06M15 60h1.06M20 61h1.06M22 61h1.06M18 62h1.06M20 62h1.06M5 63h1.06M12 63h1.06M23 64h1.06M6 66h1.06M1 68h2.06M1 69h1.06M18 69h3.06M22 69h2.06M10 70h2.06M19 71h1.06M24 71h2.06M21 72h1.06M24 72h1.06M12 73h1.06M21 73h1.06M23 73h1.06M1 74h1.06M6 74h1.06M13 74h1.06M15 74h1.06M4 75h1.06M14 75h1.06M16 75h1.06M6 76h1.06M11 76h1.06M22 76h1.06M25 76h1.06M24 77h2.06M18 78h1.06M9 80h1.06M15 80h1.06M7 81h1.06M17 81h1.06M20 81h1.06M23 81h1.06M25 82h1.06M11 83h1.06M19 84h1.06M22 84h2.06M12 85h1.06M21 85h1.06M10 86h1.06M8 88h1.06M13 88h1.06M0 89h1.06M16 89h1.06M3 90h3.06M13 91h1.06M25 91h1.06M24 92h1.06M4 93h2.06M15 93h1.06M17 94h1.06M23 94h1.06M10 96h1.06M15 98h1.06M17 98h1.06M22 98h1.06M0 100h1.06"/>
<path stroke="#fff700" d="M0 1h1.06M22 1h1.06M24 1h1.06M5 2h1.06M7 2h1.06M17 2h1.06M11 3h1.06M14 3h1.06M2 4h1.06M14 4h2.06M5 6h1.06M12 7h1.06M12 8h1.06M21 9h1.06M3 10h1.06M7 10h1.06M9 10h1.06M16 10h1.06M1 12h2.06M3 13h1.06M9 13h2.06M19 13h1.06M23 13h1.06M25 13h1.06M5 14h1.06M8 14h1.06M3 15h1.06M5 16h1.06M11 16h1.06M15 16h1.06M4 17h1.06M18 17h2.06M22 18h1.06M2 19h1.06M18 19h2.06M2 20h1.06M4 20h1.06M8 20h1.06M21 21h2.06M15 22h1.06M23 22h1.06M5 23h1.06M13 27h1.06M1 28h1.06M4 30h1.06M13 30h1.06M1 32h1.06M21 32h1.06M23 34h1.06M19 36h1.06M22 36h1.06M2 39h3.06M7 40h1.06M14 41h1.06M11 42h1.06M10 45h1.06M22 45h1.06M5 46h1.06M4 47h1.06M22 47h1.06M2 48h1.06M9 48h1.06M22 48h1.06M0 50h1.06M1 51h1.06M5 51h1.06M15 52h1.06M18 52h1.06M0 53h1.06M16 54h1.06M22 54h2.06M17 55h1.06M21 55h1.06M5 56h1.06M10 57h1.06M1 58h1.06M6 58h1.06M11 58h1.06M20 58h1.06M22 58h1.06M1 59h1.06M21 59h2.06M1 60h1.06M1 61h1.06M4 61h1.06M15 62h1.06M25 62h1.06M0 63h1.06M22 63h1.06M17 65h2.06M5 66h1.06M20 67h2.06M10 68h1.06M12 69h1.06M18 70h1.06M1 71h1.06M22 72h2.06M3 73h1.06M10 73h2.06M17 73h1.06M19 73h1.06M24 73h2.06M15 75h1.06M21 75h1.06M25 75h1.06M5 76h1.06M2 77h1.06M9 77h1.06M17 77h1.06M19 77h1.06M6 78h1.06M8 78h1.06M20 78h1.06M24 78h1.06M9 79h2.06M13 79h1.06M4 81h1.06M6 81h1.06M13 82h1.06M8 83h1.06M14 83h1.06M17 83h1.06M4 84h1.06M6 85h1.06M7 86h1.06M1 87h1.06M7 87h1.06M3 88h1.06M15 89h1.06M6 93h1.06M16 93h1.06M10 94h1.06M24 94h1.06M0 95h1.06M2 95h1.06M6 95h1.06M12 95h1.06M2 96h1.06M22 96h1.06M6 98h1.06M11 98h1.06M18 98h1.06M25 98h1.06M16 100h2.06"/>
<path stroke="#ffe700" d="M1 0h1.06M17 0h1.06M6 2h1.06M12 3h1.06M3 4h1.06M5 4h1.06M9 4h2.06M1 5h3.06M18 5h1.06M20 6h1.06M1 7h1.06M21 7h1.06M21 8h2.06M20 9h1.06M17 10h1.06M18 11h1.06M23 12h3.06M0 13h1.06M8 13h1.06M18 13h1.06M3 14h1.06M19 14h1.06M2 15h1.06M12 15h1.06M20 15h1.06M20 16h1.06M12 18h1.06M0 19h1.06M4 21h2.06M7 21h1.06M7 22h1.06M23 24h1.06M20 25h1.06M18 26h2.06M2 27h1.06M4 27h1.06M16 27h1.06M20 27h1.06M22 27h1.06M3 28h1.06M16 28h1.06M12 30h1.06M21 30h1.06M24 30h1.06M13 31h1.06M25 31h1.06M22 32h1.06M22 33h1.06M15 36h1.06M0 38h1.06M11 38h1.06M16 39h1.06M13 41h1.06M3 42h1.06M9 42h1.06M14 42h1.06M20 43h1.06M25 43h1.06M4 44h1.06M11 45h1.06M25 45h1.06M6 46h1.06M0 47h1.06M6 47h1.06M8 48h1.06M19 48h1.06M3 52h1.06M14 52h1.06M16 52h1.06M11 53h1.06M3 55h1.06M23 56h2.06M0 58h1.06M5 58h1.06M14 58h1.06M17 59h1.06M0 60h1.06M18 60h1.06M0 61h1.06M10 61h1.06M21 61h1.06M17 62h1.06M24 62h1.06M11 63h1.06M15 63h1.06M21 63h1.06M6 65h1.06M22 66h1.06M25 66h1.06M25 68h1.06M21 69h1.06M24 69h1.06M20 70h1.06M23 71h1.06M10 72h1.06M16 72h2.06M22 73h1.06M0 74h1.06M2 74h1.06M4 74h1.06M14 74h1.06M19 74h1.06M12 76h1.06M10 77h2.06M18 77h1.06M5 78h1.06M14 78h2.06M25 78h1.06M4 79h1.06M7 79h1.06M15 85h1.06M19 85h1.06M6 86h1.06M13 86h2.06M23 86h3.06M3 87h1.06M5 88h1.06M5 89h1.06M23 90h1.06M0 91h3.06M12 91h1.06M19 91h2.06M1 93h1.06M3 93h1.06M9 94h1.06M3 95h1.06M1 96h1.06M16 96h1.06M16 97h1.06M18 97h1.06M12 98h1.06M23 98h1.06M12 99h1.06M21 99h1.06M23 99h1.06"/>
<path stroke="#ffd700" d="M0 0h1.06M18 0h2.06M0 5h1.06M13 7h1.06M22 7h1.06M8 10h1.06M13 11h2.06M21 11h1.06M11 14h2.06M20 14h1.06M10 15h2.06M18 15h1.06M21 16h1.06M17 17h1.06M3 20h1.06M6 21h1.06M24 22h2.06M6 23h1.06M2 25h1.06M5 27h1.06M2 28h1.06M17 28h1.06M22 28h2.06M7 30h1.06M0 31h1.06M23 33h1.06M17 35h1.06M3 36h1.06M23 36h1.06M23 37h2.06M22 40h1.06M1 42h2.06M13 42h1.06M7 45h1.06M13 46h1.06M1 50h1.06M6 51h1.06M12 51h1.06M14 51h1.06M7 52h2.06M17 52h1.06M10 53h1.06M19 53h1.06M0 54h1.06M4 54h1.06M8 55h1.06M15 55h1.06M20 55h1.06M14 56h1.06M22 57h3.06M12 58h2.06M0 59h1.06M16 60h2.06M5 61h1.06M16 62h1.06M7 65h1.06M15 69h1.06M25 69h1.06M13 70h1.06M0 71h1.06M4 78h1.06M7 78h1.06M21 78h1.06M8 79h1.06M14 79h1.06M22 81h1.06M7 85h1.06M4 87h2.06M6 88h1.06M0 93h1.06M2 93h1.06M13 95h1.06M22 95h2.06M15 96h1.06M23 96h1.06M11 97h1.06M17 97h1.06M24 98h1.06M24 99h1.06"/>
<path stroke="#ffc700" d="M13 3h1.06M19 5h1.06M6 6h1.06M2 7h1.06M0 9h1.06M10 10h2.06M19 11h2.06M21 12h1.06M24 13h1.06M17 15h1.06M22 15h1.06M3 17h1.06M8 22h1.06M6 24h1.06M13 24h1.06M4 25h1.06M13 25h1.06M2 26h1.06M0 27h1.06M18 27h2.06M7 28h1.06M22 30h2.06M7 31h1.06M12 31h1.06M12 32h1.06M10 34h2.06M4 36h1.06M14 38h2.06M18 39h1.06M23 40h1.06M12 42h1.06M22 43h1.06M5 47h1.06M6 48h1.06M9 49h1.06M3 50h1.06M7 51h1.06M3 54h1.06M7 55h1.06M13 56h1.06M16 59h1.06M10 63h1.06M13 69h1.06M16 70h1.06M18 73h1.06M3 74h1.06M20 74h1.06M15 76h2.06M21 81h1.06M16 85h1.06M22 85h1.06M6 87h1.06M11 87h2.06M7 88h1.06M4 89h1.06M24 93h1.06M25 94h1.06M10 97h1.06M20 99h1.06M25 99h1.06"/>
<path stroke="#ffb700" d="M14 0h1.06M1 1h1.06M21 15h1.06M9 17h1.06M9 18h1.06M10 22h1.06M7 23h1.06M12 24h1.06M0 25h1.06M5 25h1.06M15 25h1.06M12 27h1.06M11 29h1.06M14 29h1.06M7 32h1.06M10 32h1.06M17 39h1.06M21 43h1.06M13 51h1.06M19 83h1.06M23 85h1.06M25 93h1.06"/>
<path stroke="#ffa700" d="M11 23h1.06M1 24h1.06M3 24h1.06M14 24h1.06M1 25h1.06M22 25h1.06M6 27h1.06M15 27h1.06M10 29h1.06M1 31h1.06M14 31h1.06M16 31h1.06M10 33h1.06M14 33h1.06M8 34h1.06M9 35h1.06M2 50h1.06M17 70h1.06M18 83h1.06"/>
<path stroke="#ff9700" d="M9 21h1.06M10 23h1.06M7 24h1.06M12 25h1.06M23 25h3.06M0 26h1.06M4 26h1.06M13 26h1.06M3 27h1.06M7 27h1.06M17 27h1.06M10 28h1.06M1 29h1.06M1 30h1.06M10 30h1.06M14 30h1.06M10 31h1.06M14 32h1.06"/>
<path stroke="#ff8700" d="M10 24h1.06M17 24h1.06M6 25h2.06M14 25h1.06M16 25h1.06M5 26h1.06M15 26h1.06M1 27h1.06M14 27h1.06M11 28h1.06M8 29h1.06M15 29h1.06"/>
<path stroke="#ff7800" d="M9 22h1.06M11 24h1.06M3 25h1.06M16 26h1.06M10 27h2.06M11 30h1.06M15 30h1.06M11 31h1.06M11 33h1.06"/>
<path stroke="#ff6800" d="M11 25h1.06M17 25h1.06M1 26h1.06M8 28h1.06M8 30h1.06M8 32h1.06M11 32h1.06M8 33h1.06"/>
<path stroke="#ff5800" d="M8 23h1.06M8 24h1.06M8 25h1.06M10 25h1.06M6 26h1.06M12 26h1.06M14 26h1.06M17 26h1.06M8 27h1.06M8 31h1.06"/>
<path stroke="#ff4800" d="M3 26h1.06M9 34h1.06"/>
<path stroke="#ff3800" d="M7 26h1.06"/>
<path stroke="#ff2800" d="M8 26h1.06M11 26h1.06M9 29h1.06M9 33h1.06"/>
<path stroke="#ff1800" d="M9 23h1.06M10 26h1.06M9 30h1.06"/>
<path stroke="#ff0800" d="M9 24h1.06M9 28h1.06M9 31h1.06M9 32h1.06"/>
<path stroke="#d70000" d="M9 27h1.06"/>
<path stroke="#c70000" d="M9 25h1.06"/>
<path stroke="#870000" d="M9 26h1.06"/>
</g></g></g>
<g filter="url(#tb)">
<g font-family='"Liberation Sans", sans-serif' font-weight="bold" fill="#262626">
<rect x="62.00" y="10.50" width="200.00" height="181.00" fill="none" stroke="#5a5a48" stroke-width="0.55"/>
<path d="M62.00 10.50h2M262.00 10.50h-2M62.00 33.12h2M262.00 33.12h-2M62.00 55.75h2M262.00 55.75h-2M62.00 78.38h2M262.00 78.38h-2M62.00 101.00h2M262.00 101.00h-2M62.00 123.62h2M262.00 123.62h-2M62.00 146.25h2M262.00 146.25h-2M62.00 168.88h2M262.00 168.88h-2M62.00 191.50h2M262.00 191.50h-2M62.00 191.50v-2M62.00 10.50v2M102.00 191.50v-2M102.00 10.50v2M142.00 191.50v-2M142.00 10.50v2M182.00 191.50v-2M182.00 10.50v2M222.00 191.50v-2M222.00 10.50v2M262.00 191.50v-2M262.00 10.50v2" stroke="#3a3a3a" stroke-width="0.6" fill="none"/>
<text x="58.30" y="14.15" font-size="8.30" text-anchor="end">-1050</text>
<text x="58.30" y="36.88" font-size="8.30" text-anchor="end">-1040</text>
<text x="58.30" y="59.61" font-size="8.30" text-anchor="end">-1030</text>
<text x="58.30" y="82.34" font-size="8.30" text-anchor="end">-1020</text>
<text x="58.30" y="105.08" font-size="8.30" text-anchor="end">-1010</text>
<text x="58.30" y="127.81" font-size="8.30" text-anchor="end">-1000</text>
<text x="58.30" y="150.54" font-size="8.30" text-anchor="end">-990</text>
<text x="58.30" y="173.27" font-size="8.30" text-anchor="end">-980</text>
<text x="58.30" y="196.00" font-size="8.30" text-anchor="end">-970</text>
<text x="62.00" y="204.50" font-size="8.30" text-anchor="middle">30</text>
<text x="102.00" y="204.50" font-size="8.30" text-anchor="middle">35</text>
<text x="142.00" y="204.50" font-size="8.30" text-anchor="middle">40</text>
<text x="182.00" y="204.50" font-size="8.30" text-anchor="middle">45</text>
<text x="222.00" y="204.50" font-size="8.30" text-anchor="middle">50</text>
<text x="262.00" y="204.50" font-size="8.30" text-anchor="middle">55</text>
<text x="162.00" y="217.00" font-size="9.50" text-anchor="middle">Range bin</text>
<text transform="translate(32.50 102.00) rotate(-90) scale(1.000 1)" font-size="9.50" text-anchor="middle">Doppler shift (Hz)</text>
</g>
<rect x="130.25" y="51.75" width="69.50" height="68.75" fill="none" stroke="#0a0a0a" stroke-width="0.90"/>
<g font-family='"Liberation Sans", sans-serif' font-weight="bold" fill="#262626">
<rect x="337.50" y="10.50" width="200.00" height="181.00" fill="none" stroke="#5a5a48" stroke-width="0.55"/>
<path d="M337.50 10.50h2M537.50 10.50h-2M337.50 33.12h2M537.50 33.12h-2M337.50 55.75h2M537.50 55.75h-2M337.50 78.38h2M537.50 78.38h-2M337.50 101.00h2M537.50 101.00h-2M337.50 123.62h2M537.50 123.62h-2M337.50 146.25h2M537.50 146.25h-2M337.50 168.88h2M537.50 168.88h-2M337.50 191.50h2M537.50 191.50h-2M337.50 191.50v-2M337.50 10.50v2M377.50 191.50v-2M377.50 10.50v2M417.50 191.50v-2M417.50 10.50v2M457.50 191.50v-2M457.50 10.50v2M497.50 191.50v-2M497.50 10.50v2M537.50 191.50v-2M537.50 10.50v2" stroke="#3a3a3a" stroke-width="0.6" fill="none"/>
<text x="333.80" y="14.15" font-size="8.30" text-anchor="end">-1050</text>
<text x="333.80" y="36.88" font-size="8.30" text-anchor="end">-1040</text>
<text x="333.80" y="59.61" font-size="8.30" text-anchor="end">-1030</text>
<text x="333.80" y="82.34" font-size="8.30" text-anchor="end">-1020</text>
<text x="333.80" y="105.08" font-size="8.30" text-anchor="end">-1010</text>
<text x="333.80" y="127.81" font-size="8.30" text-anchor="end">-1000</text>
<text x="333.80" y="150.54" font-size="8.30" text-anchor="end">-990</text>
<text x="333.80" y="173.27" font-size="8.30" text-anchor="end">-980</text>
<text x="333.80" y="196.00" font-size="8.30" text-anchor="end">-970</text>
<text x="337.50" y="204.50" font-size="8.30" text-anchor="middle">30</text>
<text x="377.50" y="204.50" font-size="8.30" text-anchor="middle">35</text>
<text x="417.50" y="204.50" font-size="8.30" text-anchor="middle">40</text>
<text x="457.50" y="204.50" font-size="8.30" text-anchor="middle">45</text>
<text x="497.50" y="204.50" font-size="8.30" text-anchor="middle">50</text>
<text x="537.50" y="204.50" font-size="8.30" text-anchor="middle">55</text>
<text x="437.50" y="217.00" font-size="9.50" text-anchor="middle">Range bin</text>
<text transform="translate(308.00 102.00) rotate(-90) scale(1.000 1)" font-size="9.50" text-anchor="middle">Doppler shift (Hz)</text>
</g>
<rect x="413.25" y="50.75" width="55.75" height="26.75" fill="none" stroke="#0a0a0a" stroke-width="0.90"/>
<g font-family='"Liberation Sans", sans-serif' font-weight="bold" fill="#262626">
<rect x="612.50" y="11.00" width="199.50" height="180.50" fill="none" stroke="#5a5a48" stroke-width="0.55"/>
<path d="M612.50 11.00h2M812.00 11.00h-2M612.50 33.56h2M812.00 33.56h-2M612.50 56.12h2M812.00 56.12h-2M612.50 78.69h2M812.00 78.69h-2M612.50 101.25h2M812.00 101.25h-2M612.50 123.81h2M812.00 123.81h-2M612.50 146.38h2M812.00 146.38h-2M612.50 168.94h2M812.00 168.94h-2M612.50 191.50h2M812.00 191.50h-2M612.50 191.50v-2M612.50 11.00v2M652.40 191.50v-2M652.40 11.00v2M692.30 191.50v-2M692.30 11.00v2M732.20 191.50v-2M732.20 11.00v2M772.10 191.50v-2M772.10 11.00v2M812.00 191.50v-2M812.00 11.00v2" stroke="#3a3a3a" stroke-width="0.6" fill="none"/>
<text x="608.80" y="14.65" font-size="8.30" text-anchor="end">-1050</text>
<text x="608.80" y="37.32" font-size="8.30" text-anchor="end">-1040</text>
<text x="608.80" y="59.99" font-size="8.30" text-anchor="end">-1030</text>
<text x="608.80" y="82.66" font-size="8.30" text-anchor="end">-1020</text>
<text x="608.80" y="105.33" font-size="8.30" text-anchor="end">-1010</text>
<text x="608.80" y="127.99" font-size="8.30" text-anchor="end">-1000</text>
<text x="608.80" y="150.66" font-size="8.30" text-anchor="end">-990</text>
<text x="608.80" y="173.33" font-size="8.30" text-anchor="end">-980</text>
<text x="608.80" y="196.00" font-size="8.30" text-anchor="end">-970</text>
<text x="612.50" y="204.50" font-size="8.30" text-anchor="middle">30</text>
<text x="652.40" y="204.50" font-size="8.30" text-anchor="middle">35</text>
<text x="692.30" y="204.50" font-size="8.30" text-anchor="middle">40</text>
<text x="732.20" y="204.50" font-size="8.30" text-anchor="middle">45</text>
<text x="772.10" y="204.50" font-size="8.30" text-anchor="middle">50</text>
<text x="812.00" y="204.50" font-size="8.30" text-anchor="middle">55</text>
<text x="712.25" y="217.00" font-size="9.50" text-anchor="middle">Range bin</text>
<text transform="translate(583.00 102.25) rotate(-90) scale(1.000 1)" font-size="9.50" text-anchor="middle">Doppler shift (Hz)</text>
</g>
<rect x="682.00" y="51.75" width="23.50" height="26.75" fill="none" stroke="#0a0a0a" stroke-width="0.90"/>
<g font-family='"Liberation Sans", sans-serif' font-weight="bold" fill="#262626">
<rect x="61.50" y="329.50" width="200.50" height="182.00" fill="none" stroke="#5a5a48" stroke-width="0.55"/>
<path d="M61.50 329.50h2M262.00 329.50h-2M61.50 352.25h2M262.00 352.25h-2M61.50 375.00h2M262.00 375.00h-2M61.50 397.75h2M262.00 397.75h-2M61.50 420.50h2M262.00 420.50h-2M61.50 443.25h2M262.00 443.25h-2M61.50 466.00h2M262.00 466.00h-2M61.50 488.75h2M262.00 488.75h-2M61.50 511.50h2M262.00 511.50h-2M61.50 511.50v-2M61.50 329.50v2M101.60 511.50v-2M101.60 329.50v2M141.70 511.50v-2M141.70 329.50v2M181.80 511.50v-2M181.80 329.50v2M221.90 511.50v-2M221.90 329.50v2M262.00 511.50v-2M262.00 329.50v2" stroke="#3a3a3a" stroke-width="0.6" fill="none"/>
<text x="57.80" y="333.40" font-size="8.30" text-anchor="end">-1050</text>
<text x="57.80" y="356.21" font-size="8.30" text-anchor="end">-1040</text>
<text x="57.80" y="379.02" font-size="8.30" text-anchor="end">-1030</text>
<text x="57.80" y="401.84" font-size="8.30" text-anchor="end">-1020</text>
<text x="57.80" y="424.65" font-size="8.30" text-anchor="end">-1010</text>
<text x="57.80" y="447.46" font-size="8.30" text-anchor="end">-1000</text>
<text x="57.80" y="470.27" font-size="8.30" text-anchor="end">-990</text>
<text x="57.80" y="493.09" font-size="8.30" text-anchor="end">-980</text>
<text x="57.80" y="515.90" font-size="8.30" text-anchor="end">-970</text>
<text x="61.50" y="524.10" font-size="8.30" text-anchor="middle">30</text>
<text x="101.60" y="524.10" font-size="8.30" text-anchor="middle">35</text>
<text x="141.70" y="524.10" font-size="8.30" text-anchor="middle">40</text>
<text x="181.80" y="524.10" font-size="8.30" text-anchor="middle">45</text>
<text x="221.90" y="524.10" font-size="8.30" text-anchor="middle">50</text>
<text x="262.00" y="524.10" font-size="8.30" text-anchor="middle">55</text>
<text x="161.75" y="536.50" font-size="9.50" text-anchor="middle">Range bin</text>
<text transform="translate(32.00 421.70) rotate(-90) scale(1.000 1)" font-size="9.50" text-anchor="middle">Doppler shift (Hz)</text>
</g>
<rect x="145.50" y="384.50" width="100.25" height="101.75" fill="none" stroke="#0a0a0a" stroke-width="0.90"/>
<g font-family='"Liberation Sans", sans-serif' font-weight="bold" fill="#262626">
<rect x="326.75" y="329.50" width="200.25" height="182.00" fill="none" stroke="#5a5a48" stroke-width="0.55"/>
<path d="M326.75 329.50h2M527.00 329.50h-2M326.75 352.25h2M527.00 352.25h-2M326.75 375.00h2M527.00 375.00h-2M326.75 397.75h2M527.00 397.75h-2M326.75 420.50h2M527.00 420.50h-2M326.75 443.25h2M527.00 443.25h-2M326.75 466.00h2M527.00 466.00h-2M326.75 488.75h2M527.00 488.75h-2M326.75 511.50h2M527.00 511.50h-2M326.75 511.50v-2M326.75 329.50v2M366.80 511.50v-2M366.80 329.50v2M406.85 511.50v-2M406.85 329.50v2M446.90 511.50v-2M446.90 329.50v2M486.95 511.50v-2M486.95 329.50v2M527.00 511.50v-2M527.00 329.50v2" stroke="#3a3a3a" stroke-width="0.6" fill="none"/>
<text x="323.05" y="333.40" font-size="8.30" text-anchor="end">-1050</text>
<text x="323.05" y="356.21" font-size="8.30" text-anchor="end">-1040</text>
<text x="323.05" y="379.02" font-size="8.30" text-anchor="end">-1030</text>
<text x="323.05" y="401.84" font-size="8.30" text-anchor="end">-1020</text>
<text x="323.05" y="424.65" font-size="8.30" text-anchor="end">-1010</text>
<text x="323.05" y="447.46" font-size="8.30" text-anchor="end">-1000</text>
<text x="323.05" y="470.27" font-size="8.30" text-anchor="end">-990</text>
<text x="323.05" y="493.09" font-size="8.30" text-anchor="end">-980</text>
<text x="323.05" y="515.90" font-size="8.30" text-anchor="end">-970</text>
<text x="326.75" y="524.10" font-size="8.30" text-anchor="middle">30</text>
<text x="366.80" y="524.10" font-size="8.30" text-anchor="middle">35</text>
<text x="406.85" y="524.10" font-size="8.30" text-anchor="middle">40</text>
<text x="446.90" y="524.10" font-size="8.30" text-anchor="middle">45</text>
<text x="486.95" y="524.10" font-size="8.30" text-anchor="middle">50</text>
<text x="527.00" y="524.10" font-size="8.30" text-anchor="middle">55</text>
<text x="426.88" y="536.50" font-size="9.50" text-anchor="middle">Range bin</text>
<text transform="translate(297.25 421.70) rotate(-90) scale(1.000 1)" font-size="9.50" text-anchor="middle">Doppler shift (Hz)</text>
</g>
<rect x="410.50" y="384.25" width="105.50" height="27.00" fill="none" stroke="#0a0a0a" stroke-width="0.90"/>
<g font-family='"Liberation Sans", sans-serif' font-weight="bold" fill="#262626">
<rect x="599.00" y="329.50" width="200.00" height="182.00" fill="none" stroke="#5a5a48" stroke-width="0.55"/>
<path d="M599.00 329.50h2M799.00 329.50h-2M599.00 352.25h2M799.00 352.25h-2M599.00 375.00h2M799.00 375.00h-2M599.00 397.75h2M799.00 397.75h-2M599.00 420.50h2M799.00 420.50h-2M599.00 443.25h2M799.00 443.25h-2M599.00 466.00h2M799.00 466.00h-2M599.00 488.75h2M799.00 488.75h-2M599.00 511.50h2M799.00 511.50h-2M599.00 511.50v-2M599.00 329.50v2M639.00 511.50v-2M639.00 329.50v2M679.00 511.50v-2M679.00 329.50v2M719.00 511.50v-2M719.00 329.50v2M759.00 511.50v-2M759.00 329.50v2M799.00 511.50v-2M799.00 329.50v2" stroke="#3a3a3a" stroke-width="0.6" fill="none"/>
<text x="595.30" y="333.40" font-size="8.30" text-anchor="end">-1050</text>
<text x="595.30" y="356.21" font-size="8.30" text-anchor="end">-1040</text>
<text x="595.30" y="379.02" font-size="8.30" text-anchor="end">-1030</text>
<text x="595.30" y="401.84" font-size="8.30" text-anchor="end">-1020</text>
<text x="595.30" y="424.65" font-size="8.30" text-anchor="end">-1010</text>
<text x="595.30" y="447.46" font-size="8.30" text-anchor="end">-1000</text>
<text x="595.30" y="470.27" font-size="8.30" text-anchor="end">-990</text>
<text x="595.30" y="493.09" font-size="8.30" text-anchor="end">-980</text>
<text x="595.30" y="515.90" font-size="8.30" text-anchor="end">-970</text>
<text x="599.00" y="524.10" font-size="8.30" text-anchor="middle">30</text>
<text x="639.00" y="524.10" font-size="8.30" text-anchor="middle">35</text>
<text x="679.00" y="524.10" font-size="8.30" text-anchor="middle">40</text>
<text x="719.00" y="524.10" font-size="8.30" text-anchor="middle">45</text>
<text x="759.00" y="524.10" font-size="8.30" text-anchor="middle">50</text>
<text x="799.00" y="524.10" font-size="8.30" text-anchor="middle">55</text>
<text x="699.00" y="536.50" font-size="9.50" text-anchor="middle">Range bin</text>
<text transform="translate(569.50 421.70) rotate(-90) scale(1.000 1)" font-size="9.50" text-anchor="middle">Doppler shift (Hz)</text>
</g>
<rect x="690.00" y="381.75" width="36.25" height="27.50" fill="none" stroke="#0a0a0a" stroke-width="0.90"/>
<g font-family='"DejaVu Sans", "Liberation Sans", sans-serif' font-weight="bold" fill="#262626">
<rect x="58.00" y="654.00" width="194.50" height="182.00" fill="none" stroke="#5a5a48" stroke-width="0.55"/>
<path d="M58.00 654.00h2M252.50 654.00h-2M58.00 676.75h2M252.50 676.75h-2M58.00 699.50h2M252.50 699.50h-2M58.00 722.25h2M252.50 722.25h-2M58.00 745.00h2M252.50 745.00h-2M58.00 767.75h2M252.50 767.75h-2M58.00 790.50h2M252.50 790.50h-2M58.00 813.25h2M252.50 813.25h-2M58.00 836.00h2M252.50 836.00h-2M58.00 836.00v-2M58.00 654.00v2M96.90 836.00v-2M96.90 654.00v2M135.80 836.00v-2M135.80 654.00v2M174.70 836.00v-2M174.70 654.00v2M213.60 836.00v-2M213.60 654.00v2M252.50 836.00v-2M252.50 654.00v2" stroke="#3a3a3a" stroke-width="0.6" fill="none"/>
<text x="53.30" y="657.50" font-size="8.65" text-anchor="end">-1050</text>
<text x="53.30" y="680.34" font-size="8.65" text-anchor="end">-1040</text>
<text x="53.30" y="703.17" font-size="8.65" text-anchor="end">-1030</text>
<text x="53.30" y="726.01" font-size="8.65" text-anchor="end">-1020</text>
<text x="53.30" y="748.85" font-size="8.65" text-anchor="end">-1010</text>
<text x="53.30" y="771.69" font-size="8.65" text-anchor="end">-1000</text>
<text x="53.30" y="794.52" font-size="8.65" text-anchor="end">-990</text>
<text x="53.30" y="817.36" font-size="8.65" text-anchor="end">-980</text>
<text x="53.30" y="840.20" font-size="8.65" text-anchor="end">-970</text>
<text x="58.00" y="847.20" font-size="8.65" text-anchor="middle">30</text>
<text x="96.90" y="847.20" font-size="8.65" text-anchor="middle">35</text>
<text x="135.80" y="847.20" font-size="8.65" text-anchor="middle">40</text>
<text x="174.70" y="847.20" font-size="8.65" text-anchor="middle">45</text>
<text x="213.60" y="847.20" font-size="8.65" text-anchor="middle">50</text>
<text x="252.50" y="847.20" font-size="8.65" text-anchor="middle">55</text>
<text x="155.25" y="859.45" font-size="10.30" text-anchor="middle">Range bin</text>
<text transform="translate(20.40 746.50) rotate(-90) scale(1.000 1)" font-size="9.65" text-anchor="middle">Doppler shift (Hz)</text>
</g>
<rect x="116.50" y="691.50" width="109.75" height="109.00" fill="none" stroke="#0a0a0a" stroke-width="0.90"/>
<g font-family='"DejaVu Sans", "Liberation Sans", sans-serif' font-weight="bold" fill="#262626">
<rect x="332.50" y="656.00" width="189.25" height="179.50" fill="none" stroke="#5a5a48" stroke-width="0.55"/>
<path d="M332.50 656.00h2M521.75 656.00h-2M332.50 678.44h2M521.75 678.44h-2M332.50 700.88h2M521.75 700.88h-2M332.50 723.31h2M521.75 723.31h-2M332.50 745.75h2M521.75 745.75h-2M332.50 768.19h2M521.75 768.19h-2M332.50 790.62h2M521.75 790.62h-2M332.50 813.06h2M521.75 813.06h-2M332.50 835.50h2M521.75 835.50h-2M332.50 835.50v-2M332.50 656.00v2M370.35 835.50v-2M370.35 656.00v2M408.20 835.50v-2M408.20 656.00v2M446.05 835.50v-2M446.05 656.00v2M483.90 835.50v-2M483.90 656.00v2M521.75 835.50v-2M521.75 656.00v2" stroke="#3a3a3a" stroke-width="0.6" fill="none"/>
<text x="327.80" y="659.50" font-size="8.65" text-anchor="end">-1050</text>
<text x="327.80" y="682.09" font-size="8.65" text-anchor="end">-1040</text>
<text x="327.80" y="704.67" font-size="8.65" text-anchor="end">-1030</text>
<text x="327.80" y="727.26" font-size="8.65" text-anchor="end">-1020</text>
<text x="327.80" y="749.85" font-size="8.65" text-anchor="end">-1010</text>
<text x="327.80" y="772.44" font-size="8.65" text-anchor="end">-1000</text>
<text x="327.80" y="795.02" font-size="8.65" text-anchor="end">-990</text>
<text x="327.80" y="817.61" font-size="8.65" text-anchor="end">-980</text>
<text x="327.80" y="840.20" font-size="8.65" text-anchor="end">-970</text>
<text x="332.50" y="847.20" font-size="8.65" text-anchor="middle">30</text>
<text x="370.35" y="847.20" font-size="8.65" text-anchor="middle">35</text>
<text x="408.20" y="847.20" font-size="8.65" text-anchor="middle">40</text>
<text x="446.05" y="847.20" font-size="8.65" text-anchor="middle">45</text>
<text x="483.90" y="847.20" font-size="8.65" text-anchor="middle">50</text>
<text x="521.75" y="847.20" font-size="8.65" text-anchor="middle">55</text>
<text x="427.12" y="859.45" font-size="10.30" text-anchor="middle">Range bin</text>
<text transform="translate(296.80 747.95) rotate(-90) scale(1.000 1)" font-size="9.85" text-anchor="middle">Doppler shift (Hz)</text>
</g>
<rect x="391.25" y="690.50" width="106.50" height="34.75" fill="none" stroke="#0a0a0a" stroke-width="0.90"/>
<g font-family='"DejaVu Sans", "Liberation Sans", sans-serif' font-weight="bold" fill="#262626">
<rect x="600.75" y="655.75" width="194.50" height="177.75" fill="none" stroke="#5a5a48" stroke-width="0.55"/>
<path d="M600.75 655.75h2M795.25 655.75h-2M600.75 677.97h2M795.25 677.97h-2M600.75 700.19h2M795.25 700.19h-2M600.75 722.41h2M795.25 722.41h-2M600.75 744.62h2M795.25 744.62h-2M600.75 766.84h2M795.25 766.84h-2M600.75 789.06h2M795.25 789.06h-2M600.75 811.28h2M795.25 811.28h-2M600.75 833.50h2M795.25 833.50h-2M600.75 833.50v-2M600.75 655.75v2M639.65 833.50v-2M639.65 655.75v2M678.55 833.50v-2M678.55 655.75v2M717.45 833.50v-2M717.45 655.75v2M756.35 833.50v-2M756.35 655.75v2M795.25 833.50v-2M795.25 655.75v2" stroke="#3a3a3a" stroke-width="0.6" fill="none"/>
<text x="596.05" y="659.75" font-size="8.65" text-anchor="end">-1050</text>
<text x="596.05" y="682.03" font-size="8.65" text-anchor="end">-1040</text>
<text x="596.05" y="704.31" font-size="8.65" text-anchor="end">-1030</text>
<text x="596.05" y="726.59" font-size="8.65" text-anchor="end">-1020</text>
<text x="596.05" y="748.88" font-size="8.65" text-anchor="end">-1010</text>
<text x="596.05" y="771.16" font-size="8.65" text-anchor="end">-1000</text>
<text x="596.05" y="793.44" font-size="8.65" text-anchor="end">-990</text>
<text x="596.05" y="815.72" font-size="8.65" text-anchor="end">-980</text>
<text x="596.05" y="838.00" font-size="8.65" text-anchor="end">-970</text>
<text x="600.75" y="846.00" font-size="8.65" text-anchor="middle">30</text>
<text x="639.65" y="846.00" font-size="8.65" text-anchor="middle">35</text>
<text x="678.55" y="846.00" font-size="8.65" text-anchor="middle">40</text>
<text x="717.45" y="846.00" font-size="8.65" text-anchor="middle">45</text>
<text x="756.35" y="846.00" font-size="8.65" text-anchor="middle">50</text>
<text x="795.25" y="846.00" font-size="8.65" text-anchor="middle">55</text>
<text x="698.00" y="859.90" font-size="10.30" text-anchor="middle">Range bin</text>
<text transform="translate(563.35 747.52) rotate(-90) scale(1.000 1)" font-size="10.50" text-anchor="middle">Doppler shift (Hz)</text>
</g>
<rect x="652.00" y="691.50" width="46.75" height="27.75" fill="none" stroke="#0a0a0a" stroke-width="0.90"/>
<rect x="822.30" y="11.20" width="10.90" height="180.80" fill="url(#jet)" stroke="#555" stroke-width="0.5"/>
<g font-family='"Liberation Sans", sans-serif' font-weight="normal" fill="#262626" font-size="7.60">
<text x="836.60" y="14.60">260</text>
<text x="836.60" y="40.43">250</text>
<text x="836.60" y="66.26">240</text>
<text x="836.60" y="92.09">230</text>
<text x="836.60" y="117.91">220</text>
<text x="836.60" y="143.74">210</text>
<text x="836.60" y="169.57">200</text>
<text x="836.60" y="195.40">190</text>
</g>
<path d="M833.20 37.03h-1.3M833.20 62.86h-1.3M833.20 88.69h-1.3M833.20 114.51h-1.3M833.20 140.34h-1.3M833.20 166.17h-1.3" stroke="#333" stroke-width="0.5" fill="none"/>
<rect x="809.60" y="330.20" width="11.00" height="181.30" fill="url(#jet)" stroke="#555" stroke-width="0.5"/>
<g font-family='"Liberation Sans", sans-serif' font-weight="normal" fill="#262626" font-size="7.60">
<text x="824.00" y="333.40">260</text>
<text x="824.00" y="359.30">250</text>
<text x="824.00" y="385.20">240</text>
<text x="824.00" y="411.10">230</text>
<text x="824.00" y="437.00">220</text>
<text x="824.00" y="462.90">210</text>
<text x="824.00" y="488.80">200</text>
<text x="824.00" y="514.70">190</text>
</g>
<path d="M820.60 356.10h-1.3M820.60 382.00h-1.3M820.60 407.90h-1.3M820.60 433.80h-1.3M820.60 459.70h-1.3M820.60 485.60h-1.3" stroke="#333" stroke-width="0.5" fill="none"/>
<rect x="808.00" y="656.50" width="11.25" height="177.00" fill="url(#jet)" stroke="#555" stroke-width="0.5"/>
<g font-family='"DejaVu Sans", "Liberation Sans", sans-serif' font-weight="bold" fill="#262626" font-size="7.90">
<text x="823.00" y="659.60">260</text>
<text x="823.00" y="684.89">250</text>
<text x="823.00" y="710.17">240</text>
<text x="823.00" y="735.46">230</text>
<text x="823.00" y="760.74">220</text>
<text x="823.00" y="786.03">210</text>
<text x="823.00" y="811.31">200</text>
<text x="823.00" y="836.60">190</text>
</g>
<path d="M819.25 681.79h-1.3M819.25 707.07h-1.3M819.25 732.36h-1.3M819.25 757.64h-1.3M819.25 782.93h-1.3M819.25 808.21h-1.3" stroke="#333" stroke-width="0.5" fill="none"/>
</g>
<text x="346.2" y="270.2" font-family='"Liberation Serif", "DejaVu Serif", serif' font-size="24.0" fill="#1a1a1a" stroke="#1a1a1a" stroke-width="0.3"><tspan font-size="27" letter-spacing="1.2">(</tspan><tspan font-weight="bold" font-size="26.5" letter-spacing="1.2">a</tspan><tspan font-size="27">)</tspan><tspan x="384.8" font-style="italic">T</tspan><tspan font-style="italic" font-size="18" dy="3.6">int</tspan><tspan x="427.0" dy="-3.6">=</tspan><tspan x="445.6">750</tspan><tspan x="486.6">ms</tspan></text>
<text x="336.1" y="591.4" font-family='"Liberation Serif", "DejaVu Serif", serif' font-size="24.0" fill="#1a1a1a" stroke="#1a1a1a" stroke-width="0.3"><tspan font-size="27" letter-spacing="1.2">(</tspan><tspan font-weight="bold" font-size="26.5" letter-spacing="1.2">b</tspan><tspan font-size="27">)</tspan><tspan x="376.4" font-style="italic">T</tspan><tspan font-style="italic" font-size="18" dy="3.6">int</tspan><tspan x="419.5" dy="-3.6">=</tspan><tspan x="437.8">1000</tspan><tspan x="491.2">ms</tspan></text>
<text x="338.6" y="912.4" font-family='"Liberation Serif", "DejaVu Serif", serif' font-size="24.0" fill="#1a1a1a" stroke="#1a1a1a" stroke-width="0.3"><tspan font-size="27" letter-spacing="1.2">(</tspan><tspan font-weight="bold" font-size="26.5" letter-spacing="1.2">c</tspan><tspan font-size="27">)</tspan><tspan x="374.2" font-style="italic">T</tspan><tspan font-style="italic" font-size="18" dy="3.6">int</tspan><tspan x="416.4" dy="-3.6">=</tspan><tspan x="435.6">1250</tspan><tspan x="488.4">ms</tspan></text>
</svg></body></html>
